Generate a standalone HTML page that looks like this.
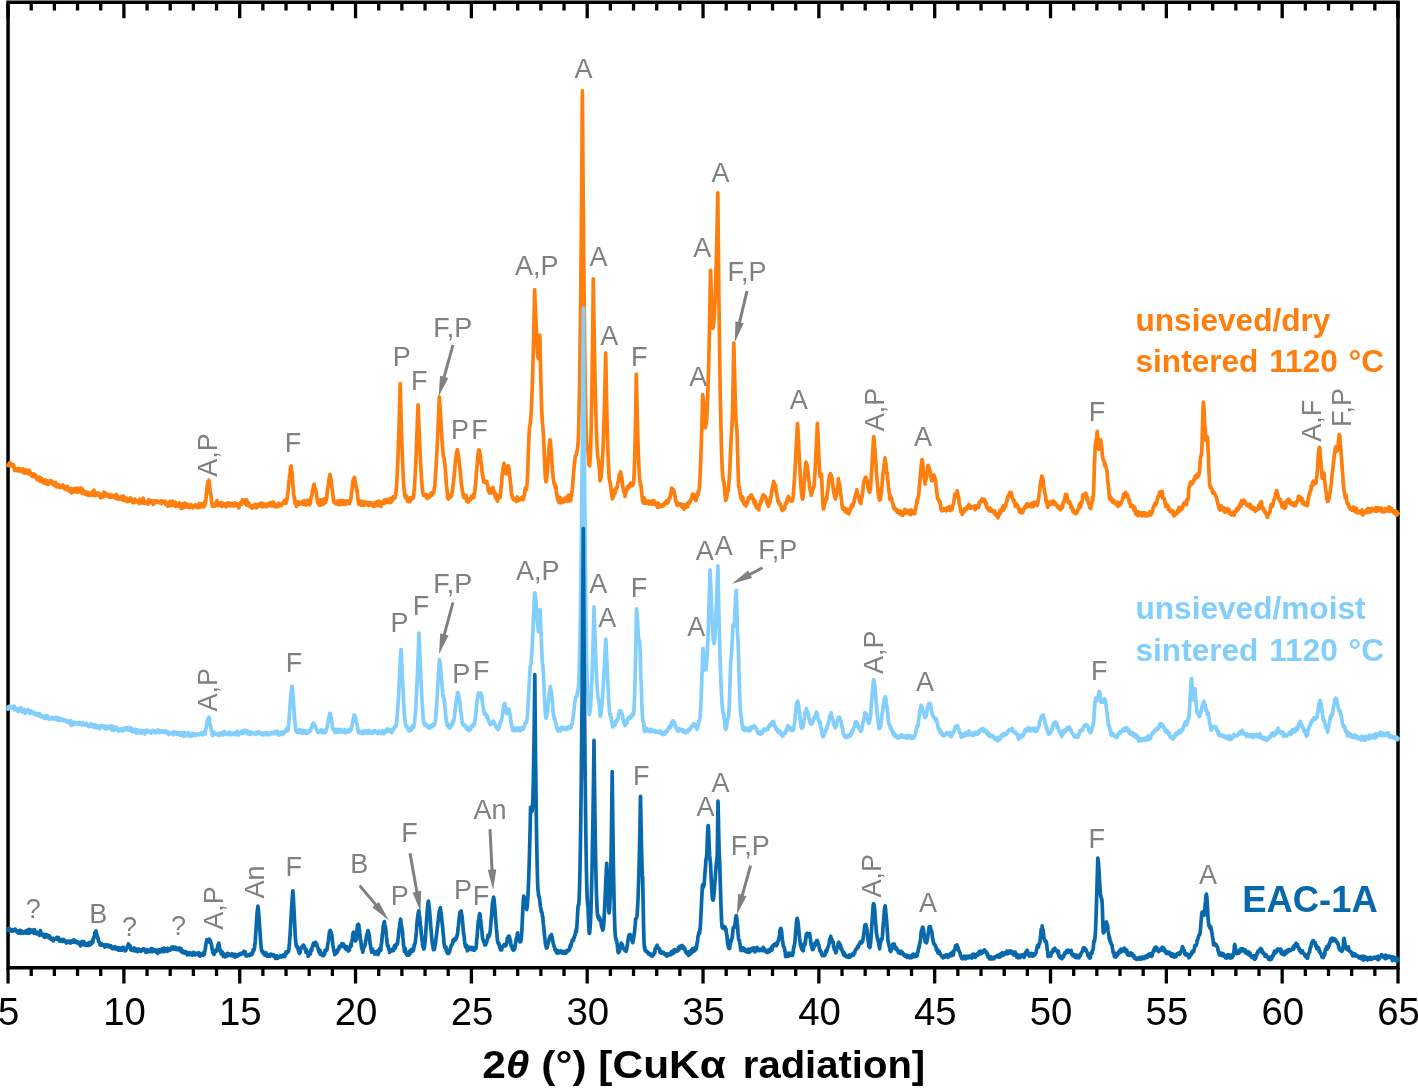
<!DOCTYPE html>
<html><head><meta charset="utf-8"><title>XRD</title>
<style>html,body{margin:0;padding:0;background:#fff}svg{display:block}</style></head>
<body>
<svg width="1418" height="1088" viewBox="0 0 1418 1088">
<rect width="1418" height="1088" fill="#fff"/>
<g stroke="#000" stroke-width="3.5" fill="none" stroke-linecap="butt">
<path d="M8.05 2.30 H1398.00 V967.70 H8.05 Z"/>
<path stroke-width="3.3" d="M8.05 2.30 V18.30 M8.05 967.70 V983.50 M31.22 2.30 V10.60 M31.22 967.70 V976.10 M54.38 2.30 V10.60 M54.38 967.70 V976.10 M77.55 2.30 V10.60 M77.55 967.70 V976.10 M100.71 2.30 V10.60 M100.71 967.70 V976.10 M123.88 2.30 V18.30 M123.88 967.70 V983.50 M147.05 2.30 V10.60 M147.05 967.70 V976.10 M170.21 2.30 V10.60 M170.21 967.70 V976.10 M193.38 2.30 V10.60 M193.38 967.70 V976.10 M216.54 2.30 V10.60 M216.54 967.70 V976.10 M239.71 2.30 V18.30 M239.71 967.70 V983.50 M262.88 2.30 V10.60 M262.88 967.70 V976.10 M286.04 2.30 V10.60 M286.04 967.70 V976.10 M309.21 2.30 V10.60 M309.21 967.70 V976.10 M332.37 2.30 V10.60 M332.37 967.70 V976.10 M355.54 2.30 V18.30 M355.54 967.70 V983.50 M378.71 2.30 V10.60 M378.71 967.70 V976.10 M401.87 2.30 V10.60 M401.87 967.70 V976.10 M425.04 2.30 V10.60 M425.04 967.70 V976.10 M448.20 2.30 V10.60 M448.20 967.70 V976.10 M471.37 2.30 V18.30 M471.37 967.70 V983.50 M494.54 2.30 V10.60 M494.54 967.70 V976.10 M517.70 2.30 V10.60 M517.70 967.70 V976.10 M540.87 2.30 V10.60 M540.87 967.70 V976.10 M564.03 2.30 V10.60 M564.03 967.70 V976.10 M587.20 2.30 V18.30 M587.20 967.70 V983.50 M610.37 2.30 V10.60 M610.37 967.70 V976.10 M633.53 2.30 V10.60 M633.53 967.70 V976.10 M656.70 2.30 V10.60 M656.70 967.70 V976.10 M679.86 2.30 V10.60 M679.86 967.70 V976.10 M703.03 2.30 V18.30 M703.03 967.70 V983.50 M726.20 2.30 V10.60 M726.20 967.70 V976.10 M749.36 2.30 V10.60 M749.36 967.70 V976.10 M772.53 2.30 V10.60 M772.53 967.70 V976.10 M795.69 2.30 V10.60 M795.69 967.70 V976.10 M818.86 2.30 V18.30 M818.86 967.70 V983.50 M842.03 2.30 V10.60 M842.03 967.70 V976.10 M865.19 2.30 V10.60 M865.19 967.70 V976.10 M888.36 2.30 V10.60 M888.36 967.70 V976.10 M911.52 2.30 V10.60 M911.52 967.70 V976.10 M934.69 2.30 V18.30 M934.69 967.70 V983.50 M957.86 2.30 V10.60 M957.86 967.70 V976.10 M981.02 2.30 V10.60 M981.02 967.70 V976.10 M1004.19 2.30 V10.60 M1004.19 967.70 V976.10 M1027.35 2.30 V10.60 M1027.35 967.70 V976.10 M1050.52 2.30 V18.30 M1050.52 967.70 V983.50 M1073.69 2.30 V10.60 M1073.69 967.70 V976.10 M1096.85 2.30 V10.60 M1096.85 967.70 V976.10 M1120.02 2.30 V10.60 M1120.02 967.70 V976.10 M1143.18 2.30 V10.60 M1143.18 967.70 V976.10 M1166.35 2.30 V18.30 M1166.35 967.70 V983.50 M1189.52 2.30 V10.60 M1189.52 967.70 V976.10 M1212.68 2.30 V10.60 M1212.68 967.70 V976.10 M1235.85 2.30 V10.60 M1235.85 967.70 V976.10 M1259.01 2.30 V10.60 M1259.01 967.70 V976.10 M1282.18 2.30 V18.30 M1282.18 967.70 V983.50 M1305.35 2.30 V10.60 M1305.35 967.70 V976.10 M1328.51 2.30 V10.60 M1328.51 967.70 V976.10 M1351.68 2.30 V10.60 M1351.68 967.70 V976.10 M1374.84 2.30 V10.60 M1374.84 967.70 V976.10 M1398.01 2.30 V18.30 M1398.01 967.70 V983.50"/>
</g>
<g fill="none" stroke-linejoin="round" stroke-linecap="round" stroke-width="3.7">
<path stroke="#FF7F0E" d="M8.0 465.0 L8.4 465.6 L8.8 464.3 L9.2 463.5 L9.6 463.0 L10.0 464.6 L10.4 463.6 L10.8 463.4 L11.2 465.6 L11.6 465.9 L12.0 466.3 L12.4 464.5 L12.8 465.6 L13.2 466.4 L13.6 464.9 L14.0 467.5 L14.4 467.5 L14.8 470.4 L15.2 468.4 L15.6 468.7 L16.0 470.6 L16.4 469.5 L16.8 470.1 L17.2 468.8 L17.6 469.7 L18.0 470.9 L18.4 470.9 L18.8 469.8 L19.2 468.3 L19.6 470.3 L20.0 470.0 L20.4 471.2 L20.8 470.3 L21.2 471.5 L21.6 470.3 L22.0 470.2 L22.4 471.0 L22.8 468.8 L23.2 470.2 L23.6 470.3 L24.0 473.1 L24.4 470.7 L24.8 471.7 L25.2 471.9 L25.6 471.5 L26.0 470.0 L26.4 472.9 L26.8 470.8 L27.2 472.0 L27.6 470.0 L28.0 471.4 L28.4 473.5 L28.8 473.8 L29.2 470.3 L29.6 470.7 L30.0 472.9 L30.4 474.5 L30.8 474.2 L31.2 474.7 L31.6 473.6 L32.0 475.8 L32.4 476.6 L32.8 474.9 L33.2 473.9 L33.6 474.4 L34.0 476.6 L34.4 474.1 L34.8 475.8 L35.2 474.8 L35.6 476.0 L36.0 476.1 L36.4 476.8 L36.8 479.2 L37.2 478.6 L37.6 479.9 L38.0 478.3 L38.4 478.6 L38.8 480.1 L39.2 476.8 L39.6 480.3 L40.0 480.9 L40.4 479.2 L40.8 481.5 L41.2 480.6 L41.6 478.2 L42.0 481.1 L42.4 480.1 L42.8 480.6 L43.2 481.2 L43.6 483.0 L44.0 482.0 L44.4 481.8 L44.8 482.0 L45.2 479.8 L45.6 483.6 L46.0 480.7 L46.4 482.6 L46.8 480.8 L47.2 481.0 L47.6 481.6 L48.0 484.6 L48.4 483.5 L48.8 481.8 L49.2 481.7 L49.6 480.8 L50.0 482.2 L50.4 481.7 L50.8 483.1 L51.2 480.8 L51.6 481.8 L52.0 481.4 L52.4 482.0 L52.8 484.1 L53.2 483.6 L53.6 484.5 L54.0 485.2 L54.4 485.4 L54.8 482.5 L55.2 485.0 L55.6 482.4 L56.0 484.2 L56.4 486.8 L56.8 484.6 L57.2 484.5 L57.6 485.3 L58.0 485.4 L58.4 485.6 L58.8 484.9 L59.2 487.1 L59.6 487.4 L60.0 486.0 L60.4 486.6 L60.8 486.8 L61.2 487.3 L61.6 486.8 L62.0 487.3 L62.4 485.8 L62.8 485.0 L63.2 485.7 L63.6 487.8 L64.0 488.0 L64.4 487.2 L64.8 486.9 L65.2 487.9 L65.6 489.4 L66.0 489.5 L66.4 487.1 L66.8 488.0 L67.2 486.5 L67.6 487.1 L68.0 489.3 L68.4 488.9 L68.8 490.0 L69.2 490.9 L69.6 490.5 L70.0 491.3 L70.4 489.3 L70.8 488.5 L71.2 490.5 L71.6 493.0 L72.0 490.5 L72.4 489.0 L72.8 490.5 L73.2 491.9 L73.6 488.9 L74.0 490.8 L74.4 488.9 L74.8 491.4 L75.0 490.6 L75.2 490.0 L75.6 491.8 L76.0 488.6 L76.4 488.3 L76.8 491.5 L77.2 488.4 L77.6 492.4 L78.0 489.5 L78.4 488.4 L78.8 489.8 L79.2 490.5 L79.6 490.9 L80.0 490.4 L80.4 491.9 L80.8 487.9 L81.2 490.3 L81.6 490.9 L82.0 493.3 L82.4 489.0 L82.8 491.1 L83.2 490.2 L83.6 490.8 L84.0 492.5 L84.4 492.7 L84.8 494.0 L85.2 491.9 L85.6 493.3 L86.0 494.4 L86.4 493.8 L86.8 492.4 L87.2 494.5 L87.6 492.1 L88.0 495.3 L88.4 493.2 L88.8 493.0 L89.2 493.4 L89.6 494.0 L90.0 495.4 L90.4 493.5 L90.8 493.3 L91.2 494.8 L91.6 493.0 L92.0 492.1 L92.4 494.9 L92.8 493.5 L93.2 495.2 L93.6 492.7 L94.0 490.1 L94.4 494.1 L94.8 494.0 L95.2 495.6 L95.6 494.4 L96.0 494.3 L96.4 494.6 L96.8 493.5 L97.2 494.3 L97.6 492.8 L98.0 495.0 L98.4 493.3 L98.8 494.0 L99.2 495.4 L99.6 495.7 L100.0 493.7 L100.4 497.8 L100.8 494.8 L101.2 496.4 L101.6 496.6 L102.0 495.6 L102.4 495.3 L102.8 497.1 L103.2 496.0 L103.6 495.2 L104.0 492.1 L104.4 493.2 L104.8 495.7 L105.2 494.5 L105.6 493.2 L106.0 493.9 L106.4 494.6 L106.8 495.9 L107.2 495.5 L107.6 496.5 L108.0 494.5 L108.4 496.5 L108.8 494.6 L109.2 495.0 L109.6 497.4 L110.0 495.7 L110.4 495.6 L110.8 495.6 L111.2 495.0 L111.6 497.1 L112.0 497.2 L112.4 496.7 L112.8 495.9 L113.2 496.9 L113.6 495.5 L114.0 496.1 L114.4 496.1 L114.8 496.1 L115.2 498.1 L115.6 498.3 L116.0 497.8 L116.4 494.3 L116.8 498.9 L117.2 497.8 L117.6 496.3 L118.0 497.5 L118.4 499.3 L118.8 499.2 L119.2 499.0 L119.6 498.1 L120.0 497.9 L120.4 499.1 L120.8 497.6 L121.2 496.7 L121.6 496.7 L122.0 496.9 L122.4 497.9 L122.8 500.1 L123.2 495.9 L123.6 498.6 L124.0 497.8 L124.4 498.9 L124.8 500.6 L125.2 500.4 L125.6 499.0 L126.0 498.7 L126.4 498.0 L126.8 499.8 L127.2 501.7 L127.6 499.8 L128.0 500.8 L128.4 500.8 L128.8 500.4 L129.2 501.2 L129.6 499.4 L130.0 498.5 L130.4 497.9 L130.8 500.4 L131.2 499.5 L131.6 499.6 L132.0 501.0 L132.4 499.4 L132.8 502.7 L133.2 501.7 L133.6 500.6 L134.0 500.8 L134.4 502.5 L134.8 499.1 L135.2 499.9 L135.6 501.0 L136.0 501.5 L136.4 501.2 L136.8 501.6 L137.2 500.6 L137.6 500.6 L138.0 502.3 L138.4 501.9 L138.8 500.9 L139.2 503.6 L139.6 499.0 L140.0 501.7 L140.4 502.5 L140.8 502.8 L141.2 502.0 L141.6 501.7 L142.0 502.8 L142.4 501.8 L142.8 502.1 L143.2 498.0 L143.6 501.9 L144.0 500.9 L144.4 503.5 L144.8 503.2 L145.2 503.1 L145.6 502.0 L146.0 502.9 L146.4 502.1 L146.8 502.9 L147.2 502.2 L147.6 501.3 L148.0 504.2 L148.4 502.8 L148.8 499.5 L149.2 502.9 L149.6 500.3 L150.0 501.8 L150.4 501.5 L150.8 501.8 L151.2 502.6 L151.6 502.1 L152.0 500.7 L152.4 502.5 L152.8 502.8 L153.2 504.5 L153.6 502.1 L154.0 501.1 L154.4 501.7 L154.8 502.9 L155.2 500.9 L155.6 501.4 L156.0 502.5 L156.4 502.2 L156.8 502.3 L157.2 500.9 L157.6 500.8 L158.0 501.4 L158.4 501.8 L158.8 501.8 L159.2 502.4 L159.6 502.8 L160.0 502.6 L160.4 502.5 L160.8 501.2 L161.2 501.0 L161.6 503.6 L162.0 502.7 L162.4 502.5 L162.8 501.2 L163.2 502.2 L163.6 502.2 L164.0 501.8 L164.4 501.9 L164.8 501.1 L165.2 503.3 L165.6 504.4 L166.0 502.5 L166.4 504.0 L166.8 503.0 L167.2 504.8 L167.6 506.4 L168.0 503.1 L168.4 504.0 L168.8 505.8 L169.2 505.2 L169.6 504.5 L170.0 501.4 L170.4 503.4 L170.8 504.8 L171.2 505.5 L171.6 504.4 L172.0 502.9 L172.4 503.0 L172.8 501.2 L173.2 502.7 L173.6 505.4 L174.0 504.3 L174.4 502.7 L174.8 505.7 L175.2 502.2 L175.6 506.3 L176.0 504.1 L176.4 505.0 L176.8 505.2 L177.2 504.9 L177.6 506.2 L178.0 505.2 L178.4 505.2 L178.8 504.4 L179.2 502.9 L179.6 504.5 L180.0 506.8 L180.4 506.4 L180.8 507.0 L181.2 508.6 L181.6 506.0 L182.0 505.6 L182.4 503.6 L182.8 505.0 L183.2 508.0 L183.6 505.8 L184.0 505.3 L184.4 506.0 L184.8 503.2 L185.2 504.7 L185.6 504.2 L186.0 503.6 L186.4 507.1 L186.8 507.0 L187.2 505.8 L187.6 506.6 L188.0 504.7 L188.4 506.3 L188.8 506.7 L189.2 507.7 L189.6 507.5 L190.0 506.3 L190.4 505.5 L190.8 504.5 L191.2 504.8 L191.6 506.5 L192.0 506.8 L192.4 505.9 L192.8 507.9 L193.2 506.8 L193.6 506.1 L194.0 505.9 L194.4 506.5 L194.8 505.1 L195.2 504.9 L195.6 506.4 L196.0 505.4 L196.4 505.6 L196.8 507.5 L197.2 505.7 L197.6 507.6 L198.0 505.7 L198.4 507.5 L198.8 506.6 L199.2 503.7 L199.6 507.3 L200.0 505.6 L200.4 503.5 L200.8 506.0 L201.2 505.7 L201.6 503.8 L202.0 504.5 L202.4 505.6 L202.8 507.0 L203.2 506.6 L203.6 506.8 L204.0 506.7 L204.4 502.5 L204.5 504.9 L204.8 505.4 L205.2 500.8 L205.6 502.3 L206.0 499.0 L206.4 493.3 L206.8 489.7 L207.2 485.7 L207.6 483.9 L208.0 481.7 L208.4 481.0 L208.8 480.3 L209.2 483.7 L209.6 485.7 L210.0 490.2 L210.4 493.1 L210.8 494.2 L211.2 497.3 L211.6 502.2 L212.0 503.5 L212.4 505.6 L212.5 506.2 L212.8 505.2 L213.2 503.6 L213.6 503.9 L214.0 505.9 L214.4 503.8 L214.8 506.2 L215.2 504.8 L215.6 505.6 L216.0 503.7 L216.4 504.4 L216.8 500.5 L217.2 504.2 L217.6 505.4 L218.0 503.9 L218.4 503.8 L218.8 504.5 L219.2 504.4 L219.6 503.4 L220.0 505.3 L220.4 502.5 L220.8 505.8 L221.2 502.6 L221.6 503.6 L222.0 506.5 L222.4 503.7 L222.8 503.3 L223.2 505.6 L223.6 504.2 L224.0 503.9 L224.4 504.1 L224.8 504.3 L225.2 503.7 L225.6 503.6 L226.0 506.9 L226.4 503.9 L226.8 505.8 L227.2 503.2 L227.6 505.6 L228.0 503.5 L228.4 504.6 L228.8 505.7 L229.2 504.5 L229.6 503.0 L230.0 504.7 L230.4 505.0 L230.8 505.9 L231.2 504.1 L231.6 505.0 L232.0 505.3 L232.4 503.5 L232.8 505.5 L233.2 504.5 L233.6 506.0 L234.0 505.6 L234.4 505.5 L234.8 502.8 L235.2 505.6 L235.6 505.3 L236.0 504.7 L236.4 504.8 L236.8 503.8 L237.2 505.7 L237.6 506.3 L238.0 506.4 L238.4 505.3 L238.8 507.9 L239.2 506.7 L239.6 504.1 L240.0 504.8 L240.4 502.7 L240.8 503.9 L241.2 504.2 L241.6 504.2 L242.0 501.7 L242.4 499.8 L242.8 501.0 L243.2 503.0 L243.6 501.2 L244.0 502.3 L244.4 501.8 L244.5 502.8 L244.8 501.5 L245.2 499.9 L245.6 501.4 L246.0 504.5 L246.4 500.8 L246.8 499.9 L247.2 505.5 L247.6 503.8 L248.0 503.0 L248.4 503.6 L248.8 502.8 L249.2 506.0 L249.6 505.5 L250.0 505.2 L250.4 505.5 L250.8 505.5 L251.2 507.4 L251.6 506.1 L252.0 508.1 L252.4 505.6 L252.8 505.8 L253.2 505.8 L253.6 505.4 L254.0 505.8 L254.4 507.1 L254.8 507.4 L255.2 504.4 L255.6 507.2 L256.0 506.1 L256.4 507.8 L256.8 505.9 L257.2 504.9 L257.6 506.8 L258.0 506.6 L258.4 505.1 L258.8 505.8 L259.2 505.9 L259.6 505.9 L260.0 503.4 L260.4 503.7 L260.8 505.5 L261.2 506.0 L261.6 504.8 L262.0 503.2 L262.4 506.8 L262.8 504.7 L263.2 503.5 L263.6 506.7 L264.0 506.7 L264.4 506.7 L264.8 506.0 L265.2 505.9 L265.6 504.4 L266.0 505.7 L266.4 506.2 L266.8 506.6 L267.2 506.2 L267.6 504.3 L268.0 504.7 L268.4 505.1 L268.8 505.4 L269.2 504.3 L269.6 503.0 L270.0 503.8 L270.4 505.6 L270.8 505.2 L271.2 505.7 L271.6 502.5 L272.0 503.9 L272.4 505.2 L272.8 502.0 L273.2 503.0 L273.6 502.5 L274.0 506.5 L274.4 505.1 L274.8 504.4 L275.2 505.3 L275.6 505.2 L276.0 506.6 L276.4 507.0 L276.8 506.5 L277.2 505.3 L277.6 505.8 L278.0 506.1 L278.4 506.5 L278.8 503.1 L279.2 505.7 L279.6 505.1 L280.0 504.9 L280.4 504.8 L280.8 505.4 L281.2 505.6 L281.6 504.9 L282.0 504.7 L282.4 503.0 L282.8 502.9 L283.0 503.5 L283.2 502.2 L283.6 503.2 L284.0 502.2 L284.4 500.9 L284.8 500.1 L285.2 501.0 L285.6 500.4 L286.0 503.3 L286.4 501.7 L286.5 499.9 L286.8 499.9 L287.2 497.6 L287.6 495.0 L288.0 492.0 L288.4 488.2 L288.8 482.8 L289.2 480.0 L289.6 475.8 L290.0 473.8 L290.4 467.0 L290.8 467.9 L290.9 466.4 L291.2 466.0 L291.6 469.8 L292.0 471.9 L292.4 477.5 L292.8 485.0 L293.2 487.8 L293.6 493.4 L294.0 496.7 L294.4 497.1 L294.8 502.2 L295.2 503.5 L295.5 503.9 L295.6 502.4 L296.0 501.4 L296.4 506.3 L296.8 505.4 L297.2 504.3 L297.6 502.8 L298.0 503.6 L298.4 501.8 L298.8 504.3 L299.2 503.2 L299.6 502.8 L300.0 502.4 L300.4 502.5 L300.8 502.5 L301.2 502.5 L301.6 503.9 L302.0 502.7 L302.4 502.6 L302.8 501.3 L303.2 504.0 L303.6 504.4 L304.0 503.7 L304.4 500.7 L304.8 502.3 L305.2 504.1 L305.6 503.4 L306.0 505.0 L306.4 503.0 L306.8 504.2 L307.2 503.6 L307.6 500.1 L308.0 503.0 L308.4 503.0 L308.8 502.7 L309.2 501.7 L309.6 504.7 L310.0 503.0 L310.4 503.6 L310.8 500.1 L311.2 497.1 L311.6 496.3 L312.0 494.8 L312.4 490.7 L312.8 490.3 L313.2 488.4 L313.6 485.2 L314.0 485.2 L314.2 484.2 L314.4 486.6 L314.8 488.4 L315.2 488.5 L315.6 489.2 L316.0 491.3 L316.4 494.3 L316.8 498.2 L317.2 498.2 L317.6 502.5 L318.0 500.9 L318.4 502.5 L318.5 504.0 L318.8 504.6 L319.2 501.6 L319.6 502.9 L320.0 505.2 L320.4 503.6 L320.8 499.7 L321.2 502.2 L321.6 504.9 L322.0 500.6 L322.4 503.0 L322.8 499.5 L323.2 504.2 L323.6 501.0 L324.0 503.2 L324.4 503.0 L324.8 498.6 L325.2 500.2 L325.5 502.3 L325.6 499.9 L326.0 501.0 L326.4 497.8 L326.8 498.3 L327.2 492.5 L327.6 488.6 L328.0 486.9 L328.4 484.6 L328.8 480.1 L329.2 478.5 L329.6 477.2 L329.8 475.6 L330.0 474.4 L330.4 478.3 L330.8 478.9 L331.2 480.0 L331.6 485.5 L332.0 488.3 L332.4 491.4 L332.8 493.6 L333.2 497.5 L333.6 501.4 L334.0 502.4 L334.4 501.5 L334.5 501.3 L334.8 502.6 L335.2 502.5 L335.6 503.4 L336.0 501.0 L336.4 503.3 L336.8 504.0 L337.2 503.1 L337.6 502.4 L338.0 503.7 L338.4 501.1 L338.8 501.8 L339.2 504.8 L339.6 500.3 L340.0 500.8 L340.4 503.1 L340.8 501.2 L341.2 501.6 L341.6 500.8 L342.0 504.3 L342.4 501.6 L342.8 501.9 L343.2 500.5 L343.6 503.3 L344.0 502.5 L344.4 503.5 L344.8 504.4 L345.2 502.8 L345.6 501.1 L346.0 501.3 L346.4 502.5 L346.8 503.9 L347.2 501.1 L347.6 502.1 L348.0 502.1 L348.4 503.2 L348.8 501.3 L349.2 502.9 L349.5 503.5 L349.6 502.6 L350.0 501.7 L350.4 501.0 L350.8 498.6 L351.2 496.6 L351.6 490.9 L352.0 490.6 L352.4 485.9 L352.8 482.2 L353.2 480.5 L353.6 478.5 L354.0 479.1 L354.1 480.7 L354.4 477.3 L354.8 479.2 L355.2 482.7 L355.6 483.1 L356.0 486.7 L356.4 487.1 L356.8 491.3 L357.2 490.7 L357.6 495.5 L358.0 499.7 L358.4 502.2 L358.8 504.2 L359.2 503.1 L359.5 502.4 L359.6 502.7 L360.0 500.8 L360.4 504.7 L360.8 504.6 L361.2 502.2 L361.6 505.5 L362.0 501.8 L362.4 504.0 L362.8 502.3 L363.2 501.5 L363.6 504.1 L364.0 502.4 L364.4 505.3 L364.8 502.3 L365.2 503.3 L365.6 502.5 L366.0 503.2 L366.4 502.2 L366.8 504.0 L367.2 503.7 L367.6 503.0 L368.0 502.6 L368.4 505.5 L368.8 502.8 L369.2 503.5 L369.6 505.2 L370.0 504.5 L370.4 502.6 L370.8 504.5 L371.2 504.2 L371.6 503.4 L372.0 504.9 L372.4 503.3 L372.8 504.4 L373.2 503.3 L373.6 506.6 L374.0 504.3 L374.4 505.2 L374.8 505.3 L375.0 506.0 L375.2 505.0 L375.6 505.7 L376.0 504.9 L376.4 501.8 L376.8 504.6 L377.2 502.7 L377.6 505.4 L378.0 504.5 L378.4 503.8 L378.8 501.1 L379.2 501.8 L379.6 503.0 L380.0 503.8 L380.4 502.7 L380.8 506.6 L381.2 504.5 L381.6 503.6 L382.0 502.1 L382.4 502.9 L382.8 502.6 L383.2 502.2 L383.6 502.1 L384.0 503.1 L384.4 499.8 L384.8 501.9 L385.2 503.1 L385.6 500.0 L386.0 501.2 L386.4 500.9 L386.8 499.5 L387.2 502.2 L387.6 500.5 L388.0 502.4 L388.4 501.7 L388.8 500.5 L389.2 500.9 L389.6 500.0 L390.0 498.7 L390.4 502.6 L390.8 501.4 L391.2 502.1 L391.6 498.0 L392.0 500.9 L392.4 500.4 L392.8 499.4 L393.2 496.5 L393.6 498.6 L394.0 497.6 L394.4 497.8 L394.7 498.1 L394.8 497.5 L395.2 497.2 L395.6 495.0 L396.0 492.4 L396.4 486.8 L396.8 482.7 L397.2 473.4 L397.6 465.8 L398.0 457.0 L398.4 444.8 L398.8 434.0 L399.2 420.8 L399.6 406.1 L400.0 390.8 L400.2 383.5 L400.4 390.9 L400.8 407.3 L401.2 422.1 L401.6 435.9 L402.0 445.9 L402.4 457.2 L402.8 466.8 L403.2 475.6 L403.6 482.8 L404.0 488.5 L404.4 492.0 L404.8 496.1 L405.2 496.7 L405.5 497.6 L405.6 496.0 L406.0 497.5 L406.4 495.8 L406.8 499.0 L407.2 499.4 L407.6 501.5 L408.0 499.0 L408.4 498.7 L408.8 501.7 L409.2 501.4 L409.5 500.4 L409.6 499.6 L410.0 501.6 L410.4 497.7 L410.8 498.5 L411.2 499.8 L411.6 497.5 L412.0 498.0 L412.4 497.9 L412.8 498.0 L413.0 498.4 L413.2 497.3 L413.6 495.1 L414.0 491.7 L414.4 487.7 L414.8 481.6 L415.2 475.0 L415.6 467.3 L416.0 458.2 L416.4 447.5 L416.8 437.8 L417.2 426.8 L417.6 415.2 L418.0 404.8 L418.4 414.0 L418.8 423.5 L419.2 431.9 L419.6 440.3 L420.0 450.4 L420.4 459.9 L420.8 466.7 L421.2 473.9 L421.6 479.7 L422.0 485.3 L422.4 489.2 L422.8 493.1 L423.2 493.4 L423.5 493.6 L423.6 495.4 L424.0 494.9 L424.4 494.9 L424.8 494.9 L425.2 495.0 L425.6 496.0 L426.0 496.8 L426.4 496.8 L426.8 494.6 L427.2 498.6 L427.3 496.2 L427.6 495.8 L428.0 496.3 L428.4 495.9 L428.8 495.6 L429.2 496.2 L429.6 497.2 L430.0 495.4 L430.4 495.8 L430.8 493.2 L431.2 495.6 L431.6 493.1 L432.0 495.1 L432.4 492.9 L432.8 493.0 L433.0 492.2 L433.2 493.0 L433.6 492.8 L434.0 490.6 L434.4 488.4 L434.8 485.4 L435.2 479.5 L435.6 474.2 L436.0 468.3 L436.4 461.2 L436.8 454.3 L437.2 446.3 L437.6 438.2 L438.0 428.2 L438.4 419.4 L438.8 409.8 L439.2 400.9 L439.3 397.2 L439.6 401.3 L440.0 407.1 L440.4 413.2 L440.8 419.2 L441.2 426.0 L441.6 432.4 L442.0 439.8 L442.4 445.9 L442.8 450.0 L443.2 455.2 L443.6 457.3 L444.0 457.9 L444.4 459.9 L444.8 464.3 L445.2 467.6 L445.6 473.8 L446.0 478.2 L446.4 485.3 L446.8 487.4 L447.2 492.2 L447.6 498.0 L448.0 498.1 L448.4 499.0 L448.8 496.0 L449.2 497.9 L449.6 497.7 L450.0 497.3 L450.4 495.3 L450.8 497.0 L451.0 495.8 L451.2 494.0 L451.6 495.4 L452.0 492.6 L452.4 491.0 L452.8 487.2 L453.2 483.8 L453.6 481.2 L454.0 477.3 L454.4 472.2 L454.8 468.7 L455.2 463.9 L455.6 459.6 L456.0 457.9 L456.4 453.5 L456.8 452.1 L457.2 450.4 L457.3 449.5 L457.6 451.5 L458.0 453.0 L458.4 455.5 L458.8 458.3 L459.2 462.0 L459.6 465.7 L460.0 468.7 L460.4 473.2 L460.8 477.1 L461.2 482.8 L461.6 485.4 L462.0 487.4 L462.4 491.2 L462.8 491.9 L463.2 494.7 L463.6 497.0 L464.0 496.3 L464.4 497.9 L464.8 496.2 L465.2 497.7 L465.6 498.1 L466.0 495.3 L466.4 497.7 L466.8 501.2 L467.2 498.5 L467.6 501.3 L468.0 502.1 L468.4 500.0 L468.8 501.3 L469.2 500.5 L469.6 498.9 L470.0 500.0 L470.4 499.8 L470.8 497.7 L471.2 497.7 L471.6 496.1 L472.0 496.9 L472.4 497.1 L472.8 495.6 L473.2 494.7 L473.5 498.0 L473.6 497.7 L474.0 495.5 L474.4 494.3 L474.8 491.0 L475.2 486.2 L475.6 484.4 L476.0 478.7 L476.4 472.6 L476.8 469.1 L477.2 463.9 L477.6 459.7 L478.0 455.5 L478.4 452.0 L478.8 449.9 L479.2 450.0 L479.6 452.1 L480.0 453.0 L480.4 455.6 L480.8 460.4 L481.2 464.1 L481.6 465.3 L482.0 471.2 L482.4 475.3 L482.8 475.4 L483.2 478.3 L483.6 481.9 L484.0 479.6 L484.4 481.9 L484.8 482.3 L485.2 481.7 L485.6 481.9 L485.7 482.4 L486.0 481.9 L486.4 482.6 L486.8 481.4 L487.2 484.4 L487.6 484.4 L488.0 488.8 L488.4 491.2 L488.8 491.2 L489.2 488.4 L489.6 493.2 L490.0 492.3 L490.4 490.7 L490.8 490.6 L491.2 492.9 L491.6 490.3 L492.0 491.1 L492.4 490.9 L492.8 491.6 L493.0 487.3 L493.2 491.8 L493.6 490.1 L494.0 491.0 L494.4 493.5 L494.8 494.8 L495.2 493.0 L495.6 497.9 L496.0 498.2 L496.4 497.7 L496.8 499.1 L497.0 497.5 L497.2 500.6 L497.6 501.2 L498.0 497.7 L498.4 496.9 L498.8 495.2 L499.2 495.9 L499.5 495.5 L499.6 496.3 L500.0 497.7 L500.4 494.7 L500.8 491.6 L501.2 485.8 L501.6 483.6 L502.0 477.4 L502.4 472.7 L502.8 470.8 L503.2 466.7 L503.6 467.7 L503.9 464.2 L504.0 463.4 L504.4 465.5 L504.8 465.5 L505.2 469.9 L505.6 473.5 L506.0 472.4 L506.2 472.1 L506.4 473.9 L506.8 470.2 L507.2 470.6 L507.6 468.0 L508.0 467.6 L508.4 465.9 L508.8 468.4 L509.2 470.8 L509.6 475.9 L510.0 477.5 L510.4 483.0 L510.8 484.5 L511.2 489.9 L511.6 494.6 L512.0 495.2 L512.4 498.0 L512.5 497.3 L512.8 498.8 L513.2 499.2 L513.6 498.2 L514.0 499.8 L514.4 498.4 L514.8 499.2 L515.2 499.7 L515.6 499.9 L516.0 500.0 L516.4 501.5 L516.8 498.4 L517.0 499.0 L517.2 496.9 L517.6 500.4 L518.0 498.4 L518.4 499.2 L518.8 499.4 L519.2 500.3 L519.6 499.4 L520.0 499.3 L520.4 499.4 L520.8 499.1 L521.2 499.1 L521.6 497.6 L522.0 497.6 L522.4 497.0 L522.8 499.4 L523.0 499.6 L523.2 499.3 L523.6 498.4 L524.0 495.7 L524.4 495.7 L524.8 491.1 L525.2 488.5 L525.6 487.8 L526.0 489.9 L526.4 487.9 L526.5 489.7 L526.8 486.3 L527.2 482.4 L527.6 474.5 L528.0 463.6 L528.4 451.9 L528.8 441.6 L529.2 431.6 L529.4 428.8 L529.6 426.6 L530.0 425.3 L530.4 422.6 L530.8 417.2 L531.2 412.6 L531.6 403.7 L532.0 393.2 L532.4 383.1 L532.8 370.0 L533.2 354.3 L533.6 339.1 L534.0 320.7 L534.4 300.1 L534.6 289.5 L534.8 294.1 L535.2 303.3 L535.6 313.0 L536.0 322.8 L536.4 331.3 L536.8 339.4 L537.2 347.1 L537.6 354.6 L538.0 357.6 L538.3 358.5 L538.4 357.2 L538.8 352.1 L539.2 343.2 L539.6 336.7 L539.8 335.0 L540.0 343.4 L540.4 360.8 L540.8 378.4 L541.2 393.2 L541.6 407.1 L542.0 416.0 L542.4 422.8 L542.8 426.4 L543.0 428.1 L543.2 432.0 L543.6 438.1 L544.0 446.7 L544.4 457.2 L544.8 467.3 L545.2 474.8 L545.6 479.9 L546.0 481.8 L546.4 480.1 L546.8 477.7 L547.2 473.9 L547.6 469.7 L548.0 461.3 L548.4 456.3 L548.8 451.3 L549.2 446.0 L549.6 442.3 L550.0 439.6 L550.4 441.6 L550.8 446.4 L551.2 451.8 L551.6 456.7 L552.0 463.3 L552.4 469.7 L552.8 473.8 L553.2 478.3 L553.6 480.2 L554.0 483.1 L554.4 484.9 L554.8 483.5 L555.2 487.6 L555.6 488.1 L556.0 486.7 L556.4 492.1 L556.8 494.1 L557.2 496.8 L557.6 498.8 L558.0 498.5 L558.4 501.5 L558.8 500.7 L559.2 502.6 L559.6 500.4 L560.0 497.4 L560.4 502.9 L560.8 501.6 L561.2 498.6 L561.6 500.6 L562.0 500.1 L562.4 502.4 L562.8 500.5 L563.2 502.1 L563.6 500.2 L564.0 501.6 L564.4 499.2 L564.8 498.4 L565.0 500.2 L565.2 499.4 L565.6 500.2 L566.0 497.3 L566.4 498.2 L566.8 498.7 L567.2 501.5 L567.6 499.7 L568.0 497.0 L568.4 495.0 L568.8 500.7 L569.2 498.6 L569.6 496.8 L570.0 499.6 L570.4 499.3 L570.7 500.8 L570.8 498.1 L571.2 496.7 L571.6 495.3 L572.0 490.9 L572.4 487.7 L572.8 482.6 L573.2 477.8 L573.6 472.5 L574.0 467.7 L574.4 463.5 L574.8 460.8 L575.2 457.7 L575.6 455.6 L576.0 455.4 L576.4 453.9 L576.8 451.4 L577.2 451.4 L577.5 448.7 L577.6 448.4 L578.0 444.3 L578.4 436.7 L578.8 423.8 L579.2 403.1 L579.6 382.7 L580.0 353.9 L580.4 322.6 L580.8 285.4 L581.2 242.8 L581.6 196.1 L582.0 145.4 L582.4 90.9 L582.8 144.7 L583.2 196.5 L583.6 243.5 L584.0 285.2 L584.4 322.9 L584.8 355.5 L585.2 381.8 L585.6 404.9 L586.0 422.3 L586.4 436.7 L586.8 444.1 L587.2 448.0 L587.3 447.6 L587.6 449.8 L588.0 452.2 L588.4 456.1 L588.8 464.6 L589.2 463.2 L589.4 466.0 L589.6 465.3 L590.0 461.1 L590.4 455.0 L590.8 442.3 L591.2 426.0 L591.6 405.9 L592.0 382.9 L592.4 355.0 L592.8 323.2 L593.2 287.2 L593.3 278.9 L593.6 298.6 L594.0 323.6 L594.4 346.1 L594.8 367.7 L595.2 387.4 L595.6 403.2 L596.0 418.5 L596.4 430.6 L596.8 441.1 L597.2 449.0 L597.6 454.6 L598.0 458.4 L598.4 460.0 L598.5 460.4 L598.8 464.3 L599.2 467.5 L599.6 471.7 L600.0 481.0 L600.3 479.5 L600.4 479.2 L600.8 478.7 L601.2 476.2 L601.6 472.7 L602.0 467.4 L602.4 461.0 L602.8 453.8 L603.2 444.6 L603.6 432.8 L604.0 421.4 L604.4 407.4 L604.8 392.4 L605.2 375.4 L605.6 357.4 L605.7 352.8 L606.0 369.1 L606.4 391.0 L606.8 409.4 L607.2 427.4 L607.6 441.6 L608.0 454.0 L608.4 463.7 L608.8 471.4 L609.2 478.3 L609.6 480.7 L610.0 482.1 L610.4 483.8 L610.8 487.3 L611.2 490.8 L611.6 493.7 L612.0 495.9 L612.3 498.8 L612.4 496.9 L612.8 496.8 L613.2 495.5 L613.6 496.2 L614.0 494.3 L614.4 492.1 L614.8 489.5 L615.2 492.8 L615.6 489.4 L616.0 488.5 L616.4 489.0 L616.8 487.2 L617.2 487.4 L617.6 485.2 L618.0 482.1 L618.4 482.2 L618.8 478.2 L619.2 474.7 L619.6 476.0 L620.0 473.8 L620.4 472.6 L620.5 471.9 L620.8 473.5 L621.2 474.6 L621.6 476.6 L622.0 479.1 L622.4 484.1 L622.8 486.5 L623.2 488.6 L623.6 491.6 L624.0 492.2 L624.4 492.2 L624.8 495.5 L625.0 496.5 L625.2 494.0 L625.6 493.4 L626.0 492.1 L626.4 489.6 L626.8 490.1 L627.2 486.8 L627.6 488.7 L628.0 488.7 L628.4 486.7 L628.8 486.2 L629.2 485.2 L629.6 486.9 L630.0 485.5 L630.4 483.1 L630.8 483.3 L631.2 484.7 L631.6 483.3 L632.0 484.3 L632.4 484.2 L632.8 485.3 L633.2 483.6 L633.6 482.7 L634.0 477.1 L634.4 467.7 L634.8 453.6 L635.2 437.5 L635.6 418.8 L636.0 393.8 L636.3 374.1 L636.4 379.4 L636.8 397.2 L637.2 414.3 L637.6 429.9 L638.0 443.4 L638.4 455.6 L638.8 464.1 L639.2 472.5 L639.6 478.6 L640.0 482.0 L640.4 484.3 L640.5 485.5 L640.8 484.0 L641.2 486.8 L641.6 491.3 L642.0 495.5 L642.4 498.6 L642.8 501.2 L643.2 502.4 L643.6 503.2 L644.0 500.1 L644.4 497.8 L644.8 502.8 L645.2 501.3 L645.6 501.3 L646.0 503.4 L646.4 501.7 L646.8 501.7 L647.2 501.2 L647.6 503.2 L648.0 503.4 L648.4 501.1 L648.8 501.7 L649.2 503.8 L649.6 501.3 L650.0 501.8 L650.4 501.8 L650.8 502.4 L651.2 504.0 L651.6 502.9 L652.0 504.1 L652.4 503.6 L652.8 500.5 L653.2 502.9 L653.6 502.9 L654.0 500.9 L654.4 504.2 L654.8 503.3 L655.2 503.1 L655.6 504.5 L656.0 505.2 L656.4 505.0 L656.8 503.8 L657.2 504.6 L657.6 507.5 L658.0 502.9 L658.4 504.8 L658.8 505.0 L659.2 506.9 L659.6 505.7 L660.0 505.3 L660.4 504.7 L660.8 506.6 L661.2 505.6 L661.6 505.4 L662.0 505.5 L662.4 506.0 L662.8 505.1 L663.2 505.1 L663.6 505.5 L664.0 503.3 L664.4 503.6 L664.8 503.7 L665.2 504.0 L665.6 503.2 L666.0 501.7 L666.4 500.8 L666.8 501.4 L667.2 501.4 L667.6 503.0 L668.0 502.4 L668.4 501.3 L668.8 499.4 L669.2 498.2 L669.6 498.3 L670.0 497.6 L670.4 495.7 L670.8 493.0 L671.2 492.3 L671.6 488.2 L672.0 491.1 L672.4 491.0 L672.5 489.5 L672.8 489.6 L673.2 489.4 L673.6 491.8 L674.0 491.1 L674.4 493.3 L674.8 496.3 L675.2 496.4 L675.6 500.7 L676.0 501.6 L676.4 502.5 L676.8 502.4 L677.0 505.3 L677.2 502.5 L677.6 503.8 L678.0 504.7 L678.4 503.6 L678.8 504.6 L679.2 503.9 L679.6 503.9 L680.0 503.8 L680.4 504.9 L680.8 503.9 L681.2 506.0 L681.6 506.7 L682.0 504.6 L682.4 504.5 L682.8 505.2 L683.0 506.2 L683.2 508.0 L683.6 507.4 L684.0 509.3 L684.4 508.8 L684.8 504.9 L685.2 505.8 L685.6 505.7 L686.0 507.5 L686.4 506.2 L686.8 506.4 L687.2 503.8 L687.6 506.8 L688.0 502.7 L688.4 503.6 L688.8 502.2 L689.0 502.1 L689.2 503.2 L689.6 501.6 L690.0 502.2 L690.4 501.2 L690.8 499.6 L691.2 499.0 L691.6 498.4 L692.0 497.4 L692.4 494.2 L692.8 495.9 L693.0 496.1 L693.2 494.9 L693.6 494.7 L694.0 497.2 L694.4 497.0 L694.8 497.2 L695.2 499.7 L695.6 499.2 L696.0 500.7 L696.4 497.4 L696.8 497.9 L697.2 493.1 L697.6 493.3 L698.0 495.0 L698.4 490.9 L698.5 492.0 L698.8 491.4 L699.2 489.0 L699.6 484.6 L700.0 478.1 L700.4 468.6 L700.8 458.5 L701.2 447.4 L701.6 435.2 L702.0 420.8 L702.4 407.3 L702.7 394.5 L702.8 396.4 L703.2 397.4 L703.6 403.6 L704.0 409.9 L704.4 419.8 L704.8 425.1 L705.2 427.5 L705.5 427.8 L705.6 425.7 L706.0 424.4 L706.4 422.1 L706.8 416.8 L707.2 409.1 L707.6 398.7 L708.0 387.0 L708.4 374.2 L708.8 359.6 L709.2 341.3 L709.6 321.3 L710.0 299.8 L710.4 276.6 L710.5 270.3 L710.8 276.5 L711.2 290.6 L711.6 303.4 L712.0 316.0 L712.4 324.1 L712.8 328.4 L713.2 327.4 L713.6 323.8 L714.0 320.5 L714.4 313.5 L714.8 305.2 L715.2 297.3 L715.6 284.9 L716.0 272.1 L716.4 257.0 L716.8 241.1 L717.2 222.7 L717.6 203.2 L717.8 192.9 L718.0 214.0 L718.4 252.1 L718.8 287.9 L719.2 320.6 L719.6 350.5 L720.0 377.1 L720.4 400.2 L720.8 420.0 L721.2 437.4 L721.6 452.5 L722.0 463.6 L722.4 472.0 L722.8 477.3 L723.2 479.5 L723.3 480.5 L723.6 481.5 L724.0 481.9 L724.4 488.2 L724.8 493.0 L725.2 496.4 L725.6 500.5 L725.8 500.3 L726.0 499.6 L726.4 497.2 L726.8 497.1 L727.2 493.5 L727.6 491.2 L728.0 488.1 L728.3 490.7 L728.4 486.4 L728.8 485.0 L729.2 479.9 L729.6 473.1 L730.0 464.4 L730.4 455.1 L730.8 445.8 L731.2 437.5 L731.6 430.9 L731.7 428.9 L732.0 426.1 L732.4 415.4 L732.8 398.7 L733.2 377.7 L733.6 353.4 L733.8 343.1 L734.0 350.3 L734.4 366.7 L734.8 380.2 L735.2 396.3 L735.6 408.8 L736.0 419.8 L736.4 426.6 L736.8 429.3 L736.9 429.5 L737.2 437.4 L737.6 451.3 L738.0 467.7 L738.4 479.1 L738.8 486.9 L739.0 487.5 L739.2 487.6 L739.6 489.4 L740.0 493.5 L740.4 494.0 L740.8 498.3 L741.2 496.4 L741.3 497.9 L741.6 497.9 L742.0 499.8 L742.4 500.7 L742.8 497.2 L743.2 500.9 L743.6 503.3 L744.0 502.1 L744.4 504.5 L744.8 504.5 L745.2 503.8 L745.6 502.2 L745.7 503.4 L746.0 506.0 L746.4 502.5 L746.8 502.2 L747.2 501.9 L747.6 503.3 L748.0 500.7 L748.4 497.8 L748.8 497.5 L749.2 498.0 L749.6 497.8 L750.0 498.1 L750.4 496.6 L750.6 496.6 L750.8 495.0 L751.2 495.8 L751.6 494.9 L752.0 497.1 L752.4 498.4 L752.8 498.9 L753.2 498.3 L753.6 500.7 L754.0 502.5 L754.4 503.5 L754.8 500.4 L755.2 501.3 L755.6 503.7 L756.0 506.7 L756.4 507.8 L756.8 508.0 L757.2 507.8 L757.5 507.9 L757.6 507.2 L758.0 506.4 L758.4 505.5 L758.8 510.0 L759.2 505.1 L759.6 505.2 L760.0 504.1 L760.4 503.4 L760.8 500.9 L761.2 501.3 L761.6 501.7 L762.0 497.7 L762.4 497.4 L762.8 495.8 L763.2 496.3 L763.6 494.8 L764.0 496.6 L764.4 497.0 L764.5 497.9 L764.8 498.1 L765.2 496.5 L765.6 497.9 L766.0 498.2 L766.4 500.6 L766.8 502.1 L767.2 503.6 L767.6 504.2 L768.0 503.5 L768.4 506.3 L768.8 504.9 L769.2 502.5 L769.6 500.7 L770.0 502.0 L770.4 497.0 L770.8 497.9 L771.2 496.4 L771.6 492.7 L772.0 490.7 L772.4 488.4 L772.8 485.1 L773.2 484.9 L773.6 481.3 L774.0 483.7 L774.3 483.7 L774.4 483.5 L774.8 485.4 L775.2 485.3 L775.6 485.1 L776.0 491.4 L776.4 492.2 L776.8 493.9 L777.2 496.6 L777.6 498.9 L778.0 501.4 L778.4 500.9 L778.8 503.4 L779.0 502.9 L779.2 503.9 L779.6 503.1 L780.0 505.0 L780.4 504.1 L780.8 506.4 L781.2 506.6 L781.6 509.4 L782.0 509.1 L782.4 510.5 L782.8 509.3 L783.2 509.1 L783.6 509.4 L784.0 507.4 L784.4 507.5 L784.8 508.3 L785.2 504.0 L785.6 503.4 L786.0 503.0 L786.4 503.4 L786.8 502.8 L787.2 498.7 L787.6 498.6 L788.0 499.0 L788.2 498.0 L788.4 496.4 L788.8 499.5 L789.2 499.4 L789.6 499.6 L790.0 500.1 L790.4 500.3 L790.8 499.5 L791.2 501.3 L791.6 500.6 L792.0 501.1 L792.4 499.8 L792.8 498.7 L793.2 495.5 L793.6 490.9 L794.0 485.7 L794.4 479.9 L794.8 473.6 L795.2 466.0 L795.6 458.3 L796.0 451.3 L796.4 442.8 L796.8 436.3 L797.2 428.3 L797.5 423.5 L797.6 425.9 L798.0 431.2 L798.4 439.5 L798.8 447.9 L799.2 456.0 L799.6 463.3 L800.0 470.7 L800.4 477.9 L800.8 484.0 L801.2 490.1 L801.6 493.9 L802.0 497.1 L802.4 498.6 L802.6 499.3 L802.8 498.1 L803.2 496.0 L803.6 492.9 L804.0 484.1 L804.4 480.4 L804.8 473.3 L805.2 470.1 L805.6 465.3 L806.0 462.2 L806.4 464.9 L806.8 464.4 L807.2 466.2 L807.6 470.9 L808.0 471.5 L808.4 476.8 L808.8 481.0 L809.2 481.9 L809.6 487.6 L810.0 488.9 L810.4 491.2 L810.8 491.5 L811.2 495.3 L811.3 495.1 L811.6 493.0 L812.0 492.8 L812.4 488.4 L812.8 489.5 L813.2 488.8 L813.5 487.0 L813.6 487.4 L814.0 486.0 L814.4 481.7 L814.8 475.4 L815.2 469.5 L815.6 461.2 L816.0 452.4 L816.4 443.8 L816.8 436.1 L817.2 428.1 L817.4 423.3 L817.6 427.9 L818.0 434.9 L818.4 444.0 L818.8 455.1 L819.2 463.5 L819.6 470.6 L820.0 476.5 L820.2 475.4 L820.4 475.4 L820.8 474.9 L821.2 474.1 L821.6 477.2 L822.0 485.6 L822.4 494.3 L822.8 502.3 L823.2 507.4 L823.4 509.0 L823.6 509.0 L824.0 507.6 L824.4 504.0 L824.8 503.3 L825.2 502.1 L825.6 499.4 L826.0 499.9 L826.4 499.2 L826.8 498.9 L827.2 492.1 L827.6 492.0 L828.0 489.4 L828.4 485.1 L828.8 480.2 L829.2 477.7 L829.6 475.3 L830.0 474.5 L830.3 474.6 L830.4 473.6 L830.8 476.3 L831.2 476.6 L831.6 475.5 L832.0 479.8 L832.4 482.7 L832.8 484.9 L833.2 488.9 L833.6 491.4 L834.0 493.4 L834.4 495.2 L834.8 497.5 L835.2 497.6 L835.6 499.0 L836.0 495.4 L836.4 495.7 L836.8 492.1 L837.2 488.9 L837.6 486.7 L838.0 483.2 L838.4 478.7 L838.6 480.5 L838.8 482.2 L839.2 483.4 L839.6 485.2 L840.0 487.6 L840.4 492.5 L840.8 495.0 L841.2 497.2 L841.6 500.5 L842.0 505.5 L842.4 507.1 L842.8 509.2 L843.2 509.4 L843.5 509.6 L843.6 508.4 L844.0 507.8 L844.4 507.8 L844.8 508.4 L845.2 511.8 L845.6 510.8 L846.0 510.5 L846.4 510.6 L846.8 509.3 L847.2 512.4 L847.6 509.6 L848.0 513.2 L848.4 511.4 L848.5 510.4 L848.8 513.8 L849.2 510.8 L849.6 511.4 L850.0 510.5 L850.4 507.9 L850.8 509.1 L851.2 505.9 L851.6 506.7 L852.0 504.7 L852.4 507.0 L852.8 504.5 L853.0 505.8 L853.2 503.4 L853.6 503.3 L854.0 502.3 L854.4 500.2 L854.8 497.2 L855.2 497.0 L855.6 494.7 L856.0 493.2 L856.4 493.8 L856.8 489.7 L857.2 492.3 L857.6 494.7 L858.0 494.9 L858.4 496.6 L858.8 496.7 L859.2 499.1 L859.6 502.1 L860.0 500.7 L860.4 500.8 L860.7 501.8 L860.8 503.6 L861.2 500.6 L861.6 497.6 L862.0 497.4 L862.4 494.0 L862.8 491.4 L863.2 485.9 L863.6 483.6 L864.0 481.6 L864.4 479.9 L864.8 479.6 L865.2 478.3 L865.3 477.5 L865.6 477.1 L866.0 477.9 L866.4 478.6 L866.8 480.0 L867.2 480.9 L867.6 483.1 L868.0 488.1 L868.4 487.2 L868.8 489.8 L869.2 491.4 L869.6 492.3 L870.0 490.9 L870.4 488.3 L870.8 483.7 L871.2 478.0 L871.6 471.4 L872.0 466.5 L872.4 456.4 L872.8 451.8 L873.2 443.4 L873.6 438.9 L873.8 436.7 L874.0 439.3 L874.4 443.2 L874.8 447.8 L875.2 453.5 L875.6 459.4 L876.0 464.5 L876.4 471.3 L876.8 477.0 L877.2 481.3 L877.6 486.2 L878.0 491.9 L878.4 494.3 L878.8 497.1 L879.2 498.8 L879.6 499.5 L879.7 500.1 L880.0 499.7 L880.4 499.6 L880.8 496.0 L881.2 493.5 L881.6 489.3 L882.0 486.0 L882.4 480.3 L882.8 476.2 L883.2 472.1 L883.6 470.0 L884.0 466.0 L884.4 463.0 L884.8 459.7 L885.0 457.9 L885.2 460.4 L885.6 462.7 L886.0 463.4 L886.4 470.0 L886.8 473.4 L887.2 472.9 L887.6 478.2 L888.0 482.2 L888.4 486.3 L888.8 489.6 L889.2 492.7 L889.6 494.5 L890.0 499.5 L890.4 496.4 L890.5 495.5 L890.8 498.7 L891.2 499.3 L891.6 498.0 L892.0 500.6 L892.4 502.8 L892.8 503.2 L893.2 505.3 L893.6 508.6 L893.9 506.7 L894.0 508.0 L894.4 508.2 L894.8 508.0 L895.2 509.3 L895.6 508.9 L896.0 510.6 L896.4 510.4 L896.8 509.5 L897.2 512.3 L897.6 510.8 L898.0 511.7 L898.4 512.0 L898.8 511.5 L899.2 511.3 L899.6 513.8 L900.0 510.9 L900.4 511.8 L900.8 513.7 L901.2 514.2 L901.6 512.9 L902.0 515.2 L902.4 512.2 L902.8 515.2 L903.2 513.9 L903.6 512.7 L904.0 511.9 L904.4 513.2 L904.8 509.4 L905.2 511.9 L905.6 511.9 L906.0 513.4 L906.4 513.0 L906.8 511.7 L907.2 511.7 L907.6 510.4 L908.0 512.3 L908.4 511.2 L908.8 510.5 L909.2 514.0 L909.6 514.1 L910.0 511.7 L910.4 512.3 L910.8 514.6 L911.2 509.9 L911.6 513.0 L912.0 510.7 L912.4 512.3 L912.8 511.5 L913.2 513.4 L913.6 513.1 L914.0 511.5 L914.4 513.3 L914.7 513.1 L914.8 513.7 L915.2 509.8 L915.6 510.0 L916.0 506.4 L916.4 504.3 L916.8 500.1 L917.2 502.8 L917.5 500.0 L917.6 500.5 L918.0 497.3 L918.4 496.6 L918.8 493.6 L919.2 489.4 L919.6 483.0 L920.0 479.6 L920.4 474.1 L920.8 471.3 L921.2 464.9 L921.6 464.6 L922.0 459.6 L922.4 460.5 L922.8 464.8 L923.2 468.6 L923.6 473.0 L924.0 476.1 L924.4 479.9 L924.8 481.3 L925.1 484.1 L925.2 481.1 L925.6 480.9 L926.0 479.4 L926.4 478.7 L926.8 473.3 L927.2 472.9 L927.6 467.3 L928.0 465.3 L928.4 467.2 L928.5 467.3 L928.8 466.8 L929.2 469.6 L929.6 468.9 L930.0 470.5 L930.4 473.3 L930.8 477.1 L931.2 477.3 L931.6 480.9 L932.0 480.5 L932.4 480.0 L932.8 479.6 L933.2 479.9 L933.6 478.7 L934.0 474.9 L934.4 477.9 L934.8 478.4 L935.2 478.5 L935.6 480.4 L936.0 486.1 L936.4 488.3 L936.8 492.9 L937.2 495.0 L937.6 498.9 L938.0 498.6 L938.4 500.4 L938.5 500.2 L938.8 499.9 L939.2 500.9 L939.6 502.9 L940.0 501.7 L940.4 504.4 L940.8 508.4 L941.2 509.3 L941.3 509.9 L941.6 510.1 L942.0 508.5 L942.4 510.9 L942.8 510.5 L943.2 509.8 L943.6 509.0 L944.0 508.5 L944.4 509.0 L944.8 509.8 L945.2 509.5 L945.6 510.5 L946.0 509.8 L946.4 508.9 L946.8 510.8 L947.2 507.8 L947.6 507.6 L948.0 509.4 L948.4 508.5 L948.8 507.2 L949.2 506.7 L949.6 508.5 L950.0 510.3 L950.4 510.5 L950.8 508.5 L951.2 508.4 L951.6 507.4 L952.0 509.6 L952.4 506.4 L952.8 505.1 L953.2 504.8 L953.6 503.3 L954.0 499.9 L954.4 499.2 L954.8 494.3 L955.2 494.9 L955.6 494.4 L956.0 493.2 L956.4 493.0 L956.6 492.7 L956.8 493.1 L957.2 490.7 L957.6 493.5 L958.0 497.1 L958.4 496.5 L958.8 498.4 L959.2 504.2 L959.6 504.2 L960.0 506.5 L960.4 508.5 L960.8 511.9 L961.2 510.7 L961.6 510.9 L962.0 513.0 L962.1 514.5 L962.4 510.5 L962.8 512.1 L963.2 511.3 L963.6 512.0 L964.0 512.0 L964.4 511.3 L964.8 508.6 L965.2 509.4 L965.6 509.1 L966.0 508.7 L966.4 509.4 L966.8 507.5 L967.2 506.6 L967.6 506.9 L968.0 507.0 L968.4 507.6 L968.8 504.6 L969.0 504.9 L969.2 506.1 L969.6 507.3 L970.0 506.0 L970.4 506.3 L970.8 508.3 L971.2 506.5 L971.6 506.8 L972.0 506.6 L972.4 507.7 L972.8 507.4 L973.2 506.7 L973.6 507.8 L974.0 507.6 L974.4 506.5 L974.8 508.0 L975.2 509.8 L975.6 505.9 L976.0 506.3 L976.4 507.5 L976.8 507.5 L977.2 507.5 L977.6 507.0 L978.0 506.8 L978.4 507.6 L978.8 506.9 L979.2 502.0 L979.6 504.3 L980.0 502.7 L980.4 502.5 L980.8 501.6 L981.2 501.2 L981.6 500.0 L982.0 498.9 L982.4 499.3 L982.8 500.2 L983.2 499.4 L983.5 499.6 L983.6 501.4 L984.0 500.8 L984.4 499.4 L984.8 500.3 L985.2 502.0 L985.6 503.6 L986.0 505.3 L986.4 503.1 L986.8 507.5 L987.2 507.0 L987.6 508.3 L988.0 509.3 L988.4 509.0 L988.8 509.0 L989.0 510.3 L989.2 510.7 L989.6 508.0 L990.0 508.2 L990.4 509.1 L990.8 511.2 L991.2 511.1 L991.6 511.2 L992.0 510.8 L992.4 510.1 L992.7 511.5 L992.8 511.0 L993.2 511.5 L993.6 511.6 L994.0 512.9 L994.4 513.8 L994.8 511.1 L995.2 514.1 L995.6 513.7 L996.0 514.7 L996.4 515.7 L996.8 514.0 L997.2 515.0 L997.6 516.4 L997.8 516.0 L998.0 517.8 L998.4 516.2 L998.8 515.1 L999.2 514.3 L999.6 514.5 L1000.0 510.4 L1000.4 513.6 L1000.8 511.9 L1001.2 510.3 L1001.6 510.5 L1002.0 510.3 L1002.4 507.7 L1002.8 509.8 L1003.2 505.9 L1003.6 510.1 L1004.0 507.7 L1004.4 508.1 L1004.8 506.8 L1005.2 505.7 L1005.6 506.4 L1006.0 503.0 L1006.4 502.5 L1006.8 502.0 L1007.2 498.6 L1007.6 499.3 L1008.0 496.2 L1008.4 497.1 L1008.8 494.6 L1009.2 495.8 L1009.6 493.5 L1010.0 492.5 L1010.2 494.6 L1010.4 494.6 L1010.8 494.6 L1011.2 492.4 L1011.6 493.9 L1012.0 497.2 L1012.4 497.7 L1012.8 498.1 L1013.2 499.9 L1013.6 501.6 L1014.0 500.1 L1014.4 502.3 L1014.8 503.0 L1015.2 506.3 L1015.6 505.0 L1016.0 503.6 L1016.4 505.9 L1016.8 505.3 L1017.2 505.4 L1017.6 505.1 L1018.0 506.6 L1018.4 508.5 L1018.8 508.4 L1019.2 510.8 L1019.6 512.0 L1020.0 510.7 L1020.4 509.6 L1020.8 510.6 L1021.2 512.0 L1021.5 512.8 L1021.6 511.8 L1022.0 511.8 L1022.4 511.6 L1022.8 512.6 L1023.2 511.1 L1023.6 509.4 L1024.0 508.4 L1024.4 508.6 L1024.8 507.3 L1025.2 506.3 L1025.6 507.8 L1026.0 506.5 L1026.4 504.2 L1026.8 506.1 L1027.0 504.6 L1027.2 504.7 L1027.6 503.7 L1028.0 504.4 L1028.4 505.4 L1028.8 506.4 L1029.2 505.9 L1029.6 506.4 L1030.0 505.9 L1030.4 504.8 L1030.8 506.5 L1031.2 503.8 L1031.6 503.5 L1032.0 506.9 L1032.4 504.2 L1032.8 504.1 L1033.2 506.7 L1033.6 502.4 L1034.0 505.6 L1034.4 503.7 L1034.8 503.2 L1035.2 502.2 L1035.6 503.2 L1036.0 504.7 L1036.4 503.9 L1036.8 503.6 L1037.0 504.7 L1037.2 505.5 L1037.6 503.6 L1038.0 501.9 L1038.4 499.5 L1038.8 497.5 L1039.2 493.1 L1039.6 491.9 L1040.0 486.2 L1040.4 484.9 L1040.8 481.0 L1041.2 479.9 L1041.6 476.1 L1041.9 477.0 L1042.0 476.3 L1042.4 477.2 L1042.8 479.3 L1043.2 480.0 L1043.6 486.2 L1044.0 488.2 L1044.4 490.2 L1044.8 492.2 L1045.2 494.5 L1045.6 495.8 L1046.0 501.3 L1046.4 501.2 L1046.8 503.8 L1047.2 504.0 L1047.5 505.3 L1047.6 507.4 L1048.0 504.9 L1048.4 504.6 L1048.8 505.6 L1049.2 503.9 L1049.6 501.9 L1050.0 503.1 L1050.4 503.3 L1050.8 502.2 L1051.2 504.1 L1051.6 504.0 L1052.0 501.3 L1052.4 502.6 L1052.8 502.4 L1053.2 501.4 L1053.6 501.1 L1054.0 503.0 L1054.4 501.9 L1054.8 504.6 L1055.2 502.9 L1055.6 503.2 L1056.0 504.1 L1056.4 504.9 L1056.8 504.8 L1057.2 506.5 L1057.6 507.1 L1058.0 507.3 L1058.4 508.1 L1058.8 506.3 L1059.2 507.9 L1059.6 508.2 L1060.0 508.2 L1060.4 509.7 L1060.6 508.8 L1060.8 508.2 L1061.2 506.9 L1061.6 506.7 L1062.0 506.3 L1062.4 507.7 L1062.8 503.4 L1063.2 504.2 L1063.6 501.3 L1064.0 502.5 L1064.4 500.5 L1064.8 497.1 L1065.2 497.6 L1065.6 494.4 L1066.0 496.6 L1066.4 495.5 L1066.8 494.7 L1067.2 496.9 L1067.6 498.5 L1068.0 502.0 L1068.4 501.7 L1068.8 502.3 L1069.2 503.2 L1069.6 501.8 L1070.0 503.9 L1070.4 503.6 L1070.8 505.0 L1071.0 507.7 L1071.2 508.1 L1071.6 506.9 L1072.0 506.8 L1072.4 508.6 L1072.8 511.4 L1073.2 509.5 L1073.6 512.1 L1074.0 512.6 L1074.4 510.9 L1074.8 512.8 L1075.2 512.1 L1075.6 513.7 L1075.8 513.0 L1076.0 512.2 L1076.4 513.7 L1076.8 512.0 L1077.2 511.1 L1077.6 511.3 L1078.0 509.4 L1078.4 509.4 L1078.8 509.2 L1079.2 504.9 L1079.6 506.4 L1080.0 503.6 L1080.4 506.3 L1080.8 506.7 L1081.2 502.2 L1081.6 503.5 L1082.0 501.6 L1082.4 499.5 L1082.8 494.8 L1083.2 495.1 L1083.6 494.6 L1084.0 494.5 L1084.4 494.3 L1084.7 494.9 L1084.8 494.0 L1085.2 493.5 L1085.6 493.1 L1086.0 494.1 L1086.4 495.5 L1086.8 499.3 L1087.2 497.0 L1087.6 498.6 L1088.0 501.5 L1088.4 502.7 L1088.8 503.9 L1089.2 504.4 L1089.6 507.3 L1090.0 505.2 L1090.4 508.2 L1090.7 508.5 L1090.8 507.1 L1091.2 505.3 L1091.6 503.5 L1092.0 502.1 L1092.4 497.1 L1092.8 499.9 L1093.0 497.1 L1093.2 496.6 L1093.6 491.5 L1094.0 479.9 L1094.4 466.3 L1094.8 455.6 L1095.2 445.5 L1095.6 444.9 L1096.0 440.1 L1096.4 440.1 L1096.8 435.4 L1097.2 431.4 L1097.6 436.1 L1098.0 440.4 L1098.4 445.8 L1098.8 449.2 L1099.2 445.1 L1099.6 443.9 L1100.0 441.0 L1100.2 442.3 L1100.4 439.7 L1100.8 440.5 L1101.2 443.1 L1101.6 446.1 L1102.0 450.6 L1102.4 455.6 L1102.8 457.1 L1103.2 459.7 L1103.6 459.9 L1104.0 461.4 L1104.4 462.4 L1104.5 465.0 L1104.8 465.8 L1105.2 465.0 L1105.5 464.3 L1105.6 466.8 L1106.0 467.0 L1106.4 468.6 L1106.8 470.5 L1107.2 473.3 L1107.6 480.8 L1108.0 482.1 L1108.4 486.8 L1108.8 490.9 L1109.2 494.7 L1109.6 498.9 L1110.0 497.5 L1110.4 499.6 L1110.5 497.6 L1110.8 497.1 L1111.2 499.9 L1111.6 498.5 L1112.0 499.3 L1112.4 500.7 L1112.8 502.5 L1113.2 501.9 L1113.6 500.3 L1114.0 502.4 L1114.4 501.8 L1114.8 502.0 L1115.2 502.0 L1115.6 503.1 L1116.0 504.4 L1116.4 504.3 L1116.8 504.0 L1117.2 503.0 L1117.6 502.3 L1118.0 506.4 L1118.3 505.9 L1118.4 502.5 L1118.8 505.0 L1119.2 505.2 L1119.6 504.6 L1120.0 503.9 L1120.4 502.6 L1120.8 504.1 L1121.2 502.3 L1121.6 502.3 L1122.0 500.6 L1122.4 499.6 L1122.8 497.3 L1123.2 498.2 L1123.6 494.1 L1124.0 497.4 L1124.4 495.0 L1124.8 495.1 L1125.2 494.1 L1125.6 492.3 L1126.0 493.7 L1126.2 495.5 L1126.4 494.9 L1126.8 496.1 L1127.2 494.9 L1127.6 494.9 L1128.0 497.8 L1128.4 498.3 L1128.8 499.0 L1129.2 502.8 L1129.6 500.1 L1130.0 503.2 L1130.4 504.0 L1130.8 506.6 L1131.2 505.2 L1131.6 506.0 L1132.0 505.7 L1132.4 506.1 L1132.8 505.6 L1133.2 505.9 L1133.6 507.8 L1134.0 510.1 L1134.4 507.1 L1134.8 509.7 L1135.2 508.9 L1135.6 513.6 L1136.0 513.9 L1136.4 512.7 L1136.8 514.7 L1137.2 513.6 L1137.6 511.8 L1138.0 515.7 L1138.4 511.9 L1138.8 512.5 L1139.2 515.2 L1139.6 514.9 L1140.0 514.5 L1140.4 513.5 L1140.8 512.9 L1141.2 512.7 L1141.6 515.1 L1142.0 514.1 L1142.4 516.0 L1142.8 513.7 L1143.2 513.8 L1143.6 512.6 L1144.0 512.7 L1144.4 514.1 L1144.8 512.8 L1145.2 515.6 L1145.6 515.9 L1146.0 513.5 L1146.4 516.0 L1146.8 515.4 L1147.2 515.1 L1147.6 514.2 L1148.0 515.7 L1148.4 514.3 L1148.8 514.4 L1149.2 514.2 L1149.6 512.4 L1150.0 511.7 L1150.4 515.0 L1150.8 515.0 L1151.2 512.4 L1151.6 513.2 L1152.0 512.7 L1152.4 511.9 L1152.8 509.8 L1153.2 507.6 L1153.6 507.5 L1154.0 505.4 L1154.4 505.7 L1154.8 504.2 L1155.0 503.1 L1155.2 503.7 L1155.6 502.9 L1156.0 504.5 L1156.4 503.8 L1156.8 502.5 L1157.2 499.7 L1157.6 499.0 L1158.0 496.2 L1158.4 497.3 L1158.8 496.0 L1159.2 496.2 L1159.6 492.0 L1160.0 492.6 L1160.4 492.2 L1160.8 495.2 L1161.2 492.8 L1161.6 493.3 L1162.0 491.4 L1162.4 493.9 L1162.8 498.0 L1163.2 498.3 L1163.6 498.4 L1164.0 498.3 L1164.4 499.1 L1164.8 502.0 L1165.2 502.2 L1165.6 506.6 L1166.0 504.2 L1166.4 504.8 L1166.8 506.7 L1167.0 506.6 L1167.2 505.6 L1167.6 505.3 L1168.0 506.3 L1168.4 509.4 L1168.8 507.2 L1169.2 508.3 L1169.6 510.1 L1170.0 511.5 L1170.4 511.0 L1170.8 511.2 L1171.2 510.5 L1171.6 510.5 L1172.0 512.5 L1172.4 512.9 L1172.8 513.4 L1173.2 511.1 L1173.6 511.9 L1173.7 515.1 L1174.0 516.0 L1174.4 514.4 L1174.8 512.7 L1175.2 514.7 L1175.6 512.8 L1176.0 513.3 L1176.4 513.0 L1176.8 513.7 L1177.2 513.1 L1177.6 512.0 L1178.0 509.5 L1178.4 511.1 L1178.8 508.8 L1179.2 507.3 L1179.6 509.9 L1180.0 511.0 L1180.4 507.5 L1180.8 508.4 L1181.2 507.7 L1181.6 507.6 L1182.0 509.1 L1182.4 507.8 L1182.8 506.3 L1183.2 505.7 L1183.6 503.7 L1184.0 503.6 L1184.4 502.8 L1184.8 504.2 L1185.2 503.8 L1185.5 502.7 L1185.6 504.3 L1186.0 501.9 L1186.4 504.6 L1186.8 500.0 L1187.2 499.4 L1187.6 499.3 L1188.0 499.8 L1188.4 496.2 L1188.8 488.2 L1189.2 486.7 L1189.6 486.8 L1190.0 484.1 L1190.4 482.3 L1190.8 484.7 L1191.2 481.9 L1191.6 483.7 L1192.0 484.0 L1192.4 483.2 L1192.8 481.8 L1193.0 482.2 L1193.2 480.9 L1193.6 479.9 L1194.0 480.5 L1194.4 479.2 L1194.8 479.2 L1195.2 476.7 L1195.6 475.9 L1196.0 476.4 L1196.4 476.4 L1196.8 476.1 L1197.2 477.3 L1197.4 474.2 L1197.6 477.1 L1198.0 475.0 L1198.4 474.3 L1198.6 475.8 L1198.8 474.9 L1199.2 473.5 L1199.6 470.8 L1200.0 464.7 L1200.4 458.6 L1200.8 456.4 L1201.2 454.9 L1201.4 455.2 L1201.6 453.3 L1202.0 445.3 L1202.4 431.6 L1202.8 415.3 L1203.2 405.4 L1203.3 402.0 L1203.6 403.0 L1204.0 408.5 L1204.4 416.8 L1204.8 426.9 L1205.2 427.6 L1205.6 434.7 L1206.0 440.5 L1206.3 439.3 L1206.4 440.0 L1206.8 437.8 L1207.2 436.7 L1207.3 437.2 L1207.6 440.2 L1208.0 447.6 L1208.4 456.4 L1208.8 466.9 L1209.2 476.8 L1209.6 482.9 L1210.0 486.0 L1210.2 487.4 L1210.4 487.9 L1210.8 487.1 L1211.2 487.5 L1211.6 489.1 L1212.0 489.2 L1212.4 491.2 L1212.8 493.0 L1213.2 491.5 L1213.6 492.0 L1214.0 493.1 L1214.2 492.4 L1214.4 492.9 L1214.8 493.8 L1215.2 494.2 L1215.6 495.7 L1216.0 496.1 L1216.4 497.9 L1216.8 498.9 L1217.2 500.8 L1217.6 502.3 L1218.0 504.3 L1218.4 505.3 L1218.8 507.3 L1219.2 508.7 L1219.6 509.6 L1220.0 510.0 L1220.1 509.0 L1220.4 507.5 L1220.8 506.5 L1221.2 505.9 L1221.6 507.4 L1222.0 508.3 L1222.4 509.3 L1222.8 508.4 L1223.2 508.6 L1223.6 507.7 L1224.0 510.2 L1224.4 511.9 L1224.8 509.3 L1225.2 512.4 L1225.6 510.8 L1226.0 508.9 L1226.4 511.1 L1226.8 510.4 L1227.2 510.4 L1227.6 508.5 L1228.0 510.5 L1228.4 511.5 L1228.8 509.3 L1229.2 511.8 L1229.6 513.6 L1230.0 512.7 L1230.4 512.3 L1230.8 513.2 L1231.2 514.9 L1231.6 514.9 L1232.0 514.2 L1232.4 513.7 L1232.8 513.3 L1233.0 513.3 L1233.2 512.0 L1233.6 513.7 L1234.0 515.4 L1234.4 512.2 L1234.8 512.0 L1235.2 511.7 L1235.6 512.0 L1236.0 510.3 L1236.4 511.0 L1236.8 508.9 L1237.2 508.1 L1237.6 508.4 L1238.0 509.7 L1238.4 508.1 L1238.8 507.5 L1239.2 507.9 L1239.6 504.8 L1240.0 506.0 L1240.4 503.0 L1240.8 503.8 L1241.2 506.0 L1241.6 500.7 L1242.0 503.5 L1242.4 501.0 L1242.8 500.5 L1243.2 500.6 L1243.6 503.1 L1244.0 500.2 L1244.4 501.5 L1244.8 501.2 L1245.2 502.2 L1245.6 503.8 L1246.0 504.0 L1246.4 504.6 L1246.8 504.3 L1247.2 505.9 L1247.6 505.4 L1248.0 505.7 L1248.4 505.9 L1248.8 505.1 L1249.2 504.7 L1249.6 506.9 L1250.0 504.2 L1250.4 507.8 L1250.8 506.0 L1251.2 506.3 L1251.6 508.6 L1252.0 506.7 L1252.4 508.2 L1252.8 507.3 L1253.2 509.2 L1253.6 509.5 L1254.0 508.6 L1254.4 509.1 L1254.8 507.9 L1255.2 511.4 L1255.6 509.7 L1256.0 510.3 L1256.4 509.6 L1256.7 510.1 L1256.8 509.6 L1257.2 509.5 L1257.6 508.9 L1258.0 508.6 L1258.4 509.2 L1258.8 505.0 L1259.2 506.5 L1259.6 504.6 L1260.0 504.5 L1260.4 502.6 L1260.8 504.1 L1260.9 504.3 L1261.2 501.5 L1261.6 503.0 L1262.0 508.6 L1262.4 507.4 L1262.8 508.8 L1263.0 507.5 L1263.2 509.3 L1263.6 509.7 L1264.0 509.4 L1264.4 511.7 L1264.8 510.8 L1265.2 512.8 L1265.6 513.1 L1266.0 514.2 L1266.4 513.8 L1266.8 514.0 L1267.2 517.1 L1267.4 516.9 L1267.6 517.4 L1268.0 514.9 L1268.4 514.5 L1268.8 514.1 L1269.2 512.1 L1269.6 512.4 L1270.0 512.2 L1270.4 507.9 L1270.8 506.8 L1271.2 504.5 L1271.6 506.9 L1272.0 506.1 L1272.4 506.3 L1272.8 504.3 L1273.2 503.9 L1273.6 501.9 L1274.0 499.5 L1274.4 498.7 L1274.8 498.0 L1275.2 496.6 L1275.6 493.2 L1276.0 496.0 L1276.3 491.2 L1276.4 491.9 L1276.8 490.6 L1277.2 492.8 L1277.6 494.8 L1278.0 495.0 L1278.4 497.4 L1278.8 497.7 L1279.2 499.8 L1279.6 500.1 L1280.0 501.3 L1280.4 499.6 L1280.8 501.9 L1281.2 503.3 L1281.6 504.4 L1282.0 506.9 L1282.4 504.6 L1282.8 505.6 L1283.2 507.5 L1283.6 505.6 L1284.0 506.8 L1284.2 504.5 L1284.4 502.5 L1284.8 508.5 L1285.2 506.4 L1285.6 507.5 L1286.0 504.4 L1286.4 502.0 L1286.8 502.9 L1287.2 500.1 L1287.6 501.3 L1288.0 500.8 L1288.4 500.9 L1288.6 499.2 L1288.8 500.7 L1289.2 500.8 L1289.6 502.2 L1290.0 500.8 L1290.4 504.0 L1290.8 502.9 L1291.2 503.5 L1291.6 502.6 L1292.0 503.7 L1292.4 504.5 L1292.8 503.1 L1293.2 505.5 L1293.6 505.0 L1294.0 504.3 L1294.4 503.7 L1294.8 503.9 L1295.2 504.5 L1295.6 505.6 L1296.0 502.9 L1296.4 501.7 L1296.8 502.1 L1297.2 502.0 L1297.6 501.1 L1298.0 499.6 L1298.4 496.2 L1298.8 499.1 L1299.2 498.5 L1299.6 497.2 L1300.0 498.5 L1300.4 497.0 L1300.8 498.3 L1301.2 500.7 L1301.6 499.2 L1302.0 498.4 L1302.4 503.5 L1302.8 503.0 L1303.2 503.7 L1303.6 501.9 L1304.0 502.3 L1304.4 504.1 L1304.8 503.9 L1305.2 504.5 L1305.6 504.1 L1306.0 505.2 L1306.4 504.7 L1306.8 505.5 L1307.0 504.6 L1307.2 505.7 L1307.6 504.7 L1308.0 499.8 L1308.4 499.3 L1308.8 496.1 L1309.2 493.8 L1309.6 494.3 L1310.0 491.4 L1310.4 491.6 L1310.8 490.6 L1311.2 485.8 L1311.6 488.0 L1312.0 485.0 L1312.4 482.8 L1312.8 483.5 L1312.9 485.2 L1313.2 481.1 L1313.6 483.6 L1314.0 484.3 L1314.4 481.5 L1314.8 483.5 L1315.2 481.7 L1315.5 483.5 L1315.6 482.6 L1316.0 482.9 L1316.4 479.0 L1316.8 476.9 L1317.2 472.0 L1317.6 467.4 L1318.0 459.7 L1318.4 454.6 L1318.8 450.8 L1319.2 447.8 L1319.4 448.2 L1319.6 447.5 L1320.0 451.1 L1320.4 456.7 L1320.8 461.9 L1321.2 467.0 L1321.6 469.6 L1322.0 476.6 L1322.4 478.3 L1322.8 475.9 L1323.2 473.1 L1323.4 474.1 L1323.6 473.5 L1324.0 473.2 L1324.4 478.7 L1324.8 481.7 L1325.2 484.5 L1325.6 488.5 L1326.0 491.4 L1326.4 493.5 L1326.8 499.6 L1327.2 499.0 L1327.6 500.2 L1327.7 501.6 L1328.0 500.0 L1328.4 500.3 L1328.8 499.6 L1329.2 497.4 L1329.6 494.0 L1330.0 492.8 L1330.4 490.5 L1330.8 486.0 L1331.2 484.6 L1331.6 479.5 L1332.0 475.6 L1332.4 472.1 L1332.8 468.8 L1333.2 464.7 L1333.6 461.1 L1334.0 458.2 L1334.4 454.0 L1334.8 453.1 L1335.2 448.5 L1335.6 447.4 L1336.0 446.8 L1336.4 448.6 L1336.8 449.3 L1337.2 451.0 L1337.3 449.1 L1337.6 448.5 L1338.0 448.7 L1338.4 441.3 L1338.8 438.3 L1339.2 434.5 L1339.6 435.4 L1340.0 438.5 L1340.4 444.0 L1340.8 448.1 L1341.2 454.2 L1341.6 459.9 L1342.0 465.4 L1342.4 471.3 L1342.8 475.7 L1343.2 482.0 L1343.6 486.0 L1344.0 491.1 L1344.4 492.6 L1344.8 494.4 L1345.2 497.7 L1345.5 497.9 L1345.6 496.2 L1346.0 495.0 L1346.4 498.0 L1346.8 501.3 L1347.2 503.0 L1347.5 504.0 L1347.6 504.4 L1348.0 504.0 L1348.4 503.6 L1348.8 506.4 L1349.2 507.8 L1349.6 507.3 L1350.0 507.3 L1350.4 509.3 L1350.8 508.9 L1351.2 509.0 L1351.4 509.1 L1351.6 510.0 L1352.0 510.3 L1352.4 509.5 L1352.8 509.1 L1353.2 508.3 L1353.6 507.1 L1354.0 509.5 L1354.4 510.6 L1354.8 509.5 L1355.2 511.6 L1355.6 510.3 L1356.0 511.8 L1356.4 508.3 L1356.8 512.1 L1357.2 512.7 L1357.6 511.7 L1358.0 512.7 L1358.4 510.8 L1358.8 512.1 L1359.2 511.8 L1359.6 512.6 L1360.0 512.7 L1360.4 513.0 L1360.8 511.6 L1361.2 512.2 L1361.3 510.6 L1361.6 512.2 L1362.0 509.9 L1362.4 513.4 L1362.8 515.1 L1363.2 512.2 L1363.6 512.0 L1364.0 512.9 L1364.4 513.1 L1364.8 512.9 L1365.2 511.3 L1365.6 511.1 L1366.0 511.7 L1366.4 511.7 L1366.8 509.7 L1367.2 511.3 L1367.6 512.5 L1368.0 508.3 L1368.4 510.2 L1368.8 510.2 L1369.2 509.2 L1369.6 508.9 L1370.0 512.0 L1370.4 510.2 L1370.8 510.8 L1371.2 511.2 L1371.6 508.4 L1372.0 511.2 L1372.4 509.1 L1372.8 510.8 L1373.2 509.1 L1373.6 510.8 L1374.0 509.9 L1374.4 509.2 L1374.8 510.5 L1375.0 508.6 L1375.2 510.2 L1375.6 507.5 L1376.0 509.1 L1376.4 511.4 L1376.8 510.2 L1377.2 507.9 L1377.6 510.5 L1378.0 508.5 L1378.4 509.3 L1378.8 508.0 L1379.2 509.4 L1379.6 508.0 L1380.0 510.9 L1380.4 509.1 L1380.8 509.1 L1381.2 509.2 L1381.6 508.3 L1382.0 511.1 L1382.4 511.8 L1382.8 511.9 L1383.2 511.1 L1383.6 510.0 L1384.0 511.8 L1384.4 511.9 L1384.8 509.6 L1385.2 508.6 L1385.6 509.2 L1386.0 509.6 L1386.4 511.0 L1386.8 511.0 L1387.2 510.2 L1387.6 510.9 L1388.0 509.1 L1388.4 509.4 L1388.8 506.9 L1389.0 509.1 L1389.2 509.5 L1389.6 511.4 L1390.0 510.0 L1390.4 509.8 L1390.8 510.6 L1391.2 510.1 L1391.6 508.2 L1392.0 510.1 L1392.4 511.1 L1392.8 511.6 L1393.2 511.1 L1393.6 511.3 L1394.0 513.0 L1394.4 510.9 L1394.8 512.9 L1395.2 513.1 L1395.6 513.8 L1396.0 514.3 L1396.4 515.1 L1396.8 511.6 L1397.2 514.9 L1397.6 513.7 L1398.0 513.3"/>
<path stroke="#82CFFD" d="M8.0 709.1 L8.4 706.6 L8.8 707.5 L9.2 707.3 L9.6 707.9 L10.0 706.1 L10.4 706.9 L10.8 706.6 L11.2 706.6 L11.6 707.1 L12.0 707.6 L12.4 707.9 L12.8 707.5 L13.2 708.7 L13.6 708.2 L14.0 706.0 L14.4 709.9 L14.8 708.6 L15.2 708.2 L15.6 709.2 L16.0 709.3 L16.4 709.3 L16.8 708.7 L17.2 709.7 L17.6 708.5 L18.0 711.3 L18.4 709.3 L18.8 710.4 L19.2 710.6 L19.6 710.8 L20.0 710.4 L20.4 711.0 L20.8 707.5 L21.2 710.3 L21.6 710.3 L22.0 710.2 L22.4 712.0 L22.8 710.0 L23.2 710.8 L23.6 709.4 L24.0 711.5 L24.4 710.0 L24.8 710.1 L25.2 713.5 L25.6 712.0 L26.0 711.3 L26.4 711.5 L26.8 710.3 L27.2 710.7 L27.6 711.8 L28.0 709.6 L28.4 711.9 L28.8 710.3 L29.2 711.9 L29.6 711.1 L30.0 713.5 L30.4 712.9 L30.8 711.7 L31.2 710.8 L31.6 711.8 L32.0 712.3 L32.4 711.6 L32.8 712.9 L33.2 713.5 L33.6 712.8 L34.0 712.6 L34.4 713.8 L34.8 713.0 L35.2 714.2 L35.6 713.4 L36.0 715.0 L36.4 713.7 L36.8 713.4 L37.2 714.7 L37.6 714.2 L38.0 714.0 L38.4 714.6 L38.8 715.8 L39.2 713.5 L39.6 715.6 L40.0 715.6 L40.4 715.6 L40.8 716.6 L41.2 715.0 L41.6 716.9 L42.0 716.4 L42.4 716.6 L42.8 716.3 L43.2 716.4 L43.6 716.2 L44.0 717.1 L44.4 718.4 L44.8 717.5 L45.2 717.4 L45.6 717.3 L46.0 716.0 L46.4 717.1 L46.8 718.5 L47.2 715.6 L47.6 717.3 L48.0 717.6 L48.4 717.1 L48.8 717.6 L49.2 718.2 L49.6 719.3 L50.0 718.4 L50.4 718.6 L50.8 717.7 L51.2 718.2 L51.6 718.0 L52.0 718.1 L52.4 717.4 L52.8 718.3 L53.2 719.1 L53.6 717.9 L54.0 718.4 L54.4 718.7 L54.8 718.1 L55.2 718.9 L55.6 718.6 L56.0 717.6 L56.4 717.5 L56.8 719.3 L57.2 719.4 L57.6 720.0 L58.0 719.4 L58.4 719.4 L58.8 718.0 L59.2 720.3 L59.6 718.3 L60.0 720.4 L60.4 718.6 L60.8 718.8 L61.2 719.5 L61.6 719.1 L62.0 719.1 L62.4 720.5 L62.8 720.5 L63.2 720.3 L63.6 720.0 L64.0 719.5 L64.4 720.3 L64.8 720.3 L65.2 720.6 L65.6 721.3 L66.0 720.8 L66.4 720.4 L66.8 720.5 L67.2 722.2 L67.6 721.4 L68.0 721.4 L68.4 721.8 L68.8 722.4 L69.2 722.2 L69.6 723.3 L70.0 723.4 L70.4 720.5 L70.8 722.8 L71.2 725.5 L71.6 722.1 L72.0 723.3 L72.4 724.2 L72.8 723.4 L73.2 724.5 L73.6 722.1 L74.0 722.2 L74.4 723.3 L74.8 722.9 L75.0 722.6 L75.2 724.0 L75.6 723.6 L76.0 723.4 L76.4 722.9 L76.8 723.8 L77.2 723.7 L77.6 723.0 L78.0 724.3 L78.4 724.2 L78.8 723.6 L79.2 724.1 L79.6 722.5 L80.0 723.4 L80.4 723.0 L80.8 724.3 L81.2 723.7 L81.6 724.9 L82.0 724.5 L82.4 723.2 L82.8 722.8 L83.2 724.3 L83.6 723.9 L84.0 724.1 L84.4 723.5 L84.8 725.1 L85.2 724.8 L85.6 725.2 L86.0 725.3 L86.4 724.4 L86.8 723.3 L87.2 725.1 L87.6 724.9 L88.0 724.9 L88.4 726.0 L88.8 725.2 L89.2 726.7 L89.6 725.4 L90.0 725.6 L90.4 725.5 L90.8 725.8 L91.2 723.9 L91.6 726.2 L92.0 725.5 L92.4 724.6 L92.8 726.0 L93.2 725.9 L93.6 727.0 L94.0 726.6 L94.4 726.3 L94.8 724.6 L95.2 727.5 L95.6 727.5 L96.0 727.0 L96.4 727.0 L96.8 727.6 L97.2 725.8 L97.6 727.3 L98.0 726.9 L98.4 726.3 L98.8 727.7 L99.2 727.5 L99.6 728.8 L100.0 728.0 L100.4 726.0 L100.8 725.8 L101.2 727.4 L101.6 727.0 L102.0 726.3 L102.4 725.8 L102.8 727.1 L103.2 726.2 L103.6 726.6 L104.0 727.8 L104.4 727.1 L104.8 726.3 L105.2 726.2 L105.6 727.2 L106.0 729.0 L106.4 726.9 L106.8 728.9 L107.2 726.7 L107.6 727.4 L108.0 728.4 L108.4 727.1 L108.8 727.7 L109.2 726.3 L109.6 727.9 L110.0 728.4 L110.4 726.8 L110.8 727.8 L111.2 727.4 L111.6 726.0 L112.0 730.1 L112.4 728.3 L112.8 728.9 L113.2 728.7 L113.6 728.5 L114.0 730.3 L114.4 726.6 L114.8 728.0 L115.2 727.9 L115.6 728.6 L116.0 729.4 L116.4 728.2 L116.8 727.6 L117.2 728.2 L117.6 729.7 L118.0 730.4 L118.4 730.4 L118.8 731.1 L119.2 729.3 L119.6 730.5 L120.0 730.2 L120.4 729.7 L120.8 729.1 L121.2 730.6 L121.6 729.2 L122.0 729.3 L122.4 728.8 L122.8 731.0 L123.2 729.6 L123.6 729.2 L124.0 729.2 L124.4 729.2 L124.8 729.4 L125.2 727.9 L125.6 728.4 L126.0 729.6 L126.4 729.9 L126.8 728.3 L127.2 729.4 L127.6 728.8 L128.0 727.3 L128.4 729.1 L128.8 728.5 L129.2 730.1 L129.6 729.3 L130.0 729.6 L130.4 728.2 L130.8 729.5 L131.2 728.0 L131.6 730.1 L132.0 731.4 L132.4 729.1 L132.8 731.1 L133.2 731.7 L133.6 730.4 L134.0 731.8 L134.4 731.1 L134.8 730.6 L135.2 729.2 L135.6 729.7 L136.0 729.6 L136.4 733.1 L136.8 731.3 L137.2 731.0 L137.6 730.0 L138.0 732.5 L138.4 730.2 L138.8 732.6 L139.2 732.5 L139.6 731.6 L140.0 730.8 L140.4 731.3 L140.8 730.5 L141.2 732.1 L141.6 733.1 L142.0 732.7 L142.4 732.5 L142.8 730.9 L143.2 731.8 L143.6 730.9 L144.0 731.4 L144.4 732.3 L144.8 734.0 L145.2 731.9 L145.6 731.7 L146.0 730.3 L146.4 732.1 L146.8 731.0 L147.2 730.4 L147.6 730.4 L148.0 731.7 L148.4 731.4 L148.8 732.1 L149.2 731.2 L149.6 731.4 L150.0 732.8 L150.4 732.3 L150.8 732.4 L151.2 733.1 L151.6 731.9 L152.0 730.7 L152.4 731.0 L152.8 730.5 L153.2 731.8 L153.6 731.1 L154.0 732.0 L154.4 732.3 L154.8 730.8 L155.2 731.7 L155.6 732.8 L156.0 731.8 L156.4 732.3 L156.8 731.6 L157.2 730.9 L157.6 731.4 L158.0 730.0 L158.4 732.3 L158.8 731.1 L159.2 732.6 L159.6 730.5 L160.0 731.8 L160.4 731.9 L160.8 731.5 L161.2 732.1 L161.6 731.3 L162.0 731.0 L162.4 730.9 L162.8 731.7 L163.2 731.5 L163.6 732.5 L164.0 732.1 L164.4 731.9 L164.8 731.8 L165.2 730.7 L165.6 732.0 L166.0 732.6 L166.4 731.1 L166.8 732.1 L167.2 732.9 L167.6 731.8 L168.0 732.6 L168.4 732.1 L168.8 734.7 L169.2 734.1 L169.6 734.0 L170.0 732.5 L170.4 733.6 L170.8 733.0 L171.2 733.6 L171.6 732.7 L172.0 733.5 L172.4 732.8 L172.8 733.6 L173.2 734.7 L173.6 731.9 L174.0 731.8 L174.4 733.3 L174.8 733.5 L175.2 732.5 L175.6 733.3 L176.0 733.1 L176.4 733.2 L176.8 734.2 L177.2 732.4 L177.6 733.8 L178.0 733.5 L178.4 733.0 L178.8 734.2 L179.2 732.7 L179.6 732.6 L180.0 735.0 L180.4 733.1 L180.8 735.5 L181.2 735.1 L181.6 733.9 L182.0 733.7 L182.4 732.8 L182.8 734.5 L183.2 733.4 L183.6 736.2 L184.0 733.3 L184.4 735.1 L184.8 732.5 L185.2 734.7 L185.6 736.0 L186.0 734.2 L186.4 733.8 L186.8 733.8 L187.2 734.5 L187.6 735.1 L188.0 734.0 L188.4 732.6 L188.8 734.4 L189.2 734.9 L189.6 736.2 L190.0 734.3 L190.4 734.5 L190.8 734.1 L191.2 735.4 L191.6 736.2 L192.0 733.7 L192.4 734.5 L192.8 733.6 L193.2 733.9 L193.6 734.6 L194.0 735.0 L194.4 733.7 L194.8 734.1 L195.2 735.6 L195.6 734.7 L196.0 735.0 L196.4 734.7 L196.8 734.1 L197.2 734.5 L197.6 734.6 L198.0 734.2 L198.4 734.9 L198.8 733.9 L199.2 734.7 L199.6 733.9 L200.0 734.5 L200.4 733.3 L200.8 733.3 L201.2 732.8 L201.6 734.7 L202.0 734.2 L202.4 734.2 L202.8 734.7 L203.2 733.5 L203.6 734.2 L204.0 733.5 L204.4 732.1 L204.5 733.4 L204.8 732.8 L205.2 734.1 L205.6 730.4 L206.0 728.4 L206.4 727.4 L206.8 724.1 L207.2 720.7 L207.6 720.5 L208.0 718.5 L208.4 720.0 L208.5 717.5 L208.8 718.0 L209.2 717.1 L209.6 720.6 L210.0 724.8 L210.4 725.2 L210.8 727.0 L211.2 730.2 L211.6 731.4 L212.0 732.8 L212.4 735.5 L212.5 735.1 L212.8 734.8 L213.2 735.0 L213.6 733.0 L214.0 731.9 L214.4 734.3 L214.8 734.2 L215.2 733.9 L215.6 734.0 L216.0 734.5 L216.4 734.3 L216.8 733.9 L217.2 734.4 L217.6 733.6 L218.0 733.6 L218.4 734.9 L218.8 733.6 L219.2 735.4 L219.6 734.2 L220.0 733.6 L220.4 734.5 L220.8 733.0 L221.2 733.4 L221.6 733.3 L222.0 733.6 L222.4 733.9 L222.8 735.0 L223.2 733.7 L223.6 732.2 L224.0 732.6 L224.4 731.6 L224.8 733.8 L225.2 734.0 L225.6 733.4 L226.0 733.5 L226.4 733.9 L226.8 734.0 L227.2 734.2 L227.6 733.7 L228.0 732.8 L228.4 734.4 L228.8 734.6 L229.2 732.1 L229.6 733.4 L230.0 732.4 L230.4 733.6 L230.8 733.0 L231.2 734.8 L231.6 734.7 L232.0 733.3 L232.4 733.3 L232.8 733.4 L233.2 734.4 L233.6 733.1 L234.0 734.2 L234.4 732.8 L234.8 734.6 L235.2 733.9 L235.6 732.6 L236.0 733.0 L236.4 733.8 L236.8 733.8 L237.2 731.2 L237.6 734.1 L238.0 735.1 L238.4 733.6 L238.8 732.6 L239.2 734.7 L239.6 733.6 L240.0 733.2 L240.4 733.6 L240.8 731.7 L241.2 732.3 L241.6 731.6 L242.0 731.1 L242.4 731.9 L242.8 731.0 L243.2 733.3 L243.6 732.2 L244.0 732.4 L244.4 730.2 L244.8 731.1 L245.0 731.3 L245.2 731.6 L245.6 731.7 L246.0 730.7 L246.4 730.7 L246.8 732.5 L247.2 733.7 L247.6 733.6 L248.0 731.9 L248.4 731.4 L248.8 732.5 L249.2 733.2 L249.6 734.4 L250.0 732.7 L250.4 732.3 L250.8 734.0 L251.2 732.8 L251.6 732.6 L252.0 733.8 L252.4 733.2 L252.8 732.5 L253.2 733.4 L253.6 733.2 L254.0 733.5 L254.4 733.1 L254.8 734.0 L255.2 733.3 L255.6 733.3 L256.0 734.3 L256.4 732.4 L256.8 733.6 L257.2 733.7 L257.6 732.8 L258.0 733.0 L258.4 731.8 L258.8 733.1 L259.2 731.9 L259.6 732.4 L260.0 733.5 L260.4 732.9 L260.8 733.7 L261.2 733.7 L261.6 734.5 L262.0 733.7 L262.4 734.5 L262.8 733.0 L263.2 733.2 L263.6 734.2 L264.0 734.7 L264.4 734.2 L264.8 733.5 L265.2 732.8 L265.6 732.9 L266.0 734.6 L266.4 732.9 L266.8 733.7 L267.2 734.3 L267.6 733.9 L268.0 732.9 L268.4 735.0 L268.8 733.7 L269.2 734.0 L269.6 734.5 L270.0 733.4 L270.4 734.1 L270.8 733.6 L271.2 732.8 L271.6 732.6 L272.0 733.9 L272.4 733.5 L272.8 733.1 L273.2 732.6 L273.6 732.7 L274.0 733.6 L274.4 733.7 L274.8 732.7 L275.2 733.1 L275.6 731.3 L276.0 732.0 L276.4 732.4 L276.8 732.4 L277.2 733.8 L277.6 731.3 L278.0 733.6 L278.4 733.8 L278.8 735.0 L279.2 732.7 L279.6 733.8 L280.0 734.7 L280.4 734.2 L280.8 732.5 L281.2 733.1 L281.6 732.1 L282.0 733.1 L282.4 733.7 L282.8 734.4 L283.0 733.5 L283.2 733.8 L283.6 733.7 L284.0 731.6 L284.4 732.5 L284.8 732.4 L285.2 730.9 L285.6 729.8 L286.0 730.0 L286.4 729.7 L286.8 730.2 L287.2 728.3 L287.5 729.6 L287.6 730.8 L288.0 729.4 L288.4 726.3 L288.8 722.5 L289.2 717.7 L289.6 711.9 L290.0 706.3 L290.4 700.9 L290.8 695.5 L291.2 691.7 L291.6 688.5 L291.9 686.1 L292.0 686.9 L292.4 689.4 L292.8 694.1 L293.2 699.1 L293.6 704.2 L294.0 710.1 L294.4 715.8 L294.8 721.1 L295.2 724.7 L295.6 728.5 L296.0 730.0 L296.3 730.3 L296.4 731.9 L296.8 731.6 L297.2 732.2 L297.6 732.1 L298.0 730.9 L298.4 731.5 L298.8 731.2 L299.2 732.6 L299.6 729.4 L300.0 731.9 L300.4 731.2 L300.8 732.4 L301.2 732.7 L301.6 731.2 L302.0 732.7 L302.4 732.4 L302.8 730.2 L303.2 733.3 L303.6 730.7 L304.0 730.6 L304.4 732.4 L304.8 731.1 L305.2 731.8 L305.6 731.7 L306.0 731.0 L306.4 733.5 L306.8 733.2 L307.2 731.9 L307.6 733.0 L308.0 731.7 L308.4 732.2 L308.8 731.8 L309.0 731.0 L309.2 731.4 L309.6 730.4 L310.0 731.2 L310.4 730.2 L310.8 728.6 L311.2 729.2 L311.6 727.1 L312.0 727.2 L312.4 724.3 L312.8 723.8 L313.2 723.1 L313.6 723.8 L314.0 723.6 L314.4 724.3 L314.8 726.7 L315.2 726.8 L315.6 726.7 L316.0 728.7 L316.4 729.2 L316.8 730.1 L317.2 730.9 L317.6 731.8 L318.0 732.6 L318.4 732.6 L318.8 731.9 L319.2 731.1 L319.6 731.6 L320.0 731.4 L320.4 731.4 L320.8 730.7 L321.2 731.3 L321.6 729.8 L322.0 732.5 L322.4 731.9 L322.8 732.2 L323.2 730.8 L323.6 731.9 L324.0 732.7 L324.4 731.4 L324.8 730.8 L325.2 731.5 L325.5 729.7 L325.6 732.4 L326.0 731.4 L326.4 729.0 L326.8 728.9 L327.2 727.0 L327.6 724.1 L328.0 721.8 L328.4 720.4 L328.8 717.3 L329.2 716.6 L329.6 714.4 L329.8 713.4 L330.0 713.8 L330.4 713.9 L330.8 716.4 L331.2 717.4 L331.6 720.6 L332.0 723.2 L332.4 726.8 L332.8 729.2 L333.2 729.1 L333.6 730.2 L334.0 730.7 L334.4 730.4 L334.8 732.3 L335.2 731.7 L335.6 730.2 L336.0 729.3 L336.4 729.8 L336.8 730.2 L337.2 732.0 L337.6 729.6 L338.0 732.1 L338.4 729.8 L338.8 731.4 L339.2 730.3 L339.6 730.9 L340.0 729.5 L340.4 732.1 L340.8 731.7 L341.2 730.8 L341.6 729.7 L342.0 731.3 L342.4 731.4 L342.8 730.2 L343.2 732.1 L343.6 731.7 L344.0 730.9 L344.4 731.3 L344.8 729.8 L345.2 732.5 L345.6 732.8 L346.0 731.7 L346.4 730.7 L346.8 730.5 L347.2 730.8 L347.6 730.4 L348.0 731.2 L348.4 730.1 L348.8 731.6 L349.2 731.9 L349.6 730.7 L350.0 730.5 L350.4 728.7 L350.8 730.7 L351.2 729.5 L351.6 726.6 L352.0 726.6 L352.4 723.0 L352.8 720.3 L353.2 719.9 L353.6 718.2 L354.0 715.0 L354.4 715.5 L354.5 714.9 L354.8 715.7 L355.2 716.8 L355.6 717.7 L356.0 720.1 L356.4 722.6 L356.8 723.6 L357.2 725.0 L357.6 727.2 L358.0 730.4 L358.4 732.5 L358.8 731.5 L359.0 732.1 L359.2 731.1 L359.6 731.5 L360.0 732.9 L360.4 731.6 L360.8 732.3 L361.2 732.4 L361.6 733.3 L362.0 732.4 L362.4 732.0 L362.8 731.7 L363.2 731.5 L363.6 732.5 L364.0 733.6 L364.4 730.6 L364.8 732.6 L365.2 730.9 L365.6 731.2 L366.0 731.4 L366.4 731.4 L366.8 731.7 L367.2 731.5 L367.6 733.4 L368.0 730.5 L368.4 731.3 L368.8 731.3 L369.2 732.0 L369.6 730.6 L370.0 731.6 L370.4 731.5 L370.8 733.2 L371.2 732.1 L371.6 731.7 L372.0 732.1 L372.4 733.3 L372.8 731.6 L373.2 731.1 L373.6 731.2 L374.0 731.5 L374.4 732.6 L374.8 730.9 L375.0 731.4 L375.2 731.7 L375.6 731.0 L376.0 732.4 L376.4 731.6 L376.8 732.4 L377.2 732.3 L377.6 733.2 L378.0 733.5 L378.4 731.3 L378.8 731.1 L379.2 731.1 L379.6 732.4 L380.0 732.7 L380.4 732.3 L380.8 732.4 L381.2 733.5 L381.6 732.8 L382.0 732.2 L382.4 732.4 L382.8 730.8 L383.2 733.0 L383.6 733.6 L384.0 731.9 L384.4 731.2 L384.8 732.6 L385.2 731.1 L385.6 731.5 L386.0 731.8 L386.4 730.8 L386.8 731.4 L387.2 729.2 L387.6 728.8 L388.0 731.5 L388.4 731.3 L388.8 731.1 L389.2 730.7 L389.6 730.8 L390.0 731.3 L390.4 730.0 L390.8 731.1 L391.2 730.2 L391.6 732.6 L391.7 731.2 L392.0 730.7 L392.4 730.7 L392.8 730.5 L393.2 730.0 L393.6 728.1 L394.0 728.0 L394.4 727.8 L394.8 726.9 L395.2 726.4 L395.5 725.9 L395.6 726.8 L396.0 726.4 L396.4 723.1 L396.8 719.6 L397.2 715.4 L397.6 709.9 L398.0 704.9 L398.4 698.3 L398.8 690.6 L399.2 682.9 L399.6 675.6 L400.0 667.6 L400.4 658.5 L400.8 651.9 L401.0 649.5 L401.2 652.1 L401.6 659.9 L402.0 668.2 L402.4 677.5 L402.8 685.0 L403.2 693.5 L403.6 701.6 L404.0 708.1 L404.4 713.9 L404.8 718.5 L405.2 722.2 L405.6 725.4 L406.0 725.2 L406.4 726.6 L406.8 727.3 L407.2 728.0 L407.6 727.3 L408.0 727.7 L408.4 729.2 L408.8 730.8 L409.2 730.6 L409.5 730.6 L409.6 729.9 L410.0 730.9 L410.4 728.2 L410.8 728.5 L411.2 730.3 L411.6 728.9 L412.0 728.5 L412.4 725.8 L412.8 726.4 L413.2 726.5 L413.5 726.5 L413.6 727.3 L414.0 725.6 L414.4 723.6 L414.8 719.8 L415.2 715.4 L415.6 710.0 L416.0 703.5 L416.4 696.2 L416.8 687.1 L417.2 679.0 L417.6 669.4 L418.0 659.2 L418.4 649.7 L418.8 638.4 L419.0 633.2 L419.2 638.5 L419.6 648.7 L420.0 657.6 L420.4 667.8 L420.8 676.5 L421.2 684.7 L421.6 693.5 L422.0 700.5 L422.4 706.7 L422.8 712.7 L423.2 717.9 L423.6 720.9 L424.0 723.0 L424.4 724.4 L424.5 723.4 L424.8 724.7 L425.2 725.6 L425.6 723.9 L426.0 724.3 L426.4 725.0 L426.8 726.1 L427.2 726.0 L427.6 726.9 L428.0 726.3 L428.4 727.8 L428.8 728.0 L429.2 727.9 L429.6 726.9 L430.0 727.9 L430.4 725.5 L430.8 726.0 L431.2 726.1 L431.6 727.0 L432.0 725.1 L432.4 725.6 L432.8 726.0 L433.2 726.0 L433.6 725.4 L434.0 723.4 L434.4 724.0 L434.5 724.3 L434.8 723.7 L435.2 721.8 L435.6 718.5 L436.0 714.3 L436.4 708.3 L436.8 703.1 L437.2 696.2 L437.6 688.8 L438.0 682.9 L438.4 675.5 L438.8 669.0 L439.2 663.6 L439.5 659.6 L439.6 660.0 L440.0 661.6 L440.4 666.0 L440.8 670.3 L441.2 676.3 L441.6 681.0 L442.0 685.1 L442.4 689.6 L442.8 694.5 L443.2 697.1 L443.5 695.7 L443.6 697.6 L444.0 698.5 L444.4 701.8 L444.8 705.0 L445.2 709.3 L445.6 714.5 L446.0 718.3 L446.4 721.7 L446.8 723.7 L447.0 723.7 L447.2 725.6 L447.6 723.7 L448.0 724.7 L448.4 726.2 L448.8 727.4 L449.2 726.8 L449.5 726.6 L449.6 728.1 L450.0 727.9 L450.4 727.5 L450.8 726.7 L451.2 724.1 L451.6 725.1 L452.0 723.4 L452.4 724.5 L452.8 722.0 L453.0 720.5 L453.2 722.1 L453.6 721.2 L454.0 719.5 L454.4 716.7 L454.8 713.4 L455.2 709.1 L455.6 706.8 L456.0 703.1 L456.4 699.6 L456.8 697.6 L457.2 695.2 L457.6 692.4 L457.9 693.2 L458.0 692.7 L458.4 694.2 L458.8 697.6 L459.2 698.6 L459.6 702.0 L460.0 702.8 L460.4 708.9 L460.8 710.8 L461.2 714.7 L461.6 716.6 L462.0 720.2 L462.4 723.2 L462.8 723.8 L463.2 725.0 L463.5 724.5 L463.6 724.7 L464.0 725.6 L464.4 725.3 L464.8 725.9 L465.2 725.3 L465.6 726.0 L466.0 727.6 L466.4 728.5 L466.8 727.2 L467.2 727.3 L467.6 728.5 L468.0 729.7 L468.4 729.6 L468.8 730.7 L469.2 729.4 L469.6 728.5 L470.0 727.6 L470.4 729.6 L470.8 728.4 L471.2 726.9 L471.6 727.2 L472.0 725.3 L472.4 726.5 L472.8 725.9 L473.2 725.7 L473.6 723.9 L474.0 725.4 L474.4 724.3 L474.8 723.0 L475.2 717.4 L475.6 715.9 L476.0 712.2 L476.4 706.6 L476.8 703.6 L477.2 699.3 L477.6 697.5 L478.0 694.3 L478.3 694.0 L478.4 693.1 L478.8 696.8 L479.2 695.2 L479.3 695.3 L479.6 695.2 L480.0 694.6 L480.4 693.1 L480.6 693.0 L480.8 693.9 L481.2 694.5 L481.6 694.7 L482.0 698.9 L482.4 701.4 L482.8 705.2 L483.2 707.6 L483.6 711.3 L484.0 712.0 L484.4 714.1 L484.5 711.9 L484.8 713.8 L485.2 714.6 L485.6 714.2 L485.7 713.6 L486.0 714.4 L486.4 715.6 L486.8 717.4 L487.2 715.7 L487.6 717.6 L488.0 717.8 L488.4 720.4 L488.8 721.0 L489.2 722.1 L489.6 723.3 L490.0 723.1 L490.4 724.6 L490.5 723.3 L490.8 722.9 L491.2 723.3 L491.6 723.2 L492.0 723.9 L492.4 722.2 L492.6 722.0 L492.8 721.9 L493.2 721.7 L493.6 721.0 L494.0 723.1 L494.4 723.9 L494.8 724.2 L495.2 724.3 L495.6 726.5 L496.0 727.0 L496.4 727.5 L496.8 728.2 L497.2 728.1 L497.6 729.0 L498.0 729.5 L498.4 728.1 L498.5 728.4 L498.8 728.0 L499.2 727.9 L499.6 723.6 L500.0 724.5 L500.4 722.6 L500.8 721.4 L501.0 721.7 L501.2 719.9 L501.6 720.4 L502.0 717.4 L502.4 714.8 L502.8 713.5 L503.2 709.1 L503.6 707.6 L504.0 705.1 L504.4 703.9 L504.5 704.0 L504.8 703.6 L505.2 706.0 L505.6 708.5 L506.0 711.7 L506.4 712.5 L506.8 713.3 L507.2 711.4 L507.6 710.5 L508.0 710.4 L508.4 710.1 L508.8 709.0 L509.2 711.9 L509.6 712.2 L510.0 715.2 L510.4 717.0 L510.8 720.6 L511.2 723.2 L511.6 725.5 L512.0 725.7 L512.4 728.1 L512.8 730.4 L513.0 728.7 L513.2 729.1 L513.6 728.9 L514.0 728.3 L514.4 730.4 L514.8 730.3 L515.2 728.2 L515.6 729.1 L516.0 730.5 L516.4 729.2 L516.8 728.7 L517.2 729.5 L517.6 729.6 L518.0 727.7 L518.4 728.1 L518.8 730.3 L519.2 728.5 L519.6 728.8 L520.0 728.4 L520.4 730.7 L520.8 727.9 L521.2 728.9 L521.6 728.8 L522.0 728.9 L522.4 728.1 L522.8 728.3 L523.0 728.7 L523.2 729.1 L523.6 726.9 L524.0 727.7 L524.4 725.9 L524.8 725.0 L525.2 723.4 L525.6 722.6 L526.0 722.0 L526.4 722.3 L526.5 722.0 L526.8 720.8 L527.2 717.7 L527.6 713.2 L528.0 707.5 L528.4 699.2 L528.8 691.5 L529.2 684.7 L529.6 676.5 L530.0 670.3 L530.3 666.5 L530.4 666.5 L530.8 664.5 L531.2 661.4 L531.6 655.5 L532.0 649.9 L532.4 642.3 L532.8 632.9 L533.2 625.0 L533.6 616.4 L534.0 605.6 L534.4 598.2 L534.7 592.8 L534.8 592.9 L535.2 594.3 L535.6 598.0 L536.0 603.0 L536.4 609.3 L536.8 613.8 L537.2 618.8 L537.6 624.8 L538.0 627.7 L538.4 631.9 L538.7 630.0 L538.8 630.9 L539.2 624.2 L539.6 613.6 L540.0 609.7 L540.4 616.6 L540.8 626.9 L541.2 636.5 L541.6 646.8 L542.0 655.7 L542.4 663.5 L542.8 666.0 L542.9 665.4 L543.2 669.9 L543.6 677.5 L544.0 686.0 L544.4 695.3 L544.8 703.2 L545.2 711.9 L545.6 715.9 L546.0 718.2 L546.4 715.8 L546.8 716.0 L547.2 713.8 L547.6 710.2 L548.0 704.4 L548.4 701.4 L548.8 699.2 L549.2 693.7 L549.6 691.9 L550.0 689.1 L550.4 686.6 L550.5 688.5 L550.8 689.5 L551.2 691.4 L551.6 694.3 L552.0 699.1 L552.4 701.0 L552.8 707.2 L553.2 713.0 L553.6 715.3 L554.0 718.3 L554.4 718.6 L554.5 719.0 L554.8 718.0 L555.2 720.4 L555.6 722.0 L556.0 723.3 L556.4 725.8 L556.8 727.9 L557.2 729.5 L557.6 730.4 L557.8 730.8 L558.0 728.1 L558.4 729.9 L558.8 730.3 L559.2 728.5 L559.6 729.3 L560.0 731.2 L560.4 728.4 L560.8 729.6 L561.2 729.0 L561.6 727.5 L562.0 728.7 L562.4 727.2 L562.8 728.2 L563.2 728.9 L563.6 728.8 L564.0 728.5 L564.4 727.9 L564.8 728.7 L565.0 729.4 L565.2 728.9 L565.6 729.2 L566.0 728.8 L566.4 728.9 L566.8 727.7 L567.2 729.5 L567.6 727.1 L568.0 727.0 L568.4 726.8 L568.8 726.9 L569.2 728.2 L569.6 726.7 L570.0 726.5 L570.4 726.3 L570.7 726.5 L570.8 727.8 L571.2 727.4 L571.6 724.8 L572.0 724.7 L572.4 721.8 L572.8 718.9 L573.2 716.8 L573.6 712.9 L574.0 709.7 L574.4 706.5 L574.8 702.6 L575.2 700.1 L575.6 698.2 L576.0 696.6 L576.4 696.1 L576.6 695.7 L576.8 696.7 L577.2 694.0 L577.6 692.1 L578.0 690.6 L578.4 687.5 L578.8 681.4 L579.2 670.4 L579.6 655.6 L580.0 637.6 L580.4 614.5 L580.8 587.3 L581.2 556.3 L581.6 519.7 L582.0 480.4 L582.4 435.7 L582.8 388.2 L583.2 336.6 L583.4 308.2 L583.6 341.0 L584.0 402.5 L584.4 458.7 L584.8 507.8 L585.2 551.2 L585.6 589.3 L586.0 621.2 L586.4 647.2 L586.8 667.4 L587.2 682.5 L587.6 691.2 L588.0 694.5 L588.4 697.8 L588.8 707.0 L589.2 712.4 L589.4 714.6 L589.6 713.5 L590.0 711.0 L590.4 708.6 L590.8 702.5 L591.2 695.1 L591.6 686.4 L592.0 677.0 L592.4 665.7 L592.8 652.6 L593.2 638.4 L593.6 623.4 L594.0 606.8 L594.4 619.3 L594.8 631.1 L595.2 643.0 L595.6 652.6 L596.0 664.6 L596.4 673.0 L596.8 681.2 L597.2 687.6 L597.6 694.0 L598.0 697.3 L598.4 699.4 L598.7 699.6 L598.8 700.7 L599.2 704.0 L599.6 708.7 L600.0 715.7 L600.3 715.0 L600.4 716.3 L600.8 714.9 L601.2 712.2 L601.6 709.3 L602.0 705.3 L602.4 699.3 L602.8 693.5 L603.2 686.8 L603.6 680.0 L604.0 672.1 L604.4 665.6 L604.8 657.3 L605.2 650.3 L605.6 642.4 L605.8 639.1 L606.0 642.7 L606.4 651.5 L606.8 660.7 L607.2 669.1 L607.6 677.5 L608.0 686.1 L608.4 694.4 L608.8 701.1 L609.2 707.8 L609.6 711.7 L610.0 714.6 L610.4 716.2 L610.5 716.5 L610.8 714.8 L611.2 717.8 L611.6 721.1 L612.0 722.9 L612.4 726.2 L612.5 726.2 L612.8 726.9 L613.2 726.4 L613.6 725.7 L614.0 725.2 L614.4 723.3 L614.8 725.4 L615.2 723.4 L615.6 721.5 L616.0 720.7 L616.4 721.8 L616.8 721.8 L617.2 720.6 L617.6 719.5 L618.0 718.3 L618.4 716.1 L618.8 713.6 L619.2 712.6 L619.6 710.7 L620.0 712.4 L620.4 710.7 L620.5 711.3 L620.8 713.1 L621.2 711.2 L621.6 712.9 L622.0 713.6 L622.4 714.6 L622.8 718.7 L623.2 719.7 L623.6 721.4 L624.0 723.5 L624.4 723.5 L624.8 725.0 L625.0 725.7 L625.2 724.0 L625.6 724.6 L626.0 723.7 L626.4 723.4 L626.8 723.4 L627.2 719.3 L627.6 720.5 L628.0 718.7 L628.4 718.9 L628.5 718.6 L628.8 718.0 L629.2 716.9 L629.6 717.5 L630.0 716.5 L630.4 718.1 L630.8 717.2 L631.2 715.5 L631.6 715.1 L632.0 716.0 L632.4 713.7 L632.8 714.8 L633.2 714.7 L633.3 713.9 L633.6 714.2 L634.0 709.0 L634.4 701.5 L634.8 689.8 L635.2 675.0 L635.6 657.8 L636.0 638.2 L636.4 614.8 L636.5 608.8 L636.8 610.8 L637.2 616.0 L637.6 623.1 L638.0 629.3 L638.4 635.8 L638.8 641.6 L639.2 643.3 L639.6 642.9 L639.8 641.1 L640.0 648.5 L640.4 660.8 L640.8 674.5 L641.2 685.3 L641.6 697.4 L642.0 707.6 L642.4 714.7 L642.8 720.2 L643.2 721.8 L643.6 722.5 L644.0 727.0 L644.4 731.0 L644.5 730.5 L644.8 731.6 L645.2 731.4 L645.6 730.4 L646.0 729.8 L646.4 728.2 L646.8 728.6 L647.2 730.6 L647.6 730.8 L648.0 730.8 L648.4 730.0 L648.8 730.4 L649.2 730.0 L649.6 731.6 L650.0 731.1 L650.4 729.2 L650.8 730.6 L651.2 731.9 L651.6 730.1 L652.0 729.9 L652.4 730.1 L652.8 730.4 L653.2 731.0 L653.6 730.8 L654.0 731.3 L654.4 730.5 L654.8 731.3 L655.2 732.3 L655.6 730.8 L656.0 731.9 L656.4 732.1 L656.8 732.0 L657.2 731.8 L657.6 732.1 L658.0 731.9 L658.4 731.7 L658.8 731.5 L659.2 732.7 L659.6 731.6 L660.0 730.9 L660.4 732.4 L660.8 732.3 L661.2 733.6 L661.6 733.6 L662.0 732.2 L662.4 734.0 L662.8 733.2 L663.2 734.6 L663.6 732.5 L664.0 733.4 L664.4 733.6 L664.8 734.3 L665.2 731.7 L665.5 732.7 L665.6 732.8 L666.0 732.5 L666.4 731.3 L666.8 731.2 L667.2 730.5 L667.6 731.0 L668.0 728.9 L668.4 729.3 L668.8 727.5 L669.0 728.3 L669.2 727.8 L669.6 727.6 L670.0 725.7 L670.4 726.1 L670.8 727.3 L671.2 724.3 L671.6 722.4 L672.0 724.7 L672.4 722.4 L672.8 722.0 L673.0 720.5 L673.2 721.6 L673.6 721.8 L674.0 722.6 L674.4 722.5 L674.8 725.1 L675.2 724.6 L675.6 727.9 L676.0 728.0 L676.4 728.4 L676.8 728.1 L677.2 730.3 L677.5 730.4 L677.6 728.9 L678.0 731.3 L678.4 730.0 L678.8 728.7 L679.2 730.8 L679.6 728.9 L680.0 729.4 L680.4 729.1 L680.8 729.6 L681.2 730.3 L681.6 729.9 L682.0 730.8 L682.4 730.0 L682.8 731.4 L683.2 729.8 L683.6 731.2 L684.0 731.7 L684.4 732.5 L684.8 731.7 L685.2 732.2 L685.3 732.7 L685.6 732.0 L686.0 732.8 L686.4 732.5 L686.8 731.4 L687.2 730.4 L687.6 732.1 L688.0 731.4 L688.4 730.2 L688.8 730.3 L689.2 730.2 L689.5 729.0 L689.6 729.6 L690.0 729.4 L690.4 728.9 L690.8 727.6 L691.2 726.6 L691.6 727.0 L692.0 726.1 L692.4 726.6 L692.8 725.1 L693.2 724.8 L693.6 723.7 L694.0 724.9 L694.4 725.6 L694.8 725.9 L695.2 725.9 L695.6 724.5 L696.0 726.6 L696.4 728.0 L696.8 729.3 L697.2 727.2 L697.6 727.8 L698.0 724.9 L698.4 724.6 L698.8 721.7 L699.2 720.4 L699.5 720.6 L699.6 719.8 L700.0 717.5 L700.4 713.0 L700.8 704.5 L701.2 695.3 L701.6 685.4 L702.0 674.3 L702.4 663.1 L702.8 652.8 L703.0 648.3 L703.2 650.0 L703.6 652.1 L704.0 655.5 L704.4 660.7 L704.8 665.9 L705.2 667.9 L705.5 670.0 L705.6 669.8 L706.0 669.2 L706.4 665.3 L706.8 660.8 L707.2 653.5 L707.6 645.3 L708.0 636.5 L708.4 624.3 L708.8 612.5 L709.2 599.3 L709.6 585.7 L710.0 569.8 L710.4 578.3 L710.8 588.2 L711.2 598.5 L711.6 608.0 L712.0 617.3 L712.4 626.4 L712.8 632.5 L713.2 638.8 L713.6 641.4 L714.0 643.5 L714.4 641.8 L714.8 638.1 L715.2 631.9 L715.6 624.2 L716.0 613.7 L716.4 604.2 L716.8 595.1 L717.2 583.6 L717.6 573.1 L717.9 565.9 L718.0 571.4 L718.4 591.3 L718.8 610.1 L719.2 626.9 L719.6 641.9 L720.0 656.1 L720.4 669.0 L720.8 679.0 L721.2 688.9 L721.6 696.4 L722.0 703.1 L722.4 707.5 L722.8 711.7 L723.2 713.3 L723.5 714.4 L723.6 713.5 L724.0 717.3 L724.4 719.7 L724.8 722.2 L725.2 728.0 L725.6 728.7 L725.8 729.2 L726.0 727.7 L726.4 727.8 L726.8 724.9 L727.2 721.4 L727.6 718.8 L728.0 718.7 L728.4 716.3 L728.5 716.5 L728.8 714.2 L729.2 706.9 L729.6 695.2 L730.0 682.1 L730.4 669.8 L730.8 660.6 L731.2 658.4 L731.6 652.2 L732.0 643.4 L732.4 636.0 L732.8 628.9 L733.2 624.9 L733.6 624.4 L733.9 626.3 L734.0 624.1 L734.4 623.2 L734.8 614.6 L735.2 606.3 L735.6 596.3 L736.0 591.4 L736.2 590.3 L736.4 593.8 L736.8 606.3 L737.2 621.8 L737.6 634.6 L738.0 639.8 L738.4 652.0 L738.8 665.4 L739.2 679.5 L739.6 692.3 L740.0 702.4 L740.4 711.0 L740.8 715.6 L741.0 715.5 L741.2 716.5 L741.6 719.1 L742.0 723.8 L742.4 727.0 L742.7 727.2 L742.8 728.4 L743.2 729.6 L743.6 728.4 L744.0 727.1 L744.4 728.3 L744.8 730.3 L745.2 728.6 L745.6 729.6 L746.0 728.4 L746.4 728.4 L746.8 730.0 L747.2 730.5 L747.6 729.5 L748.0 730.4 L748.4 729.6 L748.8 728.3 L749.2 729.2 L749.6 729.7 L750.0 730.7 L750.4 727.0 L750.8 728.2 L751.2 727.9 L751.6 727.8 L752.0 727.4 L752.4 728.2 L752.8 727.8 L753.2 726.2 L753.6 726.1 L754.0 726.9 L754.4 725.6 L754.8 727.0 L755.2 727.8 L755.6 727.5 L756.0 728.2 L756.4 728.6 L756.8 730.2 L757.2 731.3 L757.6 730.7 L758.0 733.1 L758.4 732.3 L758.8 733.4 L759.2 733.6 L759.5 732.6 L759.6 733.3 L760.0 732.4 L760.4 734.1 L760.8 733.0 L761.2 731.7 L761.6 733.1 L762.0 731.8 L762.4 733.3 L762.8 731.0 L763.2 731.1 L763.6 729.2 L764.0 729.6 L764.4 729.4 L764.8 730.1 L765.2 730.2 L765.6 729.2 L766.0 729.1 L766.4 728.6 L766.8 728.7 L767.2 728.9 L767.6 729.3 L768.0 729.3 L768.4 727.3 L768.8 726.1 L769.2 725.2 L769.6 726.1 L770.0 726.1 L770.4 724.9 L770.8 725.3 L771.2 723.6 L771.6 723.0 L772.0 723.0 L772.4 721.9 L772.8 722.8 L773.2 722.5 L773.6 721.5 L774.0 723.7 L774.4 724.9 L774.8 726.4 L775.2 726.0 L775.6 728.1 L776.0 727.4 L776.4 730.0 L776.8 729.4 L777.2 730.4 L777.6 729.8 L778.0 732.2 L778.4 730.5 L778.8 731.9 L779.2 731.3 L779.6 732.2 L780.0 733.1 L780.4 731.8 L780.8 733.8 L781.2 733.5 L781.6 733.6 L782.0 735.7 L782.4 734.9 L782.8 736.1 L783.2 734.9 L783.6 734.5 L784.0 734.1 L784.4 733.8 L784.8 732.5 L785.2 733.2 L785.6 731.0 L786.0 731.6 L786.4 729.3 L786.8 728.8 L787.2 727.5 L787.6 729.3 L788.0 725.6 L788.2 728.2 L788.4 728.5 L788.8 728.8 L789.2 729.5 L789.6 729.6 L790.0 727.2 L790.4 729.0 L790.8 728.6 L791.2 729.4 L791.6 729.4 L792.0 730.6 L792.4 730.3 L792.8 730.0 L793.0 729.1 L793.2 730.1 L793.6 728.5 L794.0 725.8 L794.4 724.2 L794.8 721.3 L795.2 715.5 L795.6 713.7 L796.0 708.2 L796.4 705.8 L796.8 702.5 L797.2 702.7 L797.5 703.4 L797.6 701.1 L798.0 702.6 L798.4 704.3 L798.8 707.9 L799.2 711.8 L799.6 713.0 L800.0 718.3 L800.4 722.8 L800.8 723.7 L801.2 726.2 L801.6 728.3 L802.0 726.9 L802.4 727.2 L802.8 727.3 L803.2 725.1 L803.6 723.6 L804.0 719.5 L804.4 717.6 L804.8 714.7 L805.2 712.0 L805.6 711.4 L806.0 711.3 L806.4 708.4 L806.8 710.1 L807.2 711.1 L807.6 713.0 L808.0 713.2 L808.4 714.0 L808.8 717.6 L809.2 718.7 L809.6 719.9 L810.0 722.5 L810.4 723.4 L810.8 724.1 L810.9 723.4 L811.2 721.9 L811.6 721.6 L812.0 723.4 L812.4 723.6 L812.8 722.1 L813.2 719.6 L813.6 720.3 L814.0 717.5 L814.4 718.5 L814.8 716.5 L815.2 716.1 L815.6 714.0 L816.0 714.6 L816.4 712.1 L816.8 715.2 L817.2 713.8 L817.6 716.4 L818.0 718.8 L818.4 720.5 L818.8 721.1 L819.2 720.4 L819.5 723.0 L819.6 721.9 L820.0 721.6 L820.4 725.5 L820.8 728.2 L821.2 728.2 L821.6 731.9 L822.0 734.0 L822.4 735.3 L822.8 736.7 L823.2 736.6 L823.6 734.7 L824.0 735.0 L824.4 734.3 L824.8 732.5 L825.2 731.7 L825.6 730.1 L826.0 729.5 L826.4 729.7 L826.8 726.5 L827.0 727.4 L827.2 728.0 L827.6 725.9 L828.0 723.1 L828.4 722.9 L828.8 722.0 L829.2 719.5 L829.6 716.1 L830.0 716.2 L830.4 714.9 L830.8 714.1 L831.0 715.1 L831.2 712.7 L831.6 716.6 L832.0 718.1 L832.4 717.8 L832.8 719.2 L833.2 720.9 L833.6 724.2 L834.0 725.0 L834.4 724.9 L834.8 725.4 L835.2 727.8 L835.6 727.8 L836.0 725.1 L836.4 726.1 L836.8 722.9 L837.2 722.1 L837.6 719.6 L838.0 719.9 L838.4 717.8 L838.8 717.5 L839.2 717.9 L839.6 717.2 L840.0 719.7 L840.4 720.0 L840.8 720.5 L841.2 721.8 L841.6 724.9 L842.0 727.0 L842.4 728.7 L842.8 729.7 L843.2 733.6 L843.6 734.2 L844.0 736.0 L844.4 736.7 L844.8 736.7 L844.9 736.2 L845.2 735.5 L845.6 737.5 L846.0 736.3 L846.4 737.3 L846.8 737.3 L847.2 736.2 L847.6 735.5 L848.0 736.0 L848.4 736.6 L848.8 735.1 L849.2 735.4 L849.6 736.4 L850.0 734.2 L850.4 735.7 L850.8 734.7 L851.2 734.2 L851.6 733.0 L852.0 730.9 L852.4 730.3 L852.8 730.8 L853.0 729.7 L853.2 729.3 L853.6 728.4 L854.0 727.4 L854.4 726.9 L854.8 724.4 L855.2 722.7 L855.6 721.5 L856.0 721.5 L856.4 722.0 L856.8 722.6 L857.2 723.0 L857.6 725.8 L858.0 724.3 L858.4 726.6 L858.8 728.0 L859.2 728.8 L859.6 729.5 L860.0 729.3 L860.4 730.6 L860.7 731.3 L860.8 730.1 L861.2 730.7 L861.6 730.1 L862.0 727.9 L862.4 725.9 L862.8 722.6 L863.2 722.5 L863.6 721.3 L864.0 718.6 L864.4 717.5 L864.8 712.5 L865.2 713.8 L865.3 714.1 L865.6 714.8 L866.0 714.6 L866.4 714.5 L866.8 717.0 L867.2 716.8 L867.6 719.3 L868.0 721.6 L868.4 723.1 L868.8 722.7 L869.2 723.1 L869.6 721.2 L870.0 719.4 L870.4 717.0 L870.8 712.8 L871.2 707.6 L871.6 702.0 L872.0 696.8 L872.4 692.0 L872.8 687.9 L873.2 683.4 L873.6 679.5 L873.8 680.3 L874.0 680.7 L874.4 683.0 L874.8 687.3 L875.2 690.6 L875.6 694.4 L876.0 698.8 L876.4 704.1 L876.8 708.5 L877.2 713.7 L877.6 717.0 L878.0 720.6 L878.4 723.2 L878.8 726.2 L879.2 728.6 L879.6 727.4 L879.7 728.4 L880.0 726.4 L880.4 725.6 L880.8 726.3 L881.2 720.6 L881.6 719.0 L882.0 714.2 L882.4 712.1 L882.8 709.7 L883.2 705.9 L883.6 703.9 L884.0 701.2 L884.4 698.3 L884.8 697.4 L885.0 697.4 L885.2 696.8 L885.6 696.8 L886.0 700.4 L886.4 704.0 L886.8 706.9 L887.2 708.5 L887.6 712.9 L888.0 717.7 L888.4 719.9 L888.8 724.1 L889.2 724.4 L889.6 725.0 L890.0 725.6 L890.4 728.9 L890.8 727.1 L891.2 728.1 L891.6 730.5 L892.0 730.9 L892.4 730.8 L892.8 732.6 L893.0 734.2 L893.2 732.2 L893.6 732.5 L894.0 733.7 L894.4 734.7 L894.8 734.1 L895.2 736.7 L895.6 735.2 L896.0 735.0 L896.4 736.5 L896.8 736.7 L897.2 736.6 L897.6 736.6 L898.0 738.2 L898.4 738.0 L898.8 737.0 L899.2 736.3 L899.6 736.7 L900.0 736.6 L900.4 736.4 L900.8 735.5 L901.2 737.2 L901.6 736.8 L902.0 735.0 L902.4 736.8 L902.8 737.2 L903.2 737.2 L903.6 736.3 L904.0 736.4 L904.4 736.0 L904.8 736.1 L905.2 737.7 L905.6 737.3 L906.0 735.8 L906.4 737.2 L906.8 737.8 L907.2 738.2 L907.6 737.2 L908.0 736.0 L908.4 736.7 L908.8 736.2 L909.2 736.2 L909.6 735.9 L910.0 737.0 L910.4 736.9 L910.8 736.2 L911.2 738.3 L911.6 736.3 L912.0 737.2 L912.4 738.2 L912.8 736.4 L913.2 738.0 L913.6 736.5 L914.0 737.7 L914.4 736.8 L914.7 735.4 L914.8 735.6 L915.2 734.1 L915.6 733.0 L916.0 730.5 L916.4 729.4 L916.8 726.1 L917.0 726.5 L917.2 727.3 L917.6 726.2 L918.0 725.6 L918.4 722.2 L918.8 718.7 L919.2 716.5 L919.6 711.3 L920.0 710.4 L920.4 708.6 L920.8 707.3 L921.2 705.1 L921.6 707.5 L922.0 707.1 L922.4 708.5 L922.8 710.7 L923.2 712.8 L923.6 712.5 L924.0 714.8 L924.4 715.8 L924.8 716.9 L925.1 717.6 L925.2 717.6 L925.6 716.4 L926.0 716.0 L926.4 715.3 L926.8 712.9 L927.2 709.4 L927.6 706.8 L928.0 706.3 L928.4 704.9 L928.8 703.7 L929.2 703.3 L929.5 703.3 L929.6 704.3 L930.0 703.6 L930.4 704.4 L930.8 706.3 L931.2 709.4 L931.6 710.4 L932.0 713.2 L932.4 715.2 L932.8 716.0 L933.2 716.3 L933.5 716.6 L933.6 716.9 L934.0 717.2 L934.4 718.2 L934.8 719.5 L935.2 718.9 L935.4 718.2 L935.6 720.5 L936.0 720.1 L936.4 719.2 L936.8 721.8 L937.2 722.3 L937.6 724.9 L938.0 726.3 L938.4 728.6 L938.8 728.0 L939.2 730.6 L939.6 731.8 L940.0 729.9 L940.4 731.8 L940.8 731.9 L941.2 732.0 L941.6 733.9 L942.0 732.9 L942.4 734.0 L942.8 735.4 L943.2 735.8 L943.3 735.2 L943.6 735.4 L944.0 735.0 L944.4 735.7 L944.8 734.7 L945.2 734.9 L945.6 734.1 L946.0 733.9 L946.4 732.6 L946.8 733.4 L947.2 734.0 L947.6 733.2 L948.0 733.9 L948.4 734.9 L948.8 733.9 L949.2 733.2 L949.6 733.5 L950.0 732.4 L950.4 735.0 L950.8 735.6 L951.0 733.4 L951.2 737.0 L951.6 733.6 L952.0 734.8 L952.4 733.5 L952.8 734.2 L953.2 732.8 L953.6 731.9 L954.0 731.0 L954.4 729.3 L954.8 728.7 L955.2 726.5 L955.6 728.4 L956.0 726.5 L956.4 726.7 L956.8 726.2 L957.2 725.4 L957.6 725.7 L958.0 726.9 L958.4 727.8 L958.8 728.3 L959.2 730.6 L959.6 732.3 L960.0 733.4 L960.4 733.8 L960.8 735.3 L961.2 737.3 L961.6 737.0 L962.0 736.2 L962.1 735.9 L962.4 736.9 L962.8 734.1 L963.2 736.3 L963.6 734.5 L964.0 734.8 L964.4 734.7 L964.8 735.8 L965.2 733.2 L965.6 735.0 L966.0 735.2 L966.4 732.8 L966.8 734.0 L967.2 735.1 L967.6 732.6 L968.0 733.7 L968.4 732.4 L968.8 732.9 L969.0 730.9 L969.2 733.0 L969.6 735.0 L970.0 734.9 L970.4 733.3 L970.8 734.4 L971.2 733.5 L971.6 733.6 L972.0 733.3 L972.4 735.2 L972.8 733.3 L973.2 735.0 L973.6 733.4 L974.0 735.1 L974.4 733.3 L974.8 732.5 L975.2 732.9 L975.6 733.5 L976.0 734.1 L976.4 734.0 L976.8 732.5 L977.2 734.5 L977.6 733.0 L978.0 732.9 L978.4 731.7 L978.8 733.1 L979.2 731.9 L979.6 730.4 L980.0 731.1 L980.4 730.9 L980.8 730.2 L981.2 729.7 L981.6 730.0 L982.0 728.7 L982.4 730.6 L982.8 729.1 L983.2 728.5 L983.6 730.0 L984.0 731.4 L984.4 731.5 L984.8 730.0 L985.2 730.7 L985.6 732.1 L986.0 732.0 L986.4 732.7 L986.8 733.2 L987.2 731.6 L987.6 734.9 L988.0 732.8 L988.4 734.3 L988.8 733.7 L989.2 735.3 L989.6 736.4 L990.0 735.8 L990.4 734.9 L990.8 735.8 L991.2 735.6 L991.6 735.6 L992.0 736.6 L992.4 735.5 L992.8 737.0 L993.2 735.9 L993.6 737.7 L994.0 738.0 L994.4 737.7 L994.8 738.8 L995.2 739.3 L995.6 738.5 L996.0 739.1 L996.4 737.7 L996.8 738.1 L997.2 740.1 L997.6 737.5 L997.8 740.9 L998.0 740.3 L998.4 738.8 L998.8 739.3 L999.2 737.9 L999.6 739.4 L1000.0 737.2 L1000.4 738.6 L1000.8 736.8 L1001.2 735.5 L1001.6 736.4 L1002.0 736.1 L1002.4 735.9 L1002.8 736.2 L1003.2 734.7 L1003.6 733.6 L1004.0 734.6 L1004.4 734.9 L1004.8 734.8 L1005.0 734.2 L1005.2 735.1 L1005.6 733.5 L1006.0 734.4 L1006.4 734.4 L1006.8 733.8 L1007.2 733.6 L1007.6 731.3 L1008.0 731.6 L1008.4 731.0 L1008.8 730.4 L1009.2 729.7 L1009.6 730.1 L1010.0 730.2 L1010.4 730.3 L1010.8 729.3 L1011.2 729.3 L1011.6 730.0 L1012.0 728.5 L1012.4 730.8 L1012.8 730.0 L1013.2 731.4 L1013.6 731.1 L1014.0 731.3 L1014.4 732.6 L1014.8 732.7 L1015.2 733.0 L1015.6 732.1 L1016.0 732.7 L1016.4 733.5 L1016.8 734.4 L1017.2 734.7 L1017.6 735.0 L1018.0 737.3 L1018.4 735.1 L1018.8 739.2 L1019.2 737.1 L1019.5 737.3 L1019.6 735.6 L1020.0 737.3 L1020.4 737.6 L1020.8 737.7 L1021.2 735.0 L1021.6 735.8 L1022.0 737.0 L1022.4 735.4 L1022.8 736.0 L1023.2 734.9 L1023.6 734.7 L1024.0 732.5 L1024.4 733.1 L1024.8 732.0 L1025.2 729.6 L1025.6 731.3 L1026.0 730.0 L1026.4 730.4 L1026.8 729.9 L1027.2 728.6 L1027.4 731.0 L1027.6 729.4 L1028.0 729.6 L1028.4 727.6 L1028.8 729.5 L1029.2 729.7 L1029.6 730.2 L1030.0 728.9 L1030.4 731.0 L1030.8 728.7 L1031.2 730.7 L1031.6 730.7 L1032.0 730.7 L1032.4 729.2 L1032.8 730.4 L1033.2 728.1 L1033.6 730.4 L1034.0 729.9 L1034.4 730.5 L1034.8 730.1 L1035.2 728.6 L1035.6 731.4 L1036.0 730.4 L1036.3 731.4 L1036.4 728.5 L1036.8 731.0 L1037.2 729.2 L1037.6 727.8 L1038.0 728.4 L1038.4 726.6 L1038.8 726.6 L1039.2 725.4 L1039.6 721.7 L1040.0 721.1 L1040.4 720.1 L1040.8 718.4 L1041.2 716.7 L1041.6 716.5 L1042.0 715.6 L1042.3 716.3 L1042.4 717.1 L1042.8 717.8 L1043.2 715.0 L1043.6 716.4 L1044.0 718.2 L1044.4 720.1 L1044.8 721.5 L1045.2 723.9 L1045.6 724.5 L1046.0 725.1 L1046.4 728.4 L1046.8 727.4 L1047.2 730.1 L1047.6 731.8 L1048.0 733.0 L1048.4 732.6 L1048.8 734.3 L1049.2 733.3 L1049.6 732.3 L1050.0 732.9 L1050.4 732.9 L1050.8 732.0 L1051.2 731.6 L1051.6 730.2 L1052.0 729.5 L1052.4 728.3 L1052.8 724.8 L1053.2 725.4 L1053.6 725.4 L1054.0 723.1 L1054.4 723.8 L1054.8 722.5 L1055.1 723.8 L1055.2 722.2 L1055.6 724.3 L1056.0 722.2 L1056.4 723.3 L1056.8 723.4 L1057.2 727.9 L1057.6 727.1 L1058.0 726.7 L1058.4 728.8 L1058.8 729.9 L1059.2 731.5 L1059.6 731.1 L1060.0 732.2 L1060.4 733.9 L1060.8 733.8 L1061.2 735.5 L1061.6 736.5 L1062.0 735.6 L1062.4 735.3 L1062.8 734.4 L1063.2 730.7 L1063.6 733.5 L1064.0 731.5 L1064.4 730.8 L1064.8 730.3 L1065.2 731.6 L1065.6 729.7 L1066.0 730.8 L1066.4 729.2 L1066.8 728.3 L1067.2 728.5 L1067.6 727.4 L1068.0 727.3 L1068.4 727.8 L1068.8 729.0 L1069.2 727.0 L1069.6 729.8 L1070.0 729.5 L1070.4 729.9 L1070.8 729.3 L1071.2 731.1 L1071.6 732.6 L1072.0 732.4 L1072.4 733.5 L1072.8 734.0 L1073.2 734.3 L1073.6 734.7 L1074.0 735.6 L1074.4 736.8 L1074.8 736.8 L1075.2 735.5 L1075.6 736.0 L1076.0 736.7 L1076.4 737.3 L1076.8 735.9 L1077.2 737.1 L1077.6 735.5 L1078.0 737.1 L1078.4 736.3 L1078.8 734.1 L1079.2 734.2 L1079.6 732.0 L1080.0 730.7 L1080.4 731.0 L1080.8 731.0 L1081.0 730.7 L1081.2 731.1 L1081.6 729.8 L1082.0 730.2 L1082.4 730.4 L1082.8 729.4 L1083.2 727.6 L1083.6 727.4 L1084.0 727.0 L1084.4 725.4 L1084.8 725.3 L1085.2 725.0 L1085.6 725.3 L1085.7 724.9 L1086.0 725.3 L1086.4 724.9 L1086.8 725.9 L1087.2 725.7 L1087.6 726.5 L1088.0 726.6 L1088.4 729.0 L1088.8 730.4 L1089.2 731.4 L1089.6 731.5 L1090.0 732.4 L1090.4 732.6 L1090.7 731.7 L1090.8 732.6 L1091.2 731.7 L1091.6 730.3 L1092.0 727.5 L1092.4 728.1 L1092.8 725.4 L1093.0 724.3 L1093.2 725.0 L1093.6 721.5 L1094.0 717.0 L1094.4 710.0 L1094.8 705.5 L1095.2 700.1 L1095.6 698.2 L1096.0 698.6 L1096.4 698.4 L1096.8 700.1 L1097.2 699.1 L1097.5 700.4 L1097.6 699.4 L1098.0 696.8 L1098.4 695.2 L1098.8 692.3 L1099.2 691.5 L1099.6 691.6 L1100.0 693.2 L1100.4 697.9 L1100.8 700.7 L1101.2 701.6 L1101.5 702.3 L1101.6 700.9 L1102.0 702.2 L1102.4 700.6 L1102.8 701.7 L1103.2 702.0 L1103.6 700.2 L1104.0 699.7 L1104.4 698.8 L1104.8 699.0 L1104.9 699.0 L1105.2 700.9 L1105.6 701.4 L1106.0 704.5 L1106.4 707.8 L1106.8 710.2 L1107.2 713.9 L1107.6 717.7 L1108.0 720.5 L1108.4 725.3 L1108.8 724.7 L1109.2 727.1 L1109.5 728.8 L1109.6 727.0 L1110.0 730.4 L1110.4 730.1 L1110.8 732.9 L1111.2 735.0 L1111.4 735.1 L1111.6 734.3 L1112.0 735.3 L1112.4 733.3 L1112.8 735.1 L1113.2 733.8 L1113.6 735.1 L1114.0 734.6 L1114.4 735.5 L1114.8 736.2 L1115.2 736.9 L1115.6 737.3 L1116.0 737.3 L1116.4 737.0 L1116.8 735.7 L1117.2 737.2 L1117.6 735.6 L1118.0 734.8 L1118.4 733.3 L1118.8 733.6 L1119.2 733.6 L1119.6 733.5 L1120.0 731.7 L1120.4 732.8 L1120.8 731.8 L1121.2 731.8 L1121.6 731.4 L1122.0 731.0 L1122.4 730.9 L1122.8 730.6 L1123.2 728.8 L1123.6 729.5 L1124.0 729.1 L1124.4 730.9 L1124.8 729.2 L1125.2 729.1 L1125.3 728.6 L1125.6 727.7 L1126.0 729.9 L1126.4 727.8 L1126.8 727.9 L1127.2 729.3 L1127.6 728.8 L1128.0 731.1 L1128.4 731.6 L1128.8 730.7 L1129.2 730.2 L1129.6 733.3 L1130.0 733.8 L1130.4 733.0 L1130.8 733.8 L1131.2 733.2 L1131.6 733.6 L1132.0 733.8 L1132.4 732.5 L1132.8 735.5 L1133.0 734.5 L1133.2 734.1 L1133.6 733.9 L1134.0 734.3 L1134.4 734.6 L1134.8 736.7 L1135.2 734.0 L1135.6 734.5 L1136.0 736.0 L1136.4 735.2 L1136.8 738.1 L1137.2 737.7 L1137.6 736.3 L1138.0 738.0 L1138.4 737.9 L1138.8 741.2 L1139.2 739.1 L1139.6 740.5 L1140.0 739.4 L1140.4 739.9 L1140.8 738.9 L1141.2 740.7 L1141.6 740.4 L1142.0 738.9 L1142.4 740.4 L1142.8 739.9 L1143.2 738.9 L1143.6 738.7 L1144.0 739.9 L1144.4 740.2 L1144.8 739.1 L1145.2 739.5 L1145.6 740.0 L1146.0 737.6 L1146.4 740.1 L1146.8 739.2 L1147.2 737.4 L1147.6 738.1 L1148.0 735.9 L1148.4 738.1 L1148.8 739.3 L1149.2 738.7 L1149.6 738.2 L1150.0 736.7 L1150.4 738.5 L1150.8 736.7 L1151.2 735.8 L1151.6 734.8 L1152.0 734.8 L1152.4 733.0 L1152.8 733.6 L1153.2 732.3 L1153.6 731.7 L1154.0 731.8 L1154.4 732.2 L1154.8 730.5 L1155.2 729.8 L1155.6 729.8 L1156.0 730.6 L1156.4 728.6 L1156.8 729.7 L1157.2 728.1 L1157.6 728.5 L1158.0 729.5 L1158.4 727.5 L1158.8 727.9 L1159.2 726.5 L1159.6 724.6 L1160.0 726.1 L1160.4 723.6 L1160.8 723.6 L1161.2 724.4 L1161.6 723.9 L1161.8 725.3 L1162.0 725.6 L1162.4 725.3 L1162.8 725.1 L1163.2 725.9 L1163.6 726.8 L1164.0 727.9 L1164.4 727.7 L1164.8 730.6 L1165.2 729.9 L1165.6 731.6 L1166.0 730.7 L1166.4 732.4 L1166.8 731.9 L1167.0 732.5 L1167.2 730.4 L1167.6 732.1 L1168.0 731.9 L1168.4 734.2 L1168.8 732.5 L1169.2 735.0 L1169.6 733.8 L1170.0 736.2 L1170.4 737.3 L1170.8 736.4 L1171.2 737.0 L1171.6 737.5 L1172.0 737.4 L1172.4 737.0 L1172.7 738.8 L1172.8 739.1 L1173.2 738.8 L1173.6 736.2 L1174.0 737.1 L1174.4 737.3 L1174.8 736.4 L1175.2 736.2 L1175.6 733.3 L1176.0 735.2 L1176.4 733.9 L1176.8 734.6 L1177.2 734.1 L1177.6 733.8 L1178.0 732.1 L1178.4 733.0 L1178.8 732.6 L1179.2 730.5 L1179.6 730.4 L1180.0 731.0 L1180.4 732.5 L1180.8 732.5 L1181.2 730.0 L1181.6 730.0 L1182.0 729.5 L1182.4 730.1 L1182.8 729.3 L1183.2 728.2 L1183.6 725.6 L1184.0 726.3 L1184.4 724.5 L1184.8 725.1 L1185.2 721.9 L1185.6 723.2 L1186.0 724.5 L1186.4 724.9 L1186.5 723.7 L1186.8 722.5 L1187.2 723.0 L1187.6 721.3 L1188.0 718.8 L1188.4 717.4 L1188.5 717.6 L1188.8 718.8 L1189.2 713.1 L1189.6 708.2 L1190.0 699.9 L1190.4 693.1 L1190.8 686.3 L1191.2 679.2 L1191.5 679.0 L1191.6 678.6 L1192.0 685.2 L1192.4 691.2 L1192.8 697.6 L1193.2 698.7 L1193.3 700.0 L1193.6 698.6 L1194.0 694.9 L1194.4 692.1 L1194.8 688.6 L1195.2 690.4 L1195.6 696.5 L1196.0 701.3 L1196.4 707.5 L1196.8 709.7 L1197.0 712.0 L1197.2 712.6 L1197.6 712.0 L1198.0 713.5 L1198.4 714.9 L1198.8 715.5 L1199.2 716.5 L1199.4 714.7 L1199.6 715.1 L1200.0 715.9 L1200.4 713.5 L1200.8 712.4 L1201.2 710.4 L1201.6 709.5 L1202.0 706.7 L1202.4 706.5 L1202.8 703.4 L1203.2 702.9 L1203.6 703.7 L1203.7 703.3 L1204.0 701.2 L1204.4 703.4 L1204.8 704.3 L1205.2 705.0 L1205.6 707.5 L1206.0 710.4 L1206.4 709.2 L1206.8 711.8 L1207.2 712.1 L1207.3 714.6 L1207.6 714.7 L1208.0 712.7 L1208.4 714.8 L1208.8 717.8 L1209.2 718.2 L1209.6 722.8 L1210.0 724.4 L1210.4 726.1 L1210.8 727.9 L1211.2 730.2 L1211.6 727.7 L1212.0 727.9 L1212.4 726.6 L1212.8 727.3 L1213.2 727.9 L1213.6 727.3 L1214.0 727.3 L1214.2 726.8 L1214.4 726.5 L1214.8 726.6 L1215.2 728.1 L1215.6 727.6 L1216.0 727.0 L1216.4 729.4 L1216.8 730.4 L1217.2 730.3 L1217.6 730.9 L1218.0 733.5 L1218.4 731.8 L1218.8 734.1 L1219.2 735.6 L1219.6 734.0 L1220.0 735.0 L1220.4 736.1 L1220.8 735.6 L1221.0 734.9 L1221.2 735.5 L1221.6 735.1 L1222.0 735.7 L1222.4 735.3 L1222.8 736.5 L1223.2 735.4 L1223.6 736.4 L1224.0 736.8 L1224.4 737.3 L1224.8 735.7 L1225.2 736.4 L1225.6 736.5 L1226.0 738.1 L1226.4 737.7 L1226.8 736.7 L1227.2 737.0 L1227.6 737.3 L1228.0 736.9 L1228.4 738.4 L1228.8 735.9 L1229.2 739.4 L1229.6 739.0 L1230.0 738.3 L1230.4 737.4 L1230.8 736.4 L1231.0 738.3 L1231.2 739.2 L1231.6 738.2 L1232.0 738.6 L1232.4 737.1 L1232.8 737.7 L1233.2 736.6 L1233.6 735.6 L1234.0 734.5 L1234.4 735.1 L1234.8 735.9 L1235.2 735.7 L1235.6 735.6 L1236.0 735.3 L1236.4 735.8 L1236.8 735.8 L1237.2 735.7 L1237.6 734.7 L1238.0 735.0 L1238.4 734.1 L1238.8 733.3 L1239.2 733.9 L1239.6 732.2 L1240.0 732.6 L1240.4 731.3 L1240.8 731.6 L1241.2 733.3 L1241.6 733.7 L1241.9 732.6 L1242.0 731.8 L1242.4 730.5 L1242.8 732.4 L1243.2 733.4 L1243.6 733.1 L1244.0 733.0 L1244.4 734.1 L1244.8 733.3 L1245.2 734.5 L1245.6 734.2 L1246.0 734.3 L1246.4 736.4 L1246.8 736.0 L1247.2 735.5 L1247.6 734.0 L1248.0 735.9 L1248.4 735.7 L1248.8 736.0 L1249.2 736.5 L1249.6 734.6 L1250.0 735.8 L1250.4 735.9 L1250.8 736.1 L1251.2 736.1 L1251.6 735.5 L1252.0 736.6 L1252.4 734.9 L1252.8 737.7 L1253.2 736.4 L1253.6 736.2 L1254.0 734.9 L1254.4 735.0 L1254.8 735.2 L1255.2 736.6 L1255.6 736.6 L1256.0 736.7 L1256.4 736.0 L1256.7 736.1 L1256.8 734.4 L1257.2 735.3 L1257.6 736.4 L1258.0 735.4 L1258.4 736.5 L1258.8 735.7 L1259.2 736.8 L1259.6 737.2 L1260.0 733.6 L1260.4 735.6 L1260.8 737.8 L1261.2 737.7 L1261.6 736.7 L1262.0 737.3 L1262.4 738.2 L1262.8 739.0 L1263.2 739.1 L1263.6 737.5 L1264.0 737.7 L1264.4 737.4 L1264.8 738.1 L1265.2 739.3 L1265.6 738.9 L1266.0 738.7 L1266.4 738.6 L1266.8 740.6 L1267.2 739.2 L1267.6 738.5 L1268.0 739.3 L1268.4 738.8 L1268.8 738.6 L1269.2 738.4 L1269.6 736.1 L1270.0 736.8 L1270.4 737.3 L1270.8 735.5 L1271.2 735.2 L1271.6 734.0 L1272.0 733.1 L1272.4 734.7 L1272.8 734.2 L1273.2 732.9 L1273.6 734.3 L1274.0 735.8 L1274.4 734.7 L1274.8 734.1 L1275.2 732.9 L1275.6 734.2 L1276.0 733.5 L1276.4 730.9 L1276.8 731.5 L1277.2 732.5 L1277.6 730.8 L1278.0 728.2 L1278.4 730.5 L1278.7 730.6 L1278.8 730.8 L1279.2 730.6 L1279.6 731.6 L1280.0 731.6 L1280.4 733.1 L1280.8 731.8 L1281.2 732.4 L1281.6 732.5 L1282.0 732.0 L1282.4 733.3 L1282.8 733.4 L1283.2 732.3 L1283.6 736.3 L1284.0 734.9 L1284.4 735.4 L1284.8 735.2 L1285.2 735.0 L1285.6 735.4 L1286.0 736.2 L1286.2 735.9 L1286.4 734.7 L1286.8 735.7 L1287.2 735.6 L1287.6 734.3 L1288.0 734.9 L1288.4 734.6 L1288.8 733.8 L1289.2 733.9 L1289.6 732.6 L1290.0 732.0 L1290.4 732.0 L1290.8 731.3 L1291.2 734.2 L1291.6 732.2 L1292.0 731.2 L1292.4 729.8 L1292.8 731.7 L1293.2 731.8 L1293.6 729.5 L1294.0 730.5 L1294.4 732.0 L1294.8 731.0 L1295.2 731.6 L1295.6 729.0 L1296.0 728.5 L1296.4 727.9 L1296.8 727.6 L1297.0 727.4 L1297.2 728.4 L1297.6 729.6 L1298.0 727.2 L1298.4 726.7 L1298.8 723.6 L1299.2 725.2 L1299.6 723.5 L1300.0 722.4 L1300.4 721.5 L1300.8 724.1 L1301.2 724.6 L1301.6 724.5 L1302.0 725.5 L1302.4 727.3 L1302.8 727.5 L1303.2 727.8 L1303.6 729.4 L1304.0 731.8 L1304.4 729.7 L1304.8 731.6 L1305.2 731.9 L1305.6 731.5 L1306.0 734.7 L1306.4 736.4 L1306.8 735.3 L1307.0 734.7 L1307.2 735.3 L1307.6 734.1 L1308.0 729.6 L1308.4 730.7 L1308.8 728.5 L1309.2 726.9 L1309.6 726.2 L1310.0 725.2 L1310.4 725.3 L1310.8 723.4 L1311.2 722.4 L1311.6 721.7 L1312.0 720.3 L1312.4 721.2 L1312.8 720.6 L1312.9 719.4 L1313.2 720.0 L1313.6 719.0 L1314.0 717.7 L1314.4 718.8 L1314.8 718.5 L1315.2 719.3 L1315.6 718.2 L1316.0 718.0 L1316.4 717.7 L1316.8 717.5 L1317.2 715.4 L1317.6 713.1 L1318.0 711.6 L1318.4 706.9 L1318.8 703.5 L1319.2 703.3 L1319.6 702.9 L1320.0 700.4 L1320.2 700.6 L1320.4 702.1 L1320.8 702.1 L1321.2 705.2 L1321.6 707.4 L1322.0 710.5 L1322.4 714.3 L1322.8 715.5 L1323.2 719.9 L1323.6 720.3 L1324.0 721.5 L1324.4 720.9 L1324.8 722.5 L1325.2 724.6 L1325.6 726.7 L1326.0 728.1 L1326.4 728.4 L1326.8 729.0 L1327.2 729.4 L1327.3 728.4 L1327.6 732.1 L1328.0 730.0 L1328.4 729.0 L1328.8 726.0 L1329.2 723.8 L1329.6 721.9 L1330.0 719.9 L1330.4 716.6 L1330.8 716.7 L1331.2 716.1 L1331.5 714.5 L1331.6 716.6 L1332.0 714.6 L1332.4 714.9 L1332.8 711.9 L1333.2 709.3 L1333.6 706.9 L1334.0 704.5 L1334.4 702.6 L1334.8 699.5 L1335.2 699.9 L1335.6 698.2 L1336.0 698.4 L1336.4 700.6 L1336.8 699.9 L1337.2 703.4 L1337.6 704.8 L1338.0 706.9 L1338.4 708.3 L1338.8 709.6 L1339.2 711.3 L1339.6 711.8 L1340.0 710.7 L1340.4 712.7 L1340.8 714.6 L1341.2 715.5 L1341.6 718.5 L1342.0 719.9 L1342.4 723.9 L1342.8 724.7 L1343.2 725.7 L1343.6 726.8 L1344.0 725.9 L1344.4 726.5 L1344.8 727.0 L1345.2 729.9 L1345.6 730.9 L1346.0 731.6 L1346.4 730.8 L1346.8 731.8 L1347.2 733.8 L1347.5 735.9 L1347.6 735.1 L1348.0 734.7 L1348.4 732.8 L1348.8 734.0 L1349.2 733.1 L1349.6 734.2 L1350.0 736.2 L1350.4 736.1 L1350.8 734.2 L1351.2 735.3 L1351.6 736.1 L1352.0 735.1 L1352.4 737.2 L1352.8 735.6 L1353.2 736.9 L1353.6 737.3 L1354.0 736.6 L1354.4 735.1 L1354.8 736.8 L1355.0 737.6 L1355.2 736.1 L1355.6 735.4 L1356.0 736.8 L1356.4 736.9 L1356.8 736.3 L1357.2 737.7 L1357.6 738.2 L1358.0 738.9 L1358.4 737.0 L1358.8 737.6 L1359.2 737.3 L1359.6 737.6 L1360.0 738.6 L1360.4 737.8 L1360.8 737.2 L1361.2 739.8 L1361.6 736.1 L1362.0 737.3 L1362.4 738.9 L1362.8 737.4 L1363.2 740.0 L1363.3 738.2 L1363.6 739.2 L1364.0 738.5 L1364.4 736.9 L1364.8 737.9 L1365.2 740.2 L1365.6 737.5 L1366.0 737.7 L1366.4 736.4 L1366.8 739.0 L1367.2 738.1 L1367.6 737.5 L1368.0 738.1 L1368.4 738.1 L1368.8 737.5 L1369.2 738.9 L1369.6 735.2 L1370.0 736.9 L1370.4 737.2 L1370.8 736.4 L1371.2 736.8 L1371.6 737.6 L1372.0 736.1 L1372.4 737.1 L1372.8 737.5 L1373.2 734.9 L1373.6 735.8 L1374.0 736.3 L1374.4 738.1 L1374.8 737.3 L1375.0 734.7 L1375.2 737.0 L1375.6 733.9 L1376.0 735.8 L1376.4 737.2 L1376.8 735.3 L1377.2 735.8 L1377.6 734.9 L1378.0 733.9 L1378.4 734.8 L1378.8 735.4 L1379.2 733.5 L1379.6 735.0 L1380.0 734.1 L1380.4 732.1 L1380.8 733.5 L1381.2 734.4 L1381.6 733.9 L1382.0 735.8 L1382.4 734.6 L1382.8 734.0 L1383.2 733.3 L1383.6 735.3 L1384.0 735.5 L1384.4 735.2 L1384.8 734.2 L1385.0 734.0 L1385.2 734.0 L1385.6 735.5 L1386.0 734.7 L1386.4 734.3 L1386.8 734.0 L1387.2 732.9 L1387.6 734.8 L1388.0 732.5 L1388.4 735.4 L1388.8 736.2 L1389.2 737.0 L1389.6 735.8 L1390.0 736.0 L1390.4 735.6 L1390.8 736.7 L1391.2 736.9 L1391.6 737.4 L1392.0 737.3 L1392.4 737.3 L1392.8 736.7 L1393.2 737.1 L1393.6 737.9 L1394.0 736.9 L1394.4 736.8 L1394.8 738.5 L1395.2 737.2 L1395.6 738.6 L1396.0 738.2 L1396.4 736.9 L1396.8 739.7 L1397.2 737.6 L1397.6 739.7 L1398.0 738.5"/>
<path stroke="#0868AC" d="M8.0 929.3 L8.4 930.3 L8.8 928.2 L9.2 929.9 L9.6 928.8 L10.0 928.8 L10.4 930.9 L10.8 929.7 L11.2 929.8 L11.6 930.4 L12.0 931.0 L12.4 930.2 L12.8 931.0 L13.2 929.8 L13.6 930.4 L14.0 930.4 L14.4 929.5 L14.8 929.1 L15.2 929.1 L15.6 930.5 L16.0 930.8 L16.4 931.1 L16.8 931.7 L17.2 930.7 L17.6 931.9 L18.0 932.3 L18.4 933.0 L18.8 931.7 L19.2 932.2 L19.6 930.8 L19.8 932.0 L20.0 930.3 L20.4 931.1 L20.8 933.4 L21.2 930.5 L21.6 933.2 L22.0 932.8 L22.4 932.2 L22.8 932.9 L23.2 932.8 L23.6 933.2 L24.0 932.0 L24.4 931.7 L24.8 931.8 L25.2 931.3 L25.6 932.2 L26.0 931.4 L26.4 933.1 L26.8 930.4 L27.2 931.1 L27.6 931.3 L28.0 930.1 L28.4 933.4 L28.8 929.4 L29.2 931.3 L29.6 931.1 L30.0 932.9 L30.4 929.5 L30.8 932.1 L31.2 930.4 L31.6 930.8 L32.0 930.6 L32.4 932.0 L32.8 930.2 L33.2 931.1 L33.6 931.8 L34.0 933.3 L34.4 929.6 L34.8 933.2 L35.2 932.9 L35.6 931.6 L36.0 932.3 L36.4 931.9 L36.8 934.0 L37.2 932.9 L37.6 932.8 L38.0 932.9 L38.4 933.1 L38.8 933.3 L39.2 932.7 L39.6 935.4 L40.0 932.1 L40.4 930.6 L40.8 933.5 L41.2 933.4 L41.5 934.1 L41.6 933.7 L42.0 933.9 L42.4 934.5 L42.8 935.5 L43.2 934.3 L43.6 934.5 L44.0 936.8 L44.4 935.7 L44.8 934.4 L45.2 937.4 L45.6 936.2 L46.0 935.2 L46.4 934.6 L46.8 936.0 L47.2 935.3 L47.6 935.2 L48.0 935.4 L48.4 936.2 L48.8 937.9 L49.2 936.7 L49.6 936.0 L50.0 938.1 L50.4 938.2 L50.8 939.0 L51.2 939.4 L51.6 938.2 L52.0 938.7 L52.4 939.2 L52.8 938.3 L53.2 939.9 L53.4 940.9 L53.6 939.6 L54.0 939.3 L54.4 939.3 L54.8 938.8 L55.2 938.7 L55.6 938.7 L56.0 938.4 L56.4 938.8 L56.8 937.5 L57.2 939.3 L57.6 939.2 L58.0 938.5 L58.4 937.4 L58.8 939.6 L59.2 940.9 L59.6 939.3 L60.0 939.7 L60.4 939.8 L60.8 941.1 L61.2 939.6 L61.6 941.4 L62.0 940.4 L62.4 941.3 L62.8 940.5 L63.2 940.5 L63.6 939.4 L64.0 940.3 L64.4 940.7 L64.8 941.7 L65.2 941.6 L65.6 941.0 L66.0 942.2 L66.4 943.0 L66.8 941.9 L67.2 941.5 L67.6 941.3 L68.0 942.5 L68.4 942.5 L68.8 941.1 L69.2 942.0 L69.6 941.4 L70.0 941.2 L70.4 943.0 L70.8 942.8 L71.2 941.6 L71.6 942.0 L72.0 941.9 L72.4 940.7 L72.8 941.5 L73.2 942.1 L73.6 939.8 L74.0 941.8 L74.4 942.1 L74.8 942.0 L75.2 940.5 L75.6 942.4 L76.0 941.3 L76.4 942.5 L76.8 942.8 L77.2 942.8 L77.6 941.9 L78.0 942.1 L78.4 943.5 L78.8 942.2 L79.2 943.4 L79.6 943.7 L80.0 943.3 L80.4 945.8 L80.8 943.5 L81.2 945.4 L81.6 941.7 L82.0 941.4 L82.4 944.6 L82.8 944.5 L83.2 943.5 L83.6 943.6 L84.0 941.7 L84.4 943.3 L84.8 943.1 L85.2 944.1 L85.6 945.4 L86.0 944.5 L86.4 944.9 L86.8 943.8 L87.0 943.9 L87.2 944.7 L87.6 944.0 L88.0 945.2 L88.4 943.1 L88.8 945.4 L89.2 942.5 L89.6 944.1 L90.0 942.6 L90.4 944.6 L90.8 943.1 L91.2 943.4 L91.5 943.8 L91.6 942.8 L92.0 942.0 L92.4 940.5 L92.8 942.6 L93.2 939.4 L93.6 938.1 L94.0 937.0 L94.4 937.2 L94.8 932.7 L95.2 933.3 L95.6 932.3 L95.9 933.1 L96.0 930.9 L96.4 932.6 L96.8 934.4 L97.2 936.3 L97.6 938.4 L98.0 937.8 L98.4 940.7 L98.8 942.0 L99.2 942.0 L99.6 942.5 L100.0 944.6 L100.4 944.4 L100.8 944.2 L101.2 945.3 L101.6 943.8 L102.0 945.2 L102.4 944.6 L102.8 944.6 L103.2 945.3 L103.6 944.9 L104.0 945.2 L104.4 945.3 L104.8 947.0 L105.2 944.9 L105.6 946.3 L106.0 946.1 L106.4 945.1 L106.8 946.4 L107.2 945.2 L107.6 946.7 L108.0 944.9 L108.4 945.2 L108.8 946.0 L109.2 946.4 L109.6 946.8 L110.0 947.1 L110.4 946.3 L110.8 945.8 L111.2 947.8 L111.6 947.8 L112.0 946.9 L112.4 948.8 L112.8 948.5 L113.2 947.5 L113.6 948.7 L114.0 947.1 L114.4 947.5 L114.8 948.6 L115.2 946.7 L115.6 948.3 L116.0 947.4 L116.4 949.2 L116.8 948.2 L117.2 949.2 L117.6 947.6 L118.0 948.8 L118.4 950.2 L118.6 949.8 L118.8 947.6 L119.2 950.1 L119.6 950.1 L120.0 948.8 L120.4 950.2 L120.8 948.1 L121.2 948.8 L121.6 949.6 L122.0 950.1 L122.4 950.0 L122.8 947.6 L123.2 947.3 L123.6 949.4 L124.0 948.1 L124.4 949.3 L124.8 948.6 L125.2 950.9 L125.5 950.4 L125.6 950.5 L126.0 949.8 L126.4 949.0 L126.8 947.8 L127.2 947.2 L127.6 946.1 L128.0 945.3 L128.4 944.0 L128.8 946.0 L128.9 944.5 L129.2 945.8 L129.6 946.6 L130.0 945.6 L130.4 946.2 L130.8 949.8 L131.2 949.3 L131.6 950.1 L132.0 950.0 L132.4 950.2 L132.8 948.9 L133.2 949.6 L133.6 949.4 L134.0 949.9 L134.4 948.0 L134.8 951.0 L135.2 950.7 L135.6 948.9 L136.0 949.8 L136.4 950.5 L136.8 951.0 L137.2 950.3 L137.6 951.6 L138.0 950.4 L138.4 949.2 L138.8 949.2 L139.2 950.4 L139.6 949.4 L140.0 950.8 L140.4 951.1 L140.8 950.8 L141.2 951.2 L141.6 950.0 L142.0 950.3 L142.4 949.9 L142.8 949.8 L143.2 948.9 L143.6 950.0 L144.0 949.5 L144.4 949.3 L144.8 950.9 L145.2 951.3 L145.6 951.0 L146.0 952.4 L146.4 952.4 L146.8 952.2 L147.2 950.6 L147.6 949.6 L148.0 951.2 L148.4 950.8 L148.8 951.2 L149.2 950.8 L149.6 951.7 L150.0 950.2 L150.4 951.4 L150.8 950.0 L151.2 948.6 L151.6 950.0 L152.0 951.7 L152.4 948.9 L152.8 951.5 L153.2 950.0 L153.6 950.1 L154.0 950.6 L154.4 950.9 L154.8 949.9 L155.2 951.3 L155.6 951.7 L156.0 951.9 L156.4 950.3 L156.8 952.4 L157.2 952.9 L157.6 953.4 L158.0 949.8 L158.1 951.3 L158.4 949.5 L158.8 951.7 L159.2 952.1 L159.6 950.6 L160.0 950.0 L160.4 951.4 L160.8 951.8 L161.2 950.5 L161.6 951.2 L162.0 948.9 L162.4 950.1 L162.8 950.6 L163.2 950.4 L163.6 951.8 L164.0 949.3 L164.4 948.2 L164.8 950.7 L165.2 949.4 L165.6 950.2 L166.0 950.8 L166.4 950.5 L166.8 951.3 L167.0 951.1 L167.2 948.3 L167.6 949.4 L168.0 951.0 L168.4 948.7 L168.8 949.9 L169.2 948.9 L169.6 948.6 L170.0 950.1 L170.4 949.6 L170.8 948.5 L171.2 949.5 L171.6 947.2 L172.0 947.8 L172.4 949.1 L172.8 948.1 L173.2 947.0 L173.6 948.5 L174.0 948.1 L174.4 949.1 L174.8 948.6 L175.2 947.7 L175.6 947.3 L175.9 947.9 L176.0 947.8 L176.4 949.5 L176.8 949.7 L177.2 949.7 L177.6 948.7 L178.0 948.4 L178.4 949.7 L178.8 949.0 L179.2 949.3 L179.6 948.0 L180.0 949.0 L180.4 950.9 L180.8 948.6 L181.2 948.6 L181.6 950.3 L182.0 952.3 L182.4 952.4 L182.8 951.4 L183.2 951.2 L183.6 952.0 L184.0 951.8 L184.4 953.1 L184.8 953.0 L185.2 951.7 L185.6 952.5 L185.8 952.9 L186.0 952.3 L186.4 952.2 L186.8 954.1 L187.2 954.8 L187.6 952.9 L188.0 952.9 L188.4 953.7 L188.8 953.3 L189.2 952.8 L189.6 954.7 L190.0 952.8 L190.4 953.0 L190.8 953.1 L191.2 953.0 L191.6 953.5 L192.0 954.5 L192.4 955.1 L192.8 954.4 L193.2 954.0 L193.6 952.4 L194.0 953.6 L194.4 953.0 L194.8 953.9 L195.2 954.9 L195.6 954.1 L196.0 953.6 L196.4 953.2 L196.8 953.9 L197.2 954.2 L197.6 953.3 L198.0 953.6 L198.4 954.9 L198.8 952.6 L199.2 953.9 L199.6 953.4 L200.0 956.2 L200.4 955.3 L200.8 955.2 L201.2 954.9 L201.6 954.7 L202.0 954.7 L202.4 953.3 L202.8 954.8 L203.2 955.2 L203.6 952.8 L204.0 955.0 L204.4 954.2 L204.8 951.0 L205.2 949.4 L205.6 946.9 L206.0 943.7 L206.4 942.2 L206.8 939.6 L207.0 940.5 L207.2 940.9 L207.6 941.6 L208.0 940.9 L208.4 940.7 L208.8 941.4 L209.2 939.1 L209.6 942.2 L210.0 940.9 L210.4 940.5 L210.8 942.7 L211.2 943.5 L211.6 945.2 L212.0 948.7 L212.4 950.1 L212.8 952.6 L213.0 951.0 L213.2 950.5 L213.6 951.7 L214.0 954.5 L214.4 953.4 L214.8 952.5 L215.2 951.5 L215.6 950.5 L216.0 950.7 L216.4 951.1 L216.8 950.7 L217.2 949.0 L217.6 946.8 L218.0 944.8 L218.4 944.1 L218.8 943.2 L219.2 945.5 L219.6 948.3 L220.0 949.3 L220.4 951.7 L220.8 951.4 L221.2 954.0 L221.3 953.4 L221.6 953.4 L222.0 953.9 L222.4 952.0 L222.8 954.0 L223.2 953.9 L223.3 956.4 L223.6 954.7 L224.0 954.8 L224.4 956.2 L224.8 954.5 L225.2 956.9 L225.6 954.8 L226.0 955.3 L226.4 954.6 L226.8 956.1 L227.2 953.4 L227.6 955.8 L228.0 954.3 L228.4 955.1 L228.8 953.7 L229.2 955.0 L229.6 954.9 L230.0 955.3 L230.4 955.1 L230.8 955.4 L231.2 955.6 L231.6 954.3 L232.0 953.7 L232.4 954.0 L232.8 955.8 L233.2 954.7 L233.6 956.2 L234.0 955.4 L234.4 954.3 L234.8 955.9 L235.2 957.2 L235.6 955.5 L236.0 954.6 L236.4 954.7 L236.8 956.4 L237.2 955.0 L237.6 955.0 L238.0 955.9 L238.4 955.4 L238.8 955.3 L239.2 954.2 L239.6 953.8 L240.0 954.6 L240.4 954.4 L240.8 954.3 L241.0 953.4 L241.2 954.3 L241.6 954.2 L242.0 953.4 L242.4 953.6 L242.8 953.6 L243.2 952.4 L243.6 952.0 L244.0 951.3 L244.4 952.5 L244.5 952.1 L244.8 951.8 L245.2 951.8 L245.6 953.5 L246.0 955.9 L246.4 954.7 L246.8 955.0 L247.2 955.9 L247.6 955.0 L248.0 955.5 L248.4 955.0 L248.8 954.9 L249.2 955.6 L249.6 955.4 L250.0 954.9 L250.4 954.1 L250.8 954.8 L251.2 953.3 L251.5 955.0 L251.6 954.2 L252.0 954.1 L252.4 953.7 L252.8 952.4 L253.2 949.6 L253.6 949.8 L254.0 950.1 L254.4 948.5 L254.8 945.0 L255.2 941.5 L255.6 936.0 L256.0 930.0 L256.4 923.5 L256.8 917.3 L257.2 912.2 L257.6 908.7 L257.9 906.1 L258.0 906.7 L258.4 909.6 L258.8 914.7 L259.2 919.6 L259.6 926.1 L260.0 931.2 L260.4 938.1 L260.8 943.3 L261.2 947.4 L261.6 950.8 L262.0 951.4 L262.4 951.5 L262.8 951.2 L263.2 953.4 L263.6 952.9 L264.0 953.5 L264.4 952.9 L264.8 955.2 L265.0 954.6 L265.2 953.9 L265.6 953.9 L266.0 952.8 L266.4 955.4 L266.8 954.3 L267.2 956.3 L267.6 955.1 L268.0 955.2 L268.4 956.2 L268.8 956.1 L269.2 955.0 L269.6 955.9 L270.0 956.3 L270.4 955.4 L270.8 954.2 L271.2 955.3 L271.6 954.5 L272.0 955.1 L272.4 955.5 L272.8 955.6 L273.2 955.7 L273.6 954.7 L274.0 956.6 L274.4 956.3 L274.8 956.3 L275.2 956.9 L275.6 958.4 L276.0 955.9 L276.4 955.9 L276.8 957.9 L277.2 956.4 L277.6 958.3 L278.0 956.2 L278.4 956.5 L278.8 957.5 L279.2 957.4 L279.6 956.8 L280.0 956.6 L280.4 956.0 L280.8 955.6 L281.2 955.7 L281.6 957.0 L282.0 956.4 L282.4 955.9 L282.8 956.0 L283.0 956.2 L283.2 956.4 L283.6 954.8 L284.0 954.7 L284.4 954.9 L284.8 956.7 L285.2 954.0 L285.6 954.7 L286.0 951.8 L286.4 953.8 L286.8 951.5 L287.2 951.8 L287.6 951.9 L288.0 952.0 L288.4 951.6 L288.8 949.6 L289.2 945.8 L289.6 940.6 L290.0 936.1 L290.4 928.5 L290.8 921.8 L291.2 915.6 L291.6 908.2 L292.0 901.5 L292.4 895.6 L292.8 890.9 L293.2 895.1 L293.6 902.1 L294.0 910.6 L294.4 917.9 L294.8 926.5 L295.2 934.7 L295.6 939.9 L296.0 944.2 L296.4 946.3 L296.5 945.6 L296.8 946.3 L297.2 946.2 L297.6 946.8 L298.0 949.2 L298.4 950.6 L298.8 951.4 L299.2 951.6 L299.3 953.2 L299.6 953.5 L300.0 952.6 L300.4 951.2 L300.8 949.2 L301.2 948.2 L301.6 947.1 L302.0 947.2 L302.4 946.9 L302.8 946.2 L303.2 945.1 L303.6 945.2 L304.0 946.0 L304.4 946.7 L304.8 948.0 L305.2 949.5 L305.6 948.7 L306.0 952.5 L306.4 949.7 L306.8 951.1 L307.2 951.9 L307.6 953.1 L308.0 954.1 L308.2 956.2 L308.4 954.1 L308.8 955.5 L309.2 953.9 L309.6 954.1 L310.0 952.1 L310.4 954.0 L310.8 950.7 L311.2 949.3 L311.6 950.7 L312.0 947.9 L312.4 947.2 L312.8 945.7 L313.2 944.2 L313.6 943.2 L314.0 944.0 L314.4 945.3 L314.8 943.9 L315.1 943.3 L315.2 944.1 L315.6 942.3 L316.0 944.5 L316.4 944.0 L316.8 944.1 L317.2 946.3 L317.6 947.5 L318.0 948.0 L318.4 949.9 L318.8 951.5 L319.2 952.7 L319.6 951.4 L320.0 950.2 L320.4 954.5 L320.8 952.8 L321.2 952.9 L321.6 954.1 L322.0 953.8 L322.4 955.7 L322.8 953.7 L323.0 954.5 L323.2 953.5 L323.6 955.7 L324.0 953.8 L324.4 954.3 L324.8 953.6 L325.2 950.1 L325.6 950.4 L326.0 950.7 L326.4 949.9 L326.5 949.7 L326.8 950.2 L327.2 948.8 L327.6 945.2 L328.0 943.0 L328.4 940.8 L328.8 937.2 L329.2 934.4 L329.6 931.2 L330.0 932.4 L330.3 930.3 L330.4 930.6 L330.8 931.3 L331.2 932.4 L331.6 934.8 L332.0 936.4 L332.4 940.6 L332.8 944.3 L333.2 946.6 L333.6 949.3 L334.0 951.4 L334.4 952.2 L334.8 954.6 L334.9 952.3 L335.2 953.2 L335.6 953.6 L336.0 952.5 L336.4 950.8 L336.8 950.7 L337.2 952.4 L337.6 949.7 L338.0 950.2 L338.4 950.0 L338.8 949.0 L339.2 946.5 L339.6 946.1 L340.0 947.2 L340.4 945.8 L340.8 946.1 L341.2 945.9 L341.6 945.6 L341.8 944.0 L342.0 943.6 L342.4 946.1 L342.8 944.7 L343.2 944.4 L343.6 944.1 L344.0 946.6 L344.4 945.7 L344.8 946.1 L345.2 948.4 L345.6 948.6 L346.0 949.2 L346.4 947.8 L346.8 946.7 L347.2 948.8 L347.6 949.7 L348.0 949.4 L348.4 951.1 L348.7 950.6 L348.8 949.4 L349.2 950.4 L349.6 948.8 L350.0 947.1 L350.4 947.1 L350.8 944.0 L351.0 946.2 L351.2 946.0 L351.6 941.8 L352.0 941.2 L352.4 938.2 L352.8 934.5 L353.2 932.9 L353.6 932.1 L354.0 933.3 L354.4 934.4 L354.8 935.4 L355.2 940.3 L355.6 940.9 L355.7 939.3 L356.0 940.3 L356.4 938.7 L356.8 931.3 L357.2 928.1 L357.6 924.9 L358.0 924.6 L358.4 924.2 L358.8 924.8 L359.2 929.7 L359.6 931.1 L360.0 935.3 L360.4 940.0 L360.8 940.7 L361.2 944.1 L361.6 947.8 L362.0 949.0 L362.4 950.3 L362.5 949.9 L362.8 952.2 L363.2 949.6 L363.6 948.3 L364.0 946.9 L364.4 946.7 L364.5 944.8 L364.8 945.5 L365.2 945.3 L365.6 941.5 L366.0 940.1 L366.4 937.2 L366.8 934.3 L367.2 935.2 L367.6 932.3 L367.9 931.5 L368.0 930.6 L368.4 932.0 L368.8 933.1 L369.2 935.6 L369.6 938.4 L370.0 943.3 L370.4 944.9 L370.8 947.8 L371.2 949.5 L371.6 952.2 L372.0 949.5 L372.4 949.0 L372.8 950.7 L373.2 951.2 L373.6 951.6 L374.0 951.5 L374.4 952.9 L374.8 954.0 L375.2 952.6 L375.6 952.2 L376.0 953.5 L376.4 952.2 L376.8 952.5 L377.2 953.2 L377.6 950.8 L378.0 954.6 L378.3 952.7 L378.4 953.4 L378.8 952.6 L379.2 951.6 L379.6 948.5 L380.0 949.9 L380.4 948.4 L380.5 948.2 L380.8 950.3 L381.2 944.7 L381.6 943.5 L382.0 939.2 L382.4 933.6 L382.8 932.8 L383.2 926.3 L383.6 924.7 L384.0 922.8 L384.3 922.4 L384.4 921.5 L384.8 924.8 L385.2 925.9 L385.6 927.8 L386.0 931.4 L386.4 936.5 L386.8 939.0 L387.2 943.8 L387.6 946.3 L388.0 946.7 L388.2 945.7 L388.4 946.7 L388.8 949.1 L389.2 949.5 L389.6 952.4 L389.7 950.5 L390.0 951.1 L390.4 951.2 L390.8 950.6 L391.2 950.5 L391.6 950.8 L392.0 949.5 L392.4 949.8 L392.8 949.0 L393.2 950.7 L393.6 948.8 L394.0 949.1 L394.4 945.6 L394.8 947.9 L395.1 947.2 L395.2 948.2 L395.6 946.9 L396.0 944.7 L396.4 944.1 L396.8 944.3 L397.0 944.7 L397.2 943.3 L397.6 943.1 L398.0 939.0 L398.4 936.4 L398.8 931.3 L399.2 929.2 L399.6 926.7 L400.0 921.8 L400.4 921.8 L400.5 919.1 L400.8 920.7 L401.2 925.4 L401.6 925.8 L402.0 929.4 L402.4 931.1 L402.8 936.7 L403.2 940.1 L403.6 945.5 L404.0 946.6 L404.4 951.4 L404.8 949.1 L405.0 950.4 L405.2 948.4 L405.6 950.9 L406.0 953.5 L406.4 953.4 L406.8 953.2 L407.0 954.8 L407.2 955.2 L407.6 954.8 L408.0 955.0 L408.4 952.6 L408.8 955.1 L409.2 953.8 L409.6 951.0 L410.0 953.9 L410.4 951.6 L410.8 952.1 L411.2 949.6 L411.6 950.7 L412.0 949.2 L412.4 951.5 L412.8 950.8 L412.9 950.2 L413.2 950.4 L413.6 949.8 L414.0 946.0 L414.4 946.0 L414.5 944.4 L414.8 943.9 L415.2 943.0 L415.6 939.6 L416.0 935.9 L416.4 931.7 L416.8 925.2 L417.2 920.6 L417.6 917.7 L418.0 914.3 L418.4 912.0 L418.5 912.1 L418.8 910.9 L419.2 914.3 L419.6 916.2 L420.0 920.9 L420.4 925.7 L420.8 927.0 L421.2 933.5 L421.6 935.9 L422.0 939.6 L422.4 942.6 L422.8 946.5 L423.2 947.1 L423.6 946.7 L423.8 949.1 L424.0 948.6 L424.4 947.3 L424.8 944.3 L425.2 939.5 L425.6 934.9 L426.0 929.2 L426.4 923.1 L426.8 917.3 L427.2 911.9 L427.6 906.8 L428.0 903.2 L428.3 901.6 L428.4 901.1 L428.8 904.4 L429.2 907.3 L429.6 911.3 L430.0 916.1 L430.4 921.2 L430.8 926.9 L431.2 931.1 L431.6 936.4 L432.0 940.6 L432.4 944.0 L432.8 945.4 L433.2 948.8 L433.6 949.7 L433.7 949.3 L434.0 949.6 L434.4 949.4 L434.8 946.7 L435.2 944.8 L435.6 942.9 L436.0 938.5 L436.4 935.5 L436.8 932.4 L437.2 929.1 L437.6 925.6 L438.0 921.8 L438.4 919.3 L438.8 915.5 L439.2 912.1 L439.6 910.6 L440.0 909.4 L440.2 908.7 L440.4 907.6 L440.8 911.6 L441.2 913.3 L441.6 916.8 L442.0 922.1 L442.4 924.8 L442.8 928.8 L443.2 933.8 L443.6 937.1 L444.0 943.3 L444.4 945.3 L444.8 947.5 L445.2 947.5 L445.5 947.9 L445.6 948.6 L446.0 947.0 L446.4 951.0 L446.8 950.5 L447.2 952.8 L447.5 953.3 L447.6 952.1 L448.0 952.8 L448.4 952.5 L448.8 953.4 L449.2 951.4 L449.6 951.7 L450.0 949.6 L450.4 947.9 L450.8 947.7 L451.2 945.3 L451.6 945.0 L452.0 944.6 L452.4 944.0 L452.8 942.2 L453.2 939.8 L453.6 941.7 L454.0 940.0 L454.4 939.2 L454.8 938.8 L455.2 939.9 L455.4 939.4 L455.6 939.6 L456.0 937.9 L456.4 938.4 L456.5 936.6 L456.8 936.7 L457.2 935.3 L457.6 933.5 L458.0 929.0 L458.4 925.9 L458.8 922.0 L459.2 918.1 L459.6 915.1 L460.0 912.1 L460.4 912.2 L460.8 911.8 L461.2 910.9 L461.6 914.5 L462.0 915.8 L462.4 919.8 L462.8 924.5 L463.2 929.1 L463.6 933.6 L464.0 935.4 L464.4 939.3 L464.8 943.1 L465.2 944.3 L465.5 946.7 L465.6 944.7 L466.0 944.9 L466.4 947.9 L466.8 945.4 L467.2 946.7 L467.3 950.9 L467.6 947.8 L468.0 948.4 L468.4 948.3 L468.8 947.7 L469.2 948.3 L469.6 947.3 L470.0 949.4 L470.4 949.5 L470.8 949.4 L471.2 948.2 L471.6 947.3 L472.0 948.9 L472.4 948.5 L472.8 949.9 L473.2 947.9 L473.6 948.7 L474.0 949.9 L474.4 950.2 L474.8 949.5 L475.2 948.4 L475.6 948.0 L476.0 948.3 L476.4 944.2 L476.8 938.7 L477.2 936.5 L477.6 929.7 L478.0 925.0 L478.4 920.5 L478.8 919.2 L479.2 915.6 L479.5 914.3 L479.6 913.6 L480.0 914.5 L480.4 918.2 L480.8 921.1 L481.2 926.3 L481.6 928.1 L482.0 932.1 L482.4 936.9 L482.8 939.5 L483.2 939.5 L483.5 941.6 L483.6 940.9 L484.0 942.2 L484.4 942.9 L484.8 944.9 L485.1 944.2 L485.2 944.2 L485.6 944.7 L486.0 943.7 L486.4 942.8 L486.8 942.0 L487.2 939.7 L487.6 938.7 L488.0 935.2 L488.4 935.7 L488.8 936.7 L489.0 935.4 L489.2 935.7 L489.6 934.9 L490.0 932.0 L490.4 929.2 L490.8 924.4 L491.2 919.0 L491.6 915.3 L492.0 909.2 L492.4 904.3 L492.8 901.8 L493.2 899.4 L493.6 897.0 L494.0 899.3 L494.4 903.2 L494.8 907.8 L495.2 913.0 L495.6 918.7 L496.0 923.3 L496.4 928.4 L496.8 932.3 L497.2 938.0 L497.6 941.1 L498.0 942.9 L498.4 943.5 L498.5 942.8 L498.8 944.5 L499.2 943.9 L499.6 947.4 L500.0 947.8 L500.4 949.6 L500.8 948.9 L500.9 950.0 L501.2 947.6 L501.6 950.0 L502.0 948.3 L502.4 946.7 L502.8 946.9 L503.2 945.9 L503.6 946.3 L504.0 945.0 L504.4 944.4 L504.8 945.2 L505.0 945.3 L505.2 945.6 L505.6 945.9 L506.0 945.4 L506.4 943.7 L506.8 943.4 L507.2 938.4 L507.6 939.6 L508.0 939.2 L508.4 936.4 L508.8 937.2 L508.9 937.4 L509.2 936.1 L509.6 937.5 L510.0 939.9 L510.4 940.4 L510.8 943.5 L511.2 946.1 L511.6 945.8 L512.0 946.4 L512.4 949.1 L512.8 949.6 L513.2 949.6 L513.4 950.3 L513.6 950.0 L514.0 949.6 L514.4 949.6 L514.8 948.0 L515.2 945.6 L515.6 942.8 L516.0 941.2 L516.4 938.8 L516.8 937.3 L517.2 935.3 L517.6 932.9 L517.8 936.3 L518.0 935.1 L518.4 935.7 L518.8 936.7 L519.2 938.1 L519.6 939.1 L520.0 942.0 L520.4 941.4 L520.8 941.5 L521.2 939.4 L521.6 934.6 L522.0 927.4 L522.4 918.5 L522.8 910.0 L523.2 902.1 L523.6 897.4 L523.7 896.0 L524.0 896.6 L524.4 897.6 L524.8 900.5 L525.2 903.7 L525.6 905.6 L526.0 906.3 L526.4 908.5 L526.7 909.6 L526.8 908.6 L527.2 906.7 L527.6 901.5 L528.0 895.0 L528.4 886.2 L528.8 875.6 L529.2 863.3 L529.6 849.0 L530.0 833.2 L530.4 816.8 L530.6 807.3 L530.8 808.0 L531.2 810.1 L531.6 810.6 L532.0 811.5 L532.4 808.7 L532.8 800.4 L533.2 786.8 L533.6 767.3 L534.0 742.4 L534.4 711.7 L534.8 674.6 L535.2 720.7 L535.6 760.2 L536.0 793.6 L536.4 823.3 L536.8 847.7 L537.2 867.2 L537.6 881.5 L538.0 890.3 L538.4 893.0 L538.5 895.8 L538.8 895.6 L539.2 897.4 L539.6 898.7 L540.0 902.9 L540.4 906.8 L540.8 908.2 L541.2 911.4 L541.5 910.8 L541.6 912.3 L542.0 912.6 L542.4 916.3 L542.8 916.6 L543.2 922.9 L543.6 926.1 L544.0 929.5 L544.4 934.9 L544.8 937.3 L545.2 941.7 L545.6 944.6 L546.0 946.3 L546.4 948.1 L546.8 947.1 L547.2 947.6 L547.6 945.4 L548.0 943.6 L548.4 942.6 L548.8 940.9 L549.2 938.4 L549.6 938.5 L550.0 936.2 L550.4 936.3 L550.8 935.8 L551.2 935.2 L551.4 934.6 L551.6 935.7 L552.0 936.5 L552.4 939.3 L552.8 940.6 L553.2 943.3 L553.6 944.4 L554.0 946.4 L554.4 947.1 L554.8 948.5 L555.0 950.1 L555.2 949.1 L555.6 949.6 L556.0 949.9 L556.4 952.5 L556.8 951.7 L557.2 953.2 L557.3 952.2 L557.6 952.9 L558.0 951.0 L558.4 950.7 L558.8 952.9 L559.2 951.7 L559.6 952.2 L560.0 952.6 L560.4 952.3 L560.8 952.0 L561.2 950.8 L561.6 951.2 L562.0 952.0 L562.4 953.0 L562.8 952.7 L563.2 952.7 L563.6 952.0 L564.0 952.8 L564.4 953.2 L564.8 951.3 L565.2 951.7 L565.6 952.9 L566.0 953.1 L566.4 952.2 L566.8 951.6 L567.2 950.5 L567.6 951.1 L568.0 950.2 L568.4 950.9 L568.8 950.7 L569.2 949.6 L569.6 949.5 L570.0 946.3 L570.4 945.1 L570.8 946.5 L571.2 945.0 L571.6 942.2 L572.0 941.8 L572.4 940.0 L572.8 940.2 L573.2 939.9 L573.5 940.3 L573.6 938.6 L574.0 937.4 L574.4 937.6 L574.8 935.2 L575.2 934.8 L575.6 931.2 L576.0 931.1 L576.1 929.5 L576.4 931.8 L576.8 927.8 L577.2 920.9 L577.6 913.8 L578.0 906.8 L578.4 904.7 L578.5 905.2 L578.8 904.6 L579.2 897.6 L579.6 885.2 L580.0 868.6 L580.4 846.3 L580.8 818.7 L581.2 785.3 L581.6 747.6 L582.0 705.0 L582.4 656.4 L582.8 602.4 L583.2 544.8 L583.3 528.5 L583.6 576.7 L584.0 636.9 L584.4 690.4 L584.8 737.5 L585.2 780.0 L585.6 815.5 L586.0 844.6 L586.4 868.7 L586.8 886.4 L587.2 898.2 L587.6 904.7 L587.8 904.9 L588.0 906.7 L588.4 916.3 L588.8 925.8 L589.2 933.3 L589.3 932.8 L589.6 933.4 L590.0 929.1 L590.4 923.8 L590.8 914.6 L591.2 901.7 L591.6 887.4 L592.0 869.6 L592.4 849.4 L592.8 826.6 L593.2 801.0 L593.6 772.3 L594.0 740.3 L594.4 774.0 L594.8 805.5 L595.2 832.8 L595.6 856.1 L596.0 875.7 L596.4 891.5 L596.8 902.7 L597.2 910.5 L597.6 915.8 L597.8 915.4 L598.0 917.3 L598.4 915.5 L598.8 918.7 L599.2 919.7 L599.4 919.4 L599.6 917.5 L600.0 919.2 L600.4 919.6 L600.8 921.3 L601.2 924.3 L601.6 926.8 L602.0 927.6 L602.4 929.0 L602.8 930.2 L603.2 928.4 L603.6 925.6 L604.0 920.1 L604.4 913.0 L604.8 904.6 L605.2 895.1 L605.6 886.4 L606.0 877.5 L606.4 869.9 L606.7 863.3 L606.8 865.4 L607.2 872.2 L607.6 883.4 L608.0 894.3 L608.4 904.3 L608.8 911.1 L609.1 912.9 L609.2 911.6 L609.6 908.6 L610.0 899.6 L610.4 887.5 L610.8 869.8 L611.2 848.1 L611.6 821.0 L612.0 789.8 L612.2 771.7 L612.4 790.1 L612.8 822.4 L613.2 851.7 L613.6 875.7 L614.0 897.1 L614.4 913.8 L614.8 926.7 L615.2 934.3 L615.6 938.4 L615.8 938.5 L616.0 939.9 L616.4 939.5 L616.8 942.3 L617.2 943.4 L617.6 947.9 L618.0 952.0 L618.4 950.8 L618.6 952.7 L618.8 952.3 L619.2 951.1 L619.6 950.3 L620.0 948.3 L620.4 945.8 L620.8 945.4 L621.2 943.0 L621.5 945.7 L621.6 944.3 L622.0 945.5 L622.4 944.7 L622.8 948.0 L623.2 947.9 L623.6 948.1 L624.0 949.0 L624.4 949.8 L624.8 949.5 L625.2 950.5 L625.5 950.4 L625.6 950.7 L626.0 951.4 L626.4 950.2 L626.8 947.9 L627.2 946.0 L627.6 943.2 L628.0 940.9 L628.4 937.8 L628.8 936.3 L629.2 934.9 L629.6 935.0 L630.0 934.5 L630.4 935.2 L630.8 937.1 L631.2 938.3 L631.6 939.2 L632.0 940.4 L632.4 941.4 L632.8 942.7 L633.2 940.5 L633.6 938.1 L634.0 936.1 L634.4 933.1 L634.8 929.1 L635.2 924.7 L635.6 918.8 L636.0 918.4 L636.4 918.1 L636.8 917.1 L637.2 914.0 L637.6 907.0 L638.0 899.5 L638.4 888.2 L638.8 876.1 L639.2 860.9 L639.6 844.0 L640.0 824.1 L640.4 801.4 L640.5 796.3 L640.8 811.6 L641.2 832.6 L641.6 850.9 L642.0 866.0 L642.4 874.7 L642.6 876.6 L642.8 885.5 L643.2 906.6 L643.6 927.2 L644.0 941.8 L644.4 948.4 L644.8 946.9 L645.2 950.9 L645.6 950.1 L646.0 950.9 L646.4 951.7 L646.5 951.4 L646.8 951.6 L647.2 952.0 L647.6 951.9 L648.0 953.0 L648.4 953.8 L648.8 953.2 L649.2 954.0 L649.6 953.5 L650.0 954.8 L650.4 954.7 L650.8 954.3 L651.2 955.7 L651.6 955.2 L652.0 954.9 L652.2 955.4 L652.4 956.2 L652.8 954.3 L653.2 954.4 L653.6 954.6 L654.0 952.9 L654.4 952.3 L654.8 952.8 L655.2 948.6 L655.6 949.1 L656.0 947.3 L656.4 948.5 L656.8 947.1 L657.1 945.2 L657.2 947.5 L657.6 947.2 L658.0 947.4 L658.4 948.1 L658.8 948.7 L659.2 948.4 L659.6 949.6 L660.0 952.2 L660.4 950.7 L660.8 951.8 L661.2 953.2 L661.6 951.7 L662.0 952.6 L662.4 953.2 L662.8 952.3 L663.2 952.9 L663.6 952.4 L664.0 953.3 L664.4 953.9 L664.8 953.8 L665.2 954.4 L665.6 954.8 L666.0 955.4 L666.4 953.8 L666.8 954.8 L667.2 956.1 L667.6 954.6 L668.0 954.5 L668.4 954.9 L668.8 953.9 L669.2 954.8 L669.6 954.1 L670.0 953.7 L670.4 954.4 L670.8 954.7 L671.2 951.9 L671.6 952.4 L672.0 952.2 L672.4 951.1 L672.8 952.8 L673.2 953.5 L673.6 952.3 L674.0 952.6 L674.4 949.5 L674.8 950.7 L675.0 949.8 L675.2 951.6 L675.6 950.6 L676.0 950.4 L676.4 950.9 L676.8 950.8 L677.2 951.2 L677.6 950.7 L678.0 950.0 L678.4 947.6 L678.8 949.9 L679.2 948.4 L679.6 946.5 L680.0 947.8 L680.4 947.3 L680.8 947.1 L681.2 947.7 L681.6 945.5 L681.8 947.1 L682.0 947.5 L682.4 945.7 L682.8 948.0 L683.2 946.6 L683.6 947.2 L684.0 949.2 L684.4 949.2 L684.8 948.3 L685.2 950.0 L685.6 952.0 L686.0 951.5 L686.4 952.4 L686.8 953.5 L687.2 953.7 L687.6 953.6 L688.0 953.4 L688.4 954.7 L688.7 955.4 L688.8 951.8 L689.2 954.3 L689.6 954.5 L690.0 952.3 L690.4 954.0 L690.8 950.7 L691.2 952.7 L691.6 953.0 L692.0 952.6 L692.4 948.5 L692.8 950.7 L693.2 949.3 L693.6 950.5 L694.0 951.0 L694.4 949.9 L694.8 950.7 L695.2 947.6 L695.6 948.2 L695.7 948.4 L696.0 949.1 L696.4 948.5 L696.8 944.6 L697.2 942.2 L697.6 941.0 L698.0 936.1 L698.4 935.4 L698.8 932.3 L699.2 931.8 L699.6 933.3 L700.0 929.8 L700.4 925.1 L700.8 917.5 L701.2 909.6 L701.6 901.4 L702.0 893.1 L702.4 886.3 L702.6 884.9 L702.8 886.6 L703.2 885.9 L703.5 887.3 L703.6 886.5 L704.0 885.0 L704.4 880.7 L704.8 874.9 L705.2 870.8 L705.6 865.0 L706.0 859.1 L706.4 858.3 L706.8 854.1 L707.2 843.8 L707.6 833.3 L708.0 826.0 L708.1 825.5 L708.4 826.8 L708.8 835.9 L709.2 846.6 L709.6 855.4 L710.0 859.0 L710.4 862.6 L710.8 869.4 L711.2 878.2 L711.6 885.8 L712.0 892.8 L712.4 898.7 L712.8 900.1 L713.2 900.0 L713.6 897.7 L714.0 894.3 L714.4 889.0 L714.8 882.8 L715.2 878.5 L715.6 872.6 L716.0 867.7 L716.4 863.0 L716.8 859.5 L717.1 858.1 L717.2 856.0 L717.6 831.5 L718.0 801.0 L718.4 817.3 L718.8 838.3 L719.2 853.7 L719.5 858.5 L719.6 860.6 L720.0 873.9 L720.4 886.6 L720.8 899.9 L721.2 911.7 L721.6 921.2 L722.0 926.6 L722.3 927.4 L722.4 928.0 L722.8 927.7 L723.2 927.8 L723.6 928.4 L724.0 926.4 L724.4 926.9 L724.8 927.1 L725.2 927.1 L725.3 928.2 L725.6 930.3 L726.0 929.1 L726.4 932.6 L726.8 934.8 L727.2 938.3 L727.6 943.0 L728.0 944.5 L728.4 947.2 L728.8 948.1 L729.2 947.8 L729.6 948.6 L730.0 945.5 L730.4 944.6 L730.8 940.1 L731.2 940.1 L731.5 941.0 L731.6 939.0 L732.0 938.4 L732.4 936.1 L732.8 931.8 L733.2 927.7 L733.6 927.1 L734.0 927.9 L734.4 927.3 L734.8 926.1 L735.2 923.3 L735.6 917.9 L736.0 918.3 L736.2 915.5 L736.4 916.5 L736.8 918.4 L737.2 923.0 L737.6 926.0 L738.0 932.9 L738.4 937.2 L738.8 939.9 L739.2 940.3 L739.5 940.8 L739.6 941.7 L740.0 944.0 L740.4 947.2 L740.8 950.2 L741.1 950.0 L741.2 949.5 L741.6 949.9 L742.0 947.5 L742.4 950.7 L742.8 948.2 L743.2 947.9 L743.6 948.9 L744.0 949.4 L744.4 948.8 L744.8 950.1 L745.2 950.5 L745.6 951.3 L746.0 951.0 L746.4 950.3 L746.8 951.1 L747.2 952.2 L747.6 950.6 L748.0 951.1 L748.4 949.0 L748.8 951.0 L749.2 952.4 L749.6 951.1 L750.0 950.5 L750.4 951.4 L750.8 951.2 L751.2 951.0 L751.6 948.5 L752.0 948.4 L752.4 950.1 L752.8 950.1 L753.2 949.8 L753.6 947.8 L754.0 949.9 L754.4 951.1 L754.8 950.9 L755.0 951.9 L755.2 949.7 L755.6 949.4 L756.0 950.8 L756.4 950.0 L756.8 947.3 L757.2 947.9 L757.6 949.4 L758.0 948.5 L758.4 950.6 L758.8 950.7 L759.2 950.6 L759.6 949.2 L760.0 949.5 L760.4 950.1 L760.8 949.3 L761.2 950.3 L761.6 950.1 L762.0 950.6 L762.4 949.8 L762.8 949.2 L763.2 947.3 L763.6 948.8 L764.0 949.0 L764.4 951.0 L764.8 949.4 L765.2 950.2 L765.6 951.0 L766.0 951.5 L766.4 951.7 L766.8 951.4 L767.2 952.6 L767.6 950.5 L768.0 952.1 L768.4 949.8 L768.8 950.7 L769.2 951.6 L769.6 951.5 L770.0 950.5 L770.4 949.7 L770.8 948.9 L771.2 947.7 L771.6 947.4 L772.0 950.1 L772.4 946.4 L772.8 945.9 L773.2 945.3 L773.6 946.0 L774.0 945.8 L774.4 944.9 L774.8 944.1 L775.2 945.1 L775.6 943.7 L776.0 945.0 L776.4 945.7 L776.8 943.1 L777.2 944.1 L777.5 943.1 L777.6 943.1 L778.0 941.1 L778.4 940.8 L778.8 938.4 L779.2 936.9 L779.6 935.2 L780.0 929.9 L780.4 930.6 L780.8 928.4 L781.2 929.6 L781.6 931.4 L782.0 935.8 L782.4 940.0 L782.8 942.1 L783.2 945.4 L783.6 946.6 L784.0 947.5 L784.4 947.7 L784.8 951.1 L785.2 951.6 L785.6 956.6 L785.7 955.6 L786.0 954.1 L786.4 954.5 L786.8 954.7 L787.2 955.0 L787.6 955.0 L788.0 956.4 L788.4 954.2 L788.8 953.1 L789.2 955.3 L789.6 955.5 L790.0 954.1 L790.4 955.3 L790.8 954.5 L791.2 953.7 L791.6 954.1 L792.0 953.0 L792.4 953.5 L792.6 955.5 L792.8 954.3 L793.2 951.4 L793.6 948.1 L794.0 947.0 L794.4 944.7 L794.8 943.2 L795.2 937.8 L795.6 932.6 L796.0 929.0 L796.4 922.2 L796.8 919.7 L797.2 918.3 L797.6 920.3 L798.0 921.7 L798.4 926.0 L798.8 930.2 L799.2 934.2 L799.6 938.2 L800.0 941.1 L800.4 945.3 L800.8 944.1 L801.2 946.6 L801.6 949.2 L802.0 949.4 L802.4 950.2 L802.5 950.3 L802.8 950.3 L803.2 950.8 L803.6 946.9 L804.0 945.0 L804.4 943.4 L804.5 945.1 L804.8 944.8 L805.2 944.3 L805.6 940.2 L806.0 936.8 L806.4 933.9 L806.8 935.0 L807.0 933.7 L807.2 933.2 L807.6 933.5 L808.0 935.6 L808.3 936.0 L808.4 936.2 L808.8 936.1 L809.2 934.2 L809.4 936.3 L809.6 933.6 L810.0 936.4 L810.4 938.9 L810.8 941.9 L811.2 945.1 L811.6 946.5 L812.0 947.9 L812.4 949.7 L812.8 949.6 L813.2 948.4 L813.6 948.3 L814.0 945.7 L814.4 946.2 L814.8 943.2 L815.2 945.4 L815.6 942.9 L816.0 943.2 L816.4 942.1 L816.8 940.6 L817.2 941.9 L817.3 942.5 L817.6 940.7 L818.0 944.2 L818.4 944.3 L818.8 944.8 L819.2 947.3 L819.6 949.6 L820.0 951.1 L820.4 950.4 L820.5 950.8 L820.8 951.6 L821.2 952.0 L821.6 954.4 L822.0 954.5 L822.4 955.7 L822.8 955.0 L823.2 955.3 L823.6 954.8 L824.0 955.6 L824.4 955.3 L824.8 955.3 L825.2 953.8 L825.6 951.1 L826.0 950.8 L826.4 952.1 L826.8 949.9 L827.0 950.5 L827.2 948.7 L827.6 948.2 L828.0 947.5 L828.4 946.1 L828.8 944.8 L829.2 942.5 L829.6 939.1 L830.0 941.5 L830.4 938.5 L830.8 936.2 L831.2 939.3 L831.6 939.5 L832.0 939.4 L832.4 941.0 L832.8 942.9 L833.2 942.0 L833.6 946.6 L834.0 947.9 L834.4 949.6 L834.8 949.8 L835.2 950.3 L835.6 952.8 L835.7 948.5 L836.0 952.3 L836.4 951.6 L836.8 948.0 L837.2 947.6 L837.6 945.8 L838.0 944.5 L838.4 942.8 L838.8 942.2 L839.0 943.4 L839.2 943.2 L839.6 944.4 L840.0 945.1 L840.4 944.8 L840.8 948.5 L841.2 949.5 L841.6 948.2 L842.0 950.5 L842.4 951.4 L842.8 952.7 L843.2 951.7 L843.5 954.6 L843.6 953.0 L844.0 955.2 L844.4 952.9 L844.8 955.8 L845.2 955.2 L845.6 956.3 L846.0 956.4 L846.4 956.9 L846.8 955.7 L847.0 956.4 L847.2 956.3 L847.6 956.8 L848.0 956.6 L848.4 957.4 L848.8 956.8 L849.2 956.1 L849.6 955.0 L850.0 957.1 L850.4 955.5 L850.8 955.6 L851.2 956.0 L851.6 955.2 L852.0 955.3 L852.4 955.3 L852.8 953.7 L852.9 955.5 L853.2 954.7 L853.6 955.0 L854.0 953.7 L854.4 952.3 L854.8 952.8 L855.2 950.3 L855.6 950.2 L856.0 949.0 L856.4 948.9 L856.8 948.8 L857.2 948.3 L857.6 946.4 L858.0 946.3 L858.4 947.2 L858.8 945.1 L859.2 944.1 L859.6 943.8 L860.0 943.9 L860.4 942.0 L860.8 942.2 L861.2 941.4 L861.6 941.4 L861.8 942.8 L862.0 942.1 L862.4 941.8 L862.8 940.4 L863.2 938.2 L863.6 935.4 L864.0 933.1 L864.4 929.1 L864.8 925.4 L865.2 926.8 L865.6 926.7 L865.7 924.7 L866.0 925.3 L866.4 927.5 L866.8 928.1 L867.2 931.8 L867.6 935.1 L868.0 939.3 L868.4 942.4 L868.8 946.4 L869.2 946.2 L869.6 947.5 L869.7 947.1 L870.0 947.5 L870.4 944.9 L870.8 940.8 L871.2 935.7 L871.6 928.8 L872.0 922.1 L872.4 917.2 L872.8 910.5 L873.2 905.7 L873.6 903.5 L874.0 905.2 L874.4 906.8 L874.8 912.1 L875.2 917.3 L875.6 922.2 L876.0 926.6 L876.4 933.0 L876.8 934.3 L877.2 937.7 L877.6 939.7 L877.8 938.8 L878.0 940.4 L878.4 941.8 L878.8 944.6 L879.2 946.2 L879.6 948.8 L880.0 945.1 L880.4 943.8 L880.8 941.3 L881.2 940.0 L881.5 940.1 L881.6 938.7 L882.0 939.3 L882.4 936.5 L882.8 931.1 L883.2 924.3 L883.6 920.7 L884.0 915.3 L884.4 909.8 L884.8 907.2 L885.1 906.0 L885.2 905.8 L885.6 909.6 L886.0 914.2 L886.4 918.4 L886.8 922.9 L887.2 929.4 L887.6 934.7 L888.0 941.1 L888.4 942.4 L888.8 944.9 L889.0 944.9 L889.2 946.4 L889.6 947.0 L890.0 950.6 L890.4 950.9 L890.8 951.5 L891.2 948.9 L891.6 949.0 L892.0 948.6 L892.4 946.6 L892.8 944.2 L893.2 946.8 L893.4 944.9 L893.6 944.2 L894.0 944.5 L894.4 944.1 L894.8 946.9 L895.2 947.7 L895.6 949.0 L896.0 947.6 L896.4 947.8 L896.8 948.7 L897.2 950.1 L897.6 951.2 L898.0 951.2 L898.3 950.8 L898.4 952.7 L898.8 951.6 L899.2 952.7 L899.6 953.2 L900.0 951.3 L900.4 951.8 L900.8 953.6 L901.2 951.4 L901.6 952.6 L902.0 952.0 L902.4 953.1 L902.8 953.0 L903.2 954.3 L903.6 954.0 L904.0 955.7 L904.4 954.4 L904.8 955.3 L905.2 956.3 L905.6 955.1 L906.0 955.5 L906.4 956.0 L906.8 956.2 L907.2 957.4 L907.6 956.2 L908.0 955.4 L908.2 957.1 L908.4 955.8 L908.8 956.1 L909.2 956.5 L909.6 957.8 L910.0 957.2 L910.4 956.7 L910.8 956.3 L911.2 955.7 L911.6 957.7 L912.0 956.8 L912.4 954.9 L912.8 956.2 L913.2 954.1 L913.6 954.4 L914.0 954.3 L914.4 956.5 L914.8 956.7 L915.2 954.7 L915.6 954.4 L916.0 956.1 L916.4 954.4 L916.8 956.2 L917.1 953.8 L917.2 955.7 L917.6 952.4 L918.0 952.3 L918.4 948.8 L918.8 947.1 L919.2 947.3 L919.6 943.3 L920.0 943.0 L920.4 940.1 L920.8 937.8 L921.2 931.8 L921.6 930.8 L922.0 929.1 L922.4 927.7 L922.8 927.2 L923.2 929.2 L923.6 930.4 L924.0 933.9 L924.4 935.7 L924.8 938.7 L925.2 941.7 L925.6 942.0 L926.0 942.4 L926.4 942.9 L926.8 941.8 L927.2 939.9 L927.6 937.4 L928.0 935.6 L928.4 931.6 L928.8 930.5 L929.2 926.8 L929.6 927.3 L929.9 927.1 L930.0 928.2 L930.4 926.7 L930.8 930.1 L931.2 929.8 L931.6 931.7 L932.0 932.9 L932.4 937.5 L932.8 938.4 L933.2 941.7 L933.6 942.7 L934.0 944.4 L934.4 944.4 L934.5 944.0 L934.8 944.5 L935.2 945.4 L935.6 946.7 L936.0 946.9 L936.4 950.0 L936.8 948.6 L937.2 950.0 L937.6 952.0 L937.8 951.6 L938.0 953.1 L938.4 952.2 L938.8 950.9 L939.2 951.3 L939.6 952.6 L940.0 953.2 L940.4 954.7 L940.8 954.7 L941.2 955.3 L941.6 955.7 L942.0 956.8 L942.4 956.2 L942.8 956.9 L943.2 957.8 L943.6 956.8 L944.0 955.9 L944.4 956.9 L944.8 957.1 L945.2 955.6 L945.6 956.1 L946.0 954.9 L946.4 955.2 L946.8 955.1 L947.2 954.9 L947.6 955.1 L948.0 957.4 L948.4 956.6 L948.8 955.1 L949.2 955.7 L949.6 955.4 L950.0 955.7 L950.4 953.7 L950.8 955.3 L951.2 954.6 L951.5 955.3 L951.6 955.7 L952.0 952.4 L952.4 952.9 L952.8 955.2 L953.2 955.0 L953.6 953.3 L954.0 950.5 L954.4 950.2 L954.8 950.1 L955.2 948.2 L955.6 945.6 L956.0 947.6 L956.4 945.8 L956.6 946.3 L956.8 944.8 L957.2 945.6 L957.6 948.1 L958.0 947.3 L958.4 949.2 L958.8 951.1 L959.2 950.9 L959.6 952.0 L960.0 952.8 L960.4 955.1 L960.8 955.8 L961.2 956.5 L961.6 958.4 L962.0 957.8 L962.4 958.8 L962.5 956.9 L962.8 957.4 L963.2 958.5 L963.6 956.9 L964.0 956.1 L964.4 957.4 L964.8 956.9 L965.2 957.7 L965.6 958.8 L966.0 956.9 L966.4 956.3 L966.8 956.8 L967.2 956.4 L967.6 956.5 L968.0 957.9 L968.4 957.2 L968.8 956.9 L969.2 956.3 L969.6 957.2 L970.0 956.2 L970.4 957.7 L970.8 956.2 L971.2 956.1 L971.6 956.7 L972.0 958.0 L972.4 954.3 L972.8 956.5 L973.2 955.0 L973.4 954.4 L973.6 955.5 L974.0 956.5 L974.4 954.2 L974.8 955.6 L975.2 957.4 L975.6 956.6 L976.0 954.7 L976.4 955.5 L976.8 954.7 L977.2 954.0 L977.6 953.5 L978.0 955.0 L978.4 952.5 L978.8 952.8 L979.2 952.3 L979.6 951.3 L980.0 952.3 L980.4 953.9 L980.8 951.2 L981.2 952.1 L981.6 953.4 L982.0 952.7 L982.4 951.9 L982.8 952.5 L982.9 952.3 L983.2 951.4 L983.6 950.8 L984.0 951.0 L984.4 949.8 L984.8 951.8 L985.2 951.9 L985.6 952.1 L986.0 951.5 L986.4 952.8 L986.8 952.5 L987.2 955.3 L987.6 954.3 L988.0 957.0 L988.4 955.8 L988.8 957.7 L989.2 958.0 L989.6 958.8 L990.0 958.1 L990.4 956.7 L990.8 959.0 L991.2 957.9 L991.6 957.1 L992.0 957.5 L992.4 958.6 L992.8 958.9 L993.2 958.3 L993.6 958.6 L994.0 958.7 L994.4 957.2 L994.8 957.3 L995.2 956.8 L995.6 956.6 L996.0 956.6 L996.4 956.6 L996.8 955.8 L997.2 956.1 L997.6 956.8 L998.0 955.5 L998.4 956.3 L998.8 955.0 L999.2 954.8 L999.6 957.1 L1000.0 955.5 L1000.4 956.8 L1000.8 953.7 L1001.2 953.4 L1001.6 955.2 L1002.0 954.9 L1002.4 952.6 L1002.8 955.5 L1003.2 955.2 L1003.6 953.7 L1004.0 954.5 L1004.4 954.5 L1004.8 953.6 L1005.2 952.8 L1005.6 953.8 L1006.0 952.7 L1006.4 952.2 L1006.8 951.2 L1007.2 952.5 L1007.6 953.8 L1008.0 951.8 L1008.4 951.8 L1008.8 951.3 L1009.2 952.2 L1009.6 952.9 L1009.9 951.9 L1010.0 952.6 L1010.4 952.9 L1010.8 951.0 L1011.2 951.9 L1011.6 953.2 L1012.0 952.3 L1012.4 951.8 L1012.8 952.8 L1013.2 953.6 L1013.6 954.8 L1014.0 953.5 L1014.4 954.9 L1014.8 955.0 L1015.2 952.1 L1015.6 955.5 L1016.0 955.0 L1016.4 953.9 L1016.8 957.2 L1017.2 955.8 L1017.6 955.9 L1018.0 957.8 L1018.4 956.8 L1018.8 955.1 L1019.2 956.2 L1019.6 957.7 L1019.8 957.2 L1020.0 957.4 L1020.4 955.8 L1020.8 956.7 L1021.2 955.2 L1021.6 955.5 L1022.0 956.0 L1022.4 955.0 L1022.8 955.6 L1023.2 955.0 L1023.6 955.7 L1024.0 957.4 L1024.4 955.9 L1024.5 956.3 L1024.8 953.6 L1025.2 954.0 L1025.6 954.8 L1026.0 951.6 L1026.4 952.1 L1026.8 951.3 L1027.0 952.7 L1027.2 950.1 L1027.6 951.8 L1028.0 953.3 L1028.4 954.2 L1028.8 953.2 L1029.2 956.1 L1029.5 955.5 L1029.6 956.1 L1030.0 955.3 L1030.4 955.4 L1030.8 954.3 L1031.2 954.1 L1031.6 953.4 L1032.0 954.9 L1032.4 953.8 L1032.8 956.1 L1033.2 955.9 L1033.6 954.7 L1034.0 955.4 L1034.4 953.9 L1034.6 954.5 L1034.8 954.9 L1035.2 953.9 L1035.6 953.5 L1036.0 952.4 L1036.4 950.4 L1036.8 948.6 L1037.2 947.1 L1037.6 945.5 L1038.0 947.0 L1038.4 945.7 L1038.5 947.1 L1038.8 944.7 L1039.2 944.1 L1039.6 943.0 L1040.0 941.3 L1040.4 937.7 L1040.8 934.1 L1041.2 929.3 L1041.6 929.2 L1042.0 929.6 L1042.1 925.8 L1042.4 928.2 L1042.8 931.3 L1043.2 930.3 L1043.6 934.2 L1044.0 938.6 L1044.4 939.5 L1044.8 940.3 L1045.0 941.0 L1045.2 940.2 L1045.6 941.8 L1045.9 941.2 L1046.0 942.3 L1046.4 942.0 L1046.8 945.5 L1047.2 949.5 L1047.6 951.1 L1048.0 956.5 L1048.4 956.1 L1048.8 955.5 L1049.2 954.7 L1049.6 955.6 L1050.0 954.7 L1050.4 955.7 L1050.8 956.0 L1051.2 952.9 L1051.6 952.2 L1052.0 952.5 L1052.4 952.0 L1052.8 952.0 L1053.2 949.3 L1053.6 950.9 L1054.0 949.9 L1054.4 949.2 L1054.8 948.2 L1055.2 950.4 L1055.3 950.4 L1055.6 949.7 L1056.0 950.0 L1056.4 950.4 L1056.8 950.4 L1057.2 951.8 L1057.6 950.9 L1058.0 953.4 L1058.4 951.2 L1058.8 955.3 L1059.2 956.7 L1059.6 957.2 L1060.0 955.9 L1060.4 957.0 L1060.8 957.9 L1061.2 956.7 L1061.3 957.9 L1061.6 957.5 L1062.0 958.7 L1062.4 956.4 L1062.8 956.3 L1063.2 956.8 L1063.6 956.9 L1064.0 955.1 L1064.4 953.6 L1064.8 953.2 L1065.2 952.4 L1065.6 953.5 L1066.0 952.1 L1066.4 952.3 L1066.8 950.7 L1067.2 951.2 L1067.6 951.7 L1068.0 950.4 L1068.2 952.4 L1068.4 951.4 L1068.8 950.4 L1069.2 950.8 L1069.6 951.3 L1070.0 950.8 L1070.4 951.3 L1070.8 952.3 L1071.2 950.3 L1071.6 954.4 L1072.0 953.5 L1072.4 954.4 L1072.8 955.7 L1073.2 954.6 L1073.6 954.3 L1074.0 954.7 L1074.4 955.6 L1074.8 956.8 L1075.2 955.1 L1075.6 957.5 L1076.0 955.7 L1076.4 955.2 L1076.8 957.6 L1077.2 956.0 L1077.6 957.2 L1078.0 955.7 L1078.4 957.5 L1078.8 956.2 L1079.0 957.8 L1079.2 955.3 L1079.6 956.2 L1080.0 955.2 L1080.4 955.8 L1080.8 953.6 L1081.2 953.2 L1081.6 952.7 L1082.0 951.7 L1082.4 951.4 L1082.8 950.6 L1083.2 948.0 L1083.6 950.0 L1084.0 947.7 L1084.4 948.0 L1084.6 950.2 L1084.8 948.1 L1085.2 948.9 L1085.6 950.2 L1086.0 949.6 L1086.4 951.0 L1086.8 951.8 L1087.2 952.9 L1087.6 953.1 L1088.0 956.1 L1088.4 955.8 L1088.8 956.9 L1089.2 956.7 L1089.6 956.7 L1089.9 958.2 L1090.0 956.6 L1090.4 957.5 L1090.8 954.5 L1091.2 953.1 L1091.6 952.2 L1092.0 953.3 L1092.4 951.5 L1092.5 950.4 L1092.8 950.3 L1093.2 948.6 L1093.6 944.5 L1094.0 940.8 L1094.4 940.4 L1094.5 941.4 L1094.8 939.7 L1095.2 935.6 L1095.6 929.0 L1096.0 918.1 L1096.4 906.0 L1096.8 893.0 L1097.2 879.5 L1097.6 865.8 L1097.8 858.2 L1098.0 859.0 L1098.4 862.6 L1098.8 867.6 L1099.2 874.3 L1099.6 882.0 L1100.0 888.2 L1100.4 893.4 L1100.8 896.2 L1101.2 898.1 L1101.6 898.5 L1101.9 901.0 L1102.0 900.4 L1102.4 909.2 L1102.8 922.0 L1103.2 931.6 L1103.4 933.0 L1103.6 932.4 L1104.0 932.2 L1104.4 930.7 L1104.8 930.0 L1105.2 927.7 L1105.6 926.2 L1106.0 924.0 L1106.3 924.1 L1106.4 921.9 L1106.8 923.6 L1107.2 925.2 L1107.6 925.2 L1108.0 930.5 L1108.4 932.7 L1108.8 934.4 L1109.2 938.8 L1109.6 937.4 L1110.0 940.7 L1110.4 941.8 L1110.7 941.7 L1110.8 943.5 L1111.2 943.7 L1111.6 944.3 L1112.0 945.0 L1112.4 948.1 L1112.8 950.0 L1113.2 952.6 L1113.6 952.6 L1114.0 954.2 L1114.4 956.7 L1114.6 955.9 L1114.8 955.9 L1115.2 955.8 L1115.6 953.4 L1116.0 957.1 L1116.4 954.1 L1116.8 954.1 L1117.2 955.1 L1117.6 955.2 L1118.0 954.4 L1118.4 952.4 L1118.8 951.8 L1119.2 952.6 L1119.6 952.1 L1120.0 950.0 L1120.4 952.4 L1120.8 949.2 L1121.2 951.2 L1121.6 951.0 L1122.0 951.2 L1122.4 950.2 L1122.8 950.8 L1123.2 950.0 L1123.5 948.8 L1123.6 949.0 L1124.0 951.0 L1124.4 948.2 L1124.8 950.9 L1125.2 950.1 L1125.6 949.4 L1126.0 950.7 L1126.4 952.5 L1126.8 950.1 L1127.2 954.2 L1127.6 954.8 L1128.0 953.6 L1128.4 953.8 L1128.8 954.5 L1129.2 955.3 L1129.6 953.5 L1130.0 953.9 L1130.4 954.7 L1130.8 952.8 L1131.2 954.6 L1131.6 954.6 L1132.0 955.6 L1132.4 953.8 L1132.8 955.4 L1133.2 956.4 L1133.6 956.7 L1134.0 955.7 L1134.4 958.1 L1134.8 957.6 L1135.2 957.9 L1135.6 958.1 L1136.0 959.2 L1136.4 958.9 L1136.8 958.1 L1137.2 959.4 L1137.6 958.7 L1138.0 959.0 L1138.3 958.8 L1138.4 957.8 L1138.8 958.9 L1139.2 959.0 L1139.6 957.4 L1140.0 958.2 L1140.4 958.3 L1140.8 959.0 L1141.2 958.0 L1141.6 958.4 L1142.0 958.7 L1142.4 957.1 L1142.8 957.3 L1143.2 957.2 L1143.6 958.1 L1144.0 958.6 L1144.4 957.2 L1144.8 957.0 L1145.2 956.4 L1145.6 956.6 L1146.0 957.6 L1146.4 955.9 L1146.8 955.6 L1147.2 957.4 L1147.6 955.9 L1148.0 955.6 L1148.4 954.8 L1148.8 956.1 L1149.2 955.1 L1149.6 953.9 L1150.0 953.8 L1150.2 956.0 L1150.4 955.3 L1150.8 955.9 L1151.2 955.8 L1151.6 956.3 L1152.0 955.8 L1152.4 952.9 L1152.8 952.7 L1153.2 951.3 L1153.6 951.9 L1154.0 949.1 L1154.4 950.4 L1154.8 947.7 L1155.2 949.9 L1155.6 949.9 L1156.0 947.1 L1156.1 948.8 L1156.4 948.2 L1156.8 947.7 L1157.2 950.3 L1157.6 949.1 L1158.0 950.9 L1158.4 950.3 L1158.8 951.7 L1159.0 949.9 L1159.2 950.9 L1159.6 950.3 L1160.0 949.3 L1160.4 950.2 L1160.8 949.1 L1161.2 948.5 L1161.6 948.9 L1162.0 947.4 L1162.4 949.7 L1162.8 950.4 L1163.2 947.7 L1163.6 949.5 L1164.0 949.2 L1164.4 949.0 L1164.8 950.8 L1165.2 951.9 L1165.6 951.3 L1166.0 951.3 L1166.4 953.5 L1166.8 951.9 L1167.2 951.7 L1167.6 952.0 L1168.0 953.6 L1168.4 952.8 L1168.8 952.9 L1169.2 952.2 L1169.6 953.3 L1170.0 953.2 L1170.4 955.0 L1170.8 954.0 L1171.2 953.4 L1171.6 956.2 L1172.0 955.6 L1172.4 955.7 L1172.8 956.4 L1173.2 956.1 L1173.6 954.2 L1173.9 956.1 L1174.0 957.2 L1174.4 956.9 L1174.8 954.9 L1175.2 955.0 L1175.6 955.6 L1176.0 956.6 L1176.4 955.0 L1176.8 954.5 L1177.2 953.6 L1177.6 953.6 L1178.0 953.4 L1178.4 954.1 L1178.8 953.3 L1179.0 953.6 L1179.2 952.9 L1179.6 954.4 L1180.0 953.6 L1180.4 952.4 L1180.8 951.6 L1181.2 951.5 L1181.6 950.4 L1182.0 949.0 L1182.4 946.6 L1182.8 947.4 L1183.2 950.1 L1183.6 950.2 L1184.0 950.3 L1184.4 950.4 L1184.8 953.8 L1185.2 952.7 L1185.6 954.8 L1186.0 954.8 L1186.4 954.5 L1186.8 954.0 L1187.2 955.4 L1187.6 954.2 L1188.0 955.1 L1188.4 956.1 L1188.8 957.8 L1189.2 956.3 L1189.6 956.7 L1189.7 957.1 L1190.0 954.3 L1190.4 955.3 L1190.8 955.2 L1191.2 953.9 L1191.6 954.0 L1192.0 951.6 L1192.4 951.9 L1192.8 952.1 L1193.0 950.9 L1193.2 951.7 L1193.6 951.9 L1194.0 950.3 L1194.4 948.3 L1194.8 945.6 L1195.2 945.4 L1195.6 945.7 L1196.0 945.7 L1196.4 944.9 L1196.8 943.1 L1197.2 940.3 L1197.6 940.0 L1198.0 938.6 L1198.4 936.4 L1198.8 935.4 L1199.2 935.5 L1199.5 934.4 L1199.6 935.0 L1200.0 933.9 L1200.4 929.6 L1200.8 925.6 L1201.2 920.3 L1201.6 915.7 L1202.0 912.1 L1202.4 912.4 L1202.5 914.2 L1202.8 911.9 L1203.2 914.8 L1203.6 915.3 L1204.0 914.8 L1204.4 915.0 L1204.8 910.3 L1205.2 903.6 L1205.6 901.0 L1206.0 896.0 L1206.4 894.1 L1206.5 894.9 L1206.8 897.0 L1207.2 901.3 L1207.6 909.2 L1208.0 917.1 L1208.4 921.9 L1208.8 925.8 L1209.2 924.8 L1209.6 926.5 L1210.0 928.0 L1210.4 928.7 L1210.8 926.8 L1211.2 929.1 L1211.6 931.2 L1212.0 933.0 L1212.4 936.1 L1212.8 938.6 L1213.2 941.2 L1213.6 945.0 L1214.0 944.3 L1214.4 944.3 L1214.8 943.5 L1215.2 944.0 L1215.6 944.5 L1216.0 945.8 L1216.4 944.9 L1216.8 946.6 L1217.2 946.9 L1217.6 947.2 L1218.0 950.4 L1218.4 950.7 L1218.8 952.4 L1219.2 954.4 L1219.6 955.0 L1220.0 954.2 L1220.4 954.7 L1220.8 954.2 L1221.2 954.5 L1221.3 953.1 L1221.6 955.3 L1222.0 954.4 L1222.4 955.2 L1222.8 955.8 L1223.2 953.5 L1223.6 954.8 L1224.0 954.6 L1224.4 956.1 L1224.8 955.3 L1225.2 957.0 L1225.6 957.8 L1226.0 957.8 L1226.4 958.1 L1226.8 956.9 L1227.2 956.4 L1227.6 955.0 L1228.0 956.6 L1228.4 954.8 L1228.8 955.3 L1229.2 957.3 L1229.6 957.0 L1230.0 955.1 L1230.4 958.2 L1230.8 955.4 L1231.2 955.8 L1231.6 957.7 L1232.0 957.6 L1232.4 955.5 L1232.8 955.9 L1233.2 953.7 L1233.3 955.8 L1233.6 953.6 L1234.0 951.4 L1234.4 945.8 L1234.8 944.5 L1235.2 946.6 L1235.6 949.3 L1236.0 950.8 L1236.3 950.8 L1236.4 952.4 L1236.8 953.7 L1237.2 953.2 L1237.6 951.1 L1238.0 952.0 L1238.4 952.1 L1238.8 953.2 L1239.2 951.5 L1239.6 950.7 L1240.0 952.1 L1240.4 949.1 L1240.8 949.0 L1241.2 948.6 L1241.6 950.8 L1242.0 948.9 L1242.4 950.0 L1242.8 948.8 L1243.0 950.9 L1243.2 950.1 L1243.6 949.3 L1244.0 951.0 L1244.4 950.8 L1244.8 950.7 L1245.2 949.9 L1245.6 953.0 L1246.0 951.5 L1246.4 951.6 L1246.8 952.4 L1247.2 952.4 L1247.6 951.7 L1248.0 954.1 L1248.4 951.9 L1248.8 954.7 L1249.0 952.2 L1249.2 952.9 L1249.6 955.3 L1250.0 953.0 L1250.4 955.0 L1250.8 955.4 L1251.2 956.6 L1251.6 957.2 L1252.0 956.5 L1252.4 956.5 L1252.8 957.6 L1253.2 957.9 L1253.6 955.7 L1254.0 957.4 L1254.4 956.0 L1254.8 959.4 L1254.9 958.1 L1255.2 956.4 L1255.6 958.4 L1256.0 955.3 L1256.4 956.1 L1256.8 953.8 L1257.2 953.7 L1257.6 953.5 L1258.0 951.1 L1258.4 951.8 L1258.8 951.5 L1259.2 951.4 L1259.6 950.3 L1260.0 949.2 L1260.4 949.5 L1260.6 948.4 L1260.8 948.7 L1261.2 950.9 L1261.6 949.2 L1262.0 950.3 L1262.4 952.6 L1262.8 952.6 L1263.2 952.5 L1263.6 953.6 L1264.0 954.1 L1264.4 954.0 L1264.8 954.8 L1265.0 956.2 L1265.2 954.8 L1265.6 955.7 L1266.0 954.7 L1266.4 955.5 L1266.8 956.9 L1267.2 957.0 L1267.6 957.1 L1268.0 957.4 L1268.4 959.0 L1268.8 958.2 L1269.2 957.1 L1269.6 959.6 L1270.0 959.7 L1270.4 958.9 L1270.8 958.1 L1271.2 959.3 L1271.6 958.8 L1272.0 957.2 L1272.4 955.8 L1272.8 955.5 L1273.2 955.8 L1273.6 953.1 L1274.0 954.0 L1274.4 951.2 L1274.5 952.4 L1274.8 953.2 L1275.2 952.5 L1275.6 951.1 L1276.0 952.6 L1276.4 951.9 L1276.8 951.3 L1277.2 949.5 L1277.6 949.3 L1278.0 949.0 L1278.3 949.6 L1278.4 949.5 L1278.8 949.4 L1279.2 950.1 L1279.6 950.5 L1280.0 950.1 L1280.4 951.4 L1280.8 949.1 L1281.2 953.7 L1281.6 950.9 L1282.0 951.9 L1282.4 953.2 L1282.8 954.2 L1283.2 954.0 L1283.6 952.5 L1284.0 953.9 L1284.2 953.3 L1284.4 955.0 L1284.8 953.8 L1285.2 951.4 L1285.6 952.7 L1286.0 953.3 L1286.4 951.7 L1286.8 952.7 L1287.2 950.4 L1287.6 951.2 L1288.0 951.7 L1288.4 950.4 L1288.8 949.5 L1289.2 949.6 L1289.6 950.6 L1290.0 950.2 L1290.4 950.1 L1290.8 950.5 L1291.2 949.6 L1291.6 949.7 L1292.0 949.5 L1292.4 948.6 L1292.8 949.1 L1293.2 946.6 L1293.6 949.1 L1294.0 947.2 L1294.4 945.5 L1294.8 946.7 L1295.2 946.4 L1295.6 944.7 L1296.0 943.3 L1296.1 944.6 L1296.4 945.1 L1296.8 944.6 L1297.2 944.2 L1297.6 945.2 L1298.0 946.9 L1298.4 947.4 L1298.8 949.2 L1299.2 948.3 L1299.6 950.7 L1300.0 949.9 L1300.4 951.3 L1300.8 951.3 L1301.0 952.6 L1301.2 951.8 L1301.6 951.0 L1302.0 952.0 L1302.4 950.8 L1302.8 952.7 L1303.2 953.3 L1303.6 953.6 L1304.0 953.5 L1304.4 954.7 L1304.8 955.5 L1305.2 956.2 L1305.6 955.3 L1306.0 957.2 L1306.4 956.4 L1306.8 955.7 L1307.0 956.8 L1307.2 958.1 L1307.6 958.1 L1308.0 955.5 L1308.4 953.9 L1308.8 953.1 L1309.2 952.7 L1309.6 952.0 L1310.0 949.3 L1310.4 947.4 L1310.8 947.3 L1311.2 945.2 L1311.6 942.9 L1312.0 942.5 L1312.4 942.7 L1312.8 940.9 L1313.2 941.1 L1313.3 940.5 L1313.6 941.5 L1314.0 942.7 L1314.4 943.0 L1314.8 942.5 L1315.2 942.6 L1315.6 945.8 L1316.0 946.3 L1316.4 945.3 L1316.8 948.6 L1317.2 947.6 L1317.6 947.9 L1318.0 948.4 L1318.4 947.5 L1318.8 948.5 L1319.2 951.4 L1319.6 950.6 L1320.0 952.0 L1320.4 953.7 L1320.8 953.7 L1321.2 954.1 L1321.6 955.7 L1322.0 957.1 L1322.4 956.4 L1322.8 955.8 L1323.2 957.6 L1323.6 956.9 L1324.0 953.7 L1324.4 954.2 L1324.8 954.7 L1325.2 950.3 L1325.6 949.1 L1326.0 950.0 L1326.4 947.9 L1326.8 946.7 L1327.0 949.2 L1327.2 947.8 L1327.6 947.7 L1328.0 948.0 L1328.4 946.2 L1328.8 944.3 L1329.2 945.6 L1329.6 943.7 L1330.0 941.9 L1330.4 940.5 L1330.8 939.2 L1331.2 940.6 L1331.6 938.5 L1331.7 941.2 L1332.0 938.0 L1332.4 940.6 L1332.8 938.8 L1333.2 938.7 L1333.6 940.5 L1334.0 939.9 L1334.4 940.6 L1334.8 939.1 L1335.2 940.3 L1335.6 939.8 L1336.0 940.6 L1336.4 941.9 L1336.8 941.7 L1337.2 942.0 L1337.6 943.8 L1338.0 943.4 L1338.4 945.3 L1338.8 947.9 L1339.2 947.6 L1339.6 949.7 L1340.0 949.2 L1340.4 949.0 L1340.6 950.0 L1340.8 950.5 L1341.2 949.8 L1341.6 950.2 L1342.0 951.3 L1342.4 949.5 L1342.7 950.0 L1342.8 948.5 L1343.2 947.1 L1343.6 940.9 L1344.0 938.9 L1344.1 938.3 L1344.4 939.9 L1344.8 942.6 L1345.2 945.9 L1345.6 946.1 L1346.0 947.0 L1346.4 948.9 L1346.8 947.3 L1347.2 948.1 L1347.5 949.6 L1347.6 948.9 L1348.0 949.0 L1348.4 946.9 L1348.8 949.4 L1349.2 950.8 L1349.6 951.0 L1350.0 951.3 L1350.4 951.5 L1350.8 951.6 L1351.2 952.7 L1351.6 953.6 L1352.0 952.6 L1352.4 955.6 L1352.8 953.8 L1353.2 956.0 L1353.4 955.5 L1353.6 953.9 L1354.0 954.7 L1354.4 955.0 L1354.8 955.6 L1355.2 954.0 L1355.6 955.6 L1356.0 956.1 L1356.4 955.4 L1356.8 956.1 L1357.2 955.8 L1357.6 956.2 L1358.0 955.9 L1358.4 956.2 L1358.8 957.8 L1359.2 957.5 L1359.6 957.9 L1360.0 957.0 L1360.4 957.9 L1360.8 958.5 L1361.2 956.4 L1361.6 957.0 L1362.0 957.1 L1362.4 958.3 L1362.8 958.5 L1363.2 960.1 L1363.3 959.4 L1363.6 956.2 L1364.0 958.9 L1364.4 958.4 L1364.8 959.4 L1365.2 957.4 L1365.6 957.0 L1366.0 957.3 L1366.4 958.6 L1366.8 957.9 L1367.2 958.8 L1367.6 960.0 L1368.0 957.5 L1368.4 958.0 L1368.8 958.7 L1369.2 959.0 L1369.6 957.8 L1370.0 958.4 L1370.4 957.3 L1370.8 959.3 L1371.2 958.6 L1371.6 959.2 L1372.0 958.9 L1372.4 958.1 L1372.8 958.5 L1373.2 958.4 L1373.6 957.3 L1374.0 957.1 L1374.4 957.1 L1374.8 957.6 L1375.2 957.7 L1375.6 958.4 L1376.0 957.3 L1376.4 957.5 L1376.8 958.7 L1377.2 957.2 L1377.6 956.6 L1378.0 959.8 L1378.4 956.4 L1378.8 956.8 L1379.2 959.0 L1379.6 957.2 L1380.0 956.7 L1380.4 957.1 L1380.8 956.7 L1381.2 955.9 L1381.6 954.6 L1382.0 955.6 L1382.4 955.2 L1382.8 955.9 L1383.2 955.9 L1383.6 957.3 L1384.0 957.1 L1384.4 956.0 L1384.8 958.2 L1385.2 958.6 L1385.6 955.2 L1386.0 955.9 L1386.4 958.4 L1386.8 956.8 L1387.2 956.3 L1387.6 956.0 L1388.0 956.3 L1388.4 957.3 L1388.8 957.0 L1389.0 956.3 L1389.2 956.0 L1389.6 956.0 L1390.0 957.5 L1390.4 956.7 L1390.8 957.4 L1391.2 957.6 L1391.6 957.9 L1392.0 956.8 L1392.4 960.6 L1392.8 958.9 L1393.2 959.9 L1393.6 957.6 L1394.0 957.1 L1394.4 958.8 L1394.8 958.4 L1395.2 957.9 L1395.6 960.5 L1396.0 958.1 L1396.4 957.8 L1396.8 961.2 L1397.2 959.9 L1397.6 958.4 L1398.0 960.3"/>
</g>
<g font-family="'Liberation Sans', Arial, Helvetica, sans-serif" font-size="38.4" fill="#000" text-anchor="middle">
<text x="8.7" y="1024.9">5</text>
<text x="124.5" y="1024.9">10</text>
<text x="240.3" y="1024.9">15</text>
<text x="356.1" y="1024.9">20</text>
<text x="472.0" y="1024.9">25</text>
<text x="587.8" y="1024.9">30</text>
<text x="703.6" y="1024.9">35</text>
<text x="819.5" y="1024.9">40</text>
<text x="935.3" y="1024.9">45</text>
<text x="1051.1" y="1024.9">50</text>
<text x="1166.9" y="1024.9">55</text>
<text x="1282.8" y="1024.9">60</text>
<text x="1398.6" y="1024.9">65</text>
</g>
<g font-family="'Liberation Sans', Arial, Helvetica, sans-serif" font-weight="bold" font-size="38.4" fill="#000"><text transform="translate(482.2 1078) scale(1.106 1)">2<tspan font-style="italic">θ</tspan> (°) [CuKα</text><text transform="translate(925.2 1078) scale(1.043 1)" text-anchor="end">radiation]</text></g>
<g font-family="'Liberation Sans', Arial, Helvetica, sans-serif" font-weight="bold" font-size="31.6">
<text x="1135.5" y="330.8" fill="#FF7F0E">unsieved/dry</text>
<text x="1135.5" y="372" word-spacing="2" fill="#FF7F0E">sintered 1120 °C</text>
<text x="1135.5" y="619.2" fill="#82CFFD">unsieved/moist</text>
<text x="1135.5" y="660.7" word-spacing="2" fill="#82CFFD">sintered 1120 °C</text>
<text x="1242.2" y="912" font-size="36.4" fill="#0868AC">EAC-1A</text>
</g>
<g font-family="'Liberation Sans', Arial, Helvetica, sans-serif" font-size="27" fill="#808080">
<text x="583.4" y="78.3" text-anchor="middle">A</text>
<text x="720.4" y="181.8" text-anchor="middle">A</text>
<text x="536.8" y="274.7" text-anchor="middle">A,P</text>
<text x="598.6" y="266.2" text-anchor="middle">A</text>
<text x="609.3" y="344.9" text-anchor="middle">A</text>
<text x="639.3" y="365.6" text-anchor="middle">F</text>
<text x="702.2" y="257.3" text-anchor="middle">A</text>
<text x="698.2" y="385.8" text-anchor="middle">A</text>
<text x="747.0" y="281.4" text-anchor="middle">F,P</text>
<text x="401.7" y="365.6" text-anchor="middle">P</text>
<text x="419.3" y="390.4" text-anchor="middle">F</text>
<text x="452.8" y="336.5" text-anchor="middle">F,P</text>
<text x="459.9" y="439.1" text-anchor="middle">P</text>
<text x="479.4" y="438.5" text-anchor="middle">F</text>
<text x="292.9" y="451.5" text-anchor="middle">F</text>
<text x="798.7" y="409.0" text-anchor="middle">A</text>
<text x="923.0" y="446.2" text-anchor="middle">A</text>
<text x="1097.0" y="420.6" text-anchor="middle">F</text>
<text x="293.9" y="671.5" text-anchor="middle">F</text>
<text x="399.6" y="631.6" text-anchor="middle">P</text>
<text x="420.9" y="615.2" text-anchor="middle">F</text>
<text x="452.7" y="593.4" text-anchor="middle">F,P</text>
<text x="461.3" y="683.3" text-anchor="middle">P</text>
<text x="481.3" y="679.9" text-anchor="middle">F</text>
<text x="537.8" y="579.5" text-anchor="middle">A,P</text>
<text x="598.3" y="593.4" text-anchor="middle">A</text>
<text x="607.2" y="627.0" text-anchor="middle">A</text>
<text x="638.9" y="597.3" text-anchor="middle">F</text>
<text x="696.2" y="635.8" text-anchor="middle">A</text>
<text x="704.7" y="560.4" text-anchor="middle">A</text>
<text x="723.8" y="554.8" text-anchor="middle">A</text>
<text x="777.7" y="559.4" text-anchor="middle">F,P</text>
<text x="925.0" y="691.2" text-anchor="middle">A</text>
<text x="1099.2" y="680.2" text-anchor="middle">F</text>
<text x="33.2" y="918.3" text-anchor="middle">?</text>
<text x="98.2" y="922.7" text-anchor="middle">B</text>
<text x="129.4" y="936.1" text-anchor="middle">?</text>
<text x="178.5" y="935.1" text-anchor="middle">?</text>
<text x="293.8" y="876.0" text-anchor="middle">F</text>
<text x="359.2" y="873.0" text-anchor="middle">B</text>
<text x="399.7" y="905.3" text-anchor="middle">P</text>
<text x="409.4" y="842.0" text-anchor="middle">F</text>
<text x="462.9" y="899.3" text-anchor="middle">P</text>
<text x="481.1" y="904.7" text-anchor="middle">F</text>
<text x="490.0" y="818.9" text-anchor="middle">An</text>
<text x="641.3" y="785.3" text-anchor="middle">F</text>
<text x="705.5" y="816.3" text-anchor="middle">A</text>
<text x="720.4" y="791.6" text-anchor="middle">A</text>
<text x="750.2" y="855.3" text-anchor="middle">F,P</text>
<text x="928.0" y="912.3" text-anchor="middle">A</text>
<text x="1096.8" y="847.7" text-anchor="middle">F</text>
<text x="1207.9" y="884.2" text-anchor="middle">A</text>
<text transform="translate(217.0 476.8) rotate(-90)">A,P</text>
<text transform="translate(884.0 431.2) rotate(-90)">A,P</text>
<text transform="translate(1320.8 441.8) rotate(-90)">A,F</text>
<text transform="translate(1351.4 427.0) rotate(-90)">F,P</text>
<text transform="translate(217.4 711.4) rotate(-90)">A,P</text>
<text transform="translate(883.0 674.0) rotate(-90)">A,P</text>
<text transform="translate(223.3 929.8) rotate(-90)">A,P</text>
<text transform="translate(263.8 898.6) rotate(-90)">An</text>
<text transform="translate(881.0 897.5) rotate(-90)">A,P</text>
</g>
<g fill="#808080" stroke="none">
<polygon points="745.5,290.7 738.1,322.0 735.4,321.3 734.8,342.3 743.7,323.3 741.0,322.7 748.5,291.3"/>
<polygon points="451.6,344.4 442.7,376.5 440.0,375.7 438.7,396.6 448.3,378.0 445.6,377.3 454.4,345.2"/>
<polygon points="451.6,601.9 442.9,634.1 440.2,633.3 439.1,654.2 448.5,635.6 445.8,634.8 454.4,602.7"/>
<polygon points="761.8,566.4 749.4,572.9 748.1,570.4 732.0,583.7 752.1,578.0 750.8,575.5 763.2,569.0"/>
<polygon points="358.5,886.5 374.5,905.6 372.4,907.4 388.8,920.3 378.9,901.9 376.8,903.7 360.7,884.5"/>
<polygon points="408.5,853.6 415.4,891.9 412.6,892.4 420.5,911.8 421.1,890.8 418.3,891.3 411.5,853.0"/>
<polygon points="488.5,829.3 490.5,869.7 487.8,869.8 493.1,890.1 496.3,869.4 493.5,869.5 491.5,829.1"/>
<polygon points="749.2,865.3 740.9,894.6 738.2,893.8 736.8,914.7 746.5,896.2 743.8,895.4 752.0,866.1"/>
</g>
</svg>
</body></html>
